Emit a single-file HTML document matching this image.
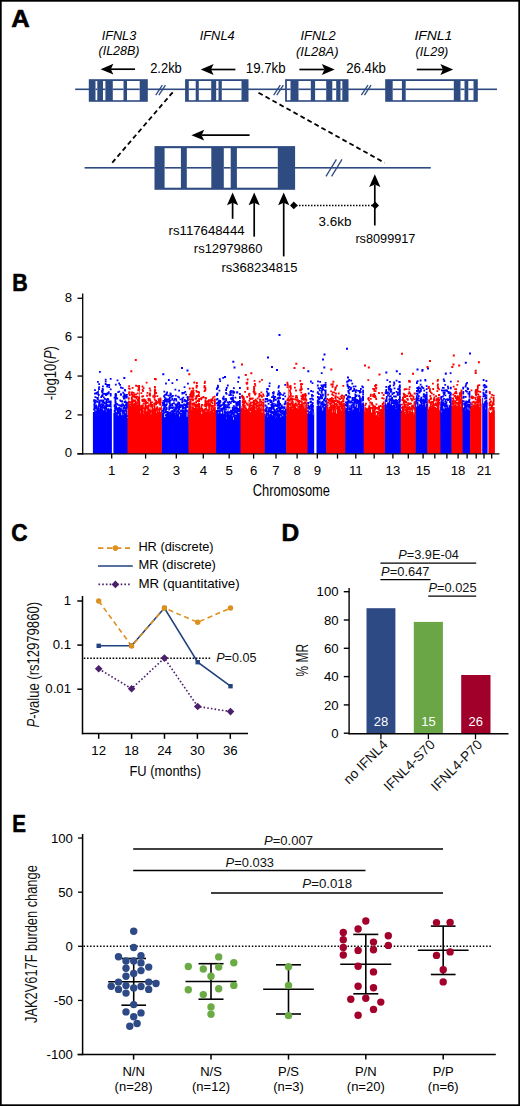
<!DOCTYPE html>
<html><head><meta charset="utf-8"><style>html,body{margin:0;padding:0;background:#fff;}svg{display:block;}text{font-family:"Liberation Sans",sans-serif;}</style></head>
<body><svg width="520" height="1106" viewBox="0 0 520 1106">
<rect width="520" height="1106" fill="#fff"/>
<text transform="translate(11.2,27.2) scale(1.1,1)" font-size="23.3" font-weight="bold" fill="#000" stroke="#000" stroke-width="0.6" stroke-linejoin="round">A</text>
<rect x="75.20" y="88.50" width="421.80" height="1.60" fill="#2e4b82"/>
<rect x="88.80" y="79.20" width="59.00" height="22.60" fill="#2e4b82"/>
<rect x="95.50" y="81.00" width="1.80" height="19.20" fill="#fff"/>
<rect x="103.00" y="81.00" width="2.40" height="19.20" fill="#fff"/>
<rect x="112.80" y="81.00" width="10.70" height="19.20" fill="#fff"/>
<rect x="127.00" y="81.00" width="12.70" height="19.20" fill="#fff"/>
<rect x="95.50" y="88.50" width="1.80" height="1.60" fill="#2e4b82"/>
<rect x="103.00" y="88.50" width="2.40" height="1.60" fill="#2e4b82"/>
<rect x="112.80" y="88.50" width="10.70" height="1.60" fill="#2e4b82"/>
<rect x="127.00" y="88.50" width="12.70" height="1.60" fill="#2e4b82"/>
<rect x="185.10" y="79.20" width="63.40" height="22.60" fill="#2e4b82"/>
<rect x="188.80" y="81.00" width="6.90" height="19.20" fill="#fff"/>
<rect x="198.80" y="81.00" width="12.40" height="19.20" fill="#fff"/>
<rect x="216.20" y="81.00" width="2.30" height="19.20" fill="#fff"/>
<rect x="221.80" y="81.00" width="19.70" height="19.20" fill="#fff"/>
<rect x="188.80" y="88.50" width="6.90" height="1.60" fill="#2e4b82"/>
<rect x="198.80" y="88.50" width="12.40" height="1.60" fill="#2e4b82"/>
<rect x="216.20" y="88.50" width="2.30" height="1.60" fill="#2e4b82"/>
<rect x="221.80" y="88.50" width="19.70" height="1.60" fill="#2e4b82"/>
<rect x="285.10" y="79.20" width="63.40" height="22.60" fill="#2e4b82"/>
<rect x="286.90" y="81.00" width="3.60" height="19.20" fill="#fff"/>
<rect x="298.50" y="81.00" width="12.30" height="19.20" fill="#fff"/>
<rect x="315.10" y="81.00" width="11.10" height="19.20" fill="#fff"/>
<rect x="332.30" y="81.00" width="3.90" height="19.20" fill="#fff"/>
<rect x="340.50" y="81.00" width="1.80" height="19.20" fill="#fff"/>
<rect x="286.90" y="88.50" width="3.60" height="1.60" fill="#2e4b82"/>
<rect x="298.50" y="88.50" width="12.30" height="1.60" fill="#2e4b82"/>
<rect x="315.10" y="88.50" width="11.10" height="1.60" fill="#2e4b82"/>
<rect x="332.30" y="88.50" width="3.90" height="1.60" fill="#2e4b82"/>
<rect x="340.50" y="88.50" width="1.80" height="1.60" fill="#2e4b82"/>
<rect x="385.20" y="79.20" width="92.60" height="22.60" fill="#2e4b82"/>
<rect x="392.70" y="81.00" width="9.20" height="19.20" fill="#fff"/>
<rect x="405.70" y="81.00" width="48.10" height="19.20" fill="#fff"/>
<rect x="460.50" y="81.00" width="4.00" height="19.20" fill="#fff"/>
<rect x="468.30" y="81.00" width="5.20" height="19.20" fill="#fff"/>
<rect x="392.70" y="88.50" width="9.20" height="1.60" fill="#2e4b82"/>
<rect x="405.70" y="88.50" width="48.10" height="1.60" fill="#2e4b82"/>
<rect x="460.50" y="88.50" width="4.00" height="1.60" fill="#2e4b82"/>
<rect x="468.30" y="88.50" width="5.20" height="1.60" fill="#2e4b82"/>
<line x1="155.74999999999997" y1="95.2" x2="162.35" y2="85.2" stroke="#2e4b82" stroke-width="1.3" />
<line x1="158.85" y1="95.2" x2="165.45000000000002" y2="85.2" stroke="#2e4b82" stroke-width="1.3" />
<line x1="273.65" y1="95.2" x2="280.25" y2="85.2" stroke="#2e4b82" stroke-width="1.3" />
<line x1="276.75" y1="95.2" x2="283.35" y2="85.2" stroke="#2e4b82" stroke-width="1.3" />
<line x1="361.34999999999997" y1="95.2" x2="367.95" y2="85.2" stroke="#2e4b82" stroke-width="1.3" />
<line x1="364.45" y1="95.2" x2="371.05" y2="85.2" stroke="#2e4b82" stroke-width="1.3" />
<text x="101.7" y="39.7" font-size="13.6" font-style="italic" textLength="34.5" lengthAdjust="spacingAndGlyphs" >IFNL3</text>
<text x="98.5" y="55.2" font-size="13.6" font-style="italic" textLength="41" lengthAdjust="spacingAndGlyphs" >(IL28B)</text>
<text x="199.7" y="40" font-size="13.6" font-style="italic" textLength="35" lengthAdjust="spacingAndGlyphs" >IFNL4</text>
<text x="300.5" y="40" font-size="13.6" font-style="italic" textLength="35.3" lengthAdjust="spacingAndGlyphs" >IFNL2</text>
<text x="296" y="55.6" font-size="13.6" font-style="italic" textLength="42.5" lengthAdjust="spacingAndGlyphs" >(IL28A)</text>
<text x="414.4" y="40" font-size="13.6" font-style="italic" textLength="38" lengthAdjust="spacingAndGlyphs" >IFNL1</text>
<text x="415.5" y="55.6" font-size="13.6" font-style="italic" textLength="32.8" lengthAdjust="spacingAndGlyphs" >(IL29)</text>
<text x="150.2" y="73.2" font-size="14" textLength="31.6" lengthAdjust="spacingAndGlyphs" >2.2kb</text>
<text x="245.8" y="73.4" font-size="14" textLength="39.8" lengthAdjust="spacingAndGlyphs" >19.7kb</text>
<text x="346.2" y="73.4" font-size="14" textLength="39.8" lengthAdjust="spacingAndGlyphs" >26.4kb</text>
<line x1="110.8" y1="69.2" x2="135" y2="69.2" stroke="#000" stroke-width="1.7" />
<path d="M100.6,69.2 L113.39999999999999,63.800000000000004 L110.8,69.2 L113.39999999999999,74.60000000000001 Z" fill="#000"/>
<line x1="211.0" y1="69.5" x2="235.4" y2="69.5" stroke="#000" stroke-width="1.7" />
<path d="M200.8,69.5 L213.60000000000002,64.1 L211.0,69.5 L213.60000000000002,74.9 Z" fill="#000"/>
<line x1="324.5" y1="69.5" x2="299.4" y2="69.5" stroke="#000" stroke-width="1.7" />
<path d="M334.7,69.5 L321.9,64.1 L324.5,69.5 L321.9,74.9 Z" fill="#000"/>
<line x1="443.0" y1="69.5" x2="416.8" y2="69.5" stroke="#000" stroke-width="1.7" />
<path d="M453.2,69.5 L440.4,64.1 L443.0,69.5 L440.4,74.9 Z" fill="#000"/>
<rect x="84.60" y="167.00" width="346.20" height="1.60" fill="#2e4b82"/>
<rect x="154.50" y="146.10" width="140.60" height="43.70" fill="#2e4b82"/>
<rect x="164.60" y="148.20" width="16.30" height="39.50" fill="#fff"/>
<rect x="186.80" y="148.20" width="24.50" height="39.50" fill="#fff"/>
<rect x="223.80" y="148.20" width="6.90" height="39.50" fill="#fff"/>
<rect x="236.90" y="148.20" width="40.90" height="39.50" fill="#fff"/>
<rect x="164.60" y="167.00" width="16.30" height="1.60" fill="#2e4b82"/>
<rect x="186.80" y="167.00" width="24.50" height="1.60" fill="#2e4b82"/>
<rect x="223.80" y="167.00" width="6.90" height="1.60" fill="#2e4b82"/>
<rect x="236.90" y="167.00" width="40.90" height="1.60" fill="#2e4b82"/>
<line x1="201.6" y1="135.2" x2="249.6" y2="135.2" stroke="#000" stroke-width="1.7" />
<path d="M191.4,135.2 L204.20000000000002,129.79999999999998 L201.6,135.2 L204.20000000000002,140.6 Z" fill="#000"/>
<line x1="326.0" y1="176.3" x2="336.4" y2="159.4" stroke="#2e4b82" stroke-width="1.3" />
<line x1="331.6" y1="176.3" x2="342.0" y2="159.4" stroke="#2e4b82" stroke-width="1.3" />
<line x1="172.7" y1="92.3" x2="111.9" y2="163.1" stroke="#000" stroke-width="1.8" stroke-dasharray="4.8 3.2"/>
<line x1="258.5" y1="92.7" x2="384.6" y2="162.8" stroke="#000" stroke-width="1.8" stroke-dasharray="4.8 3.2"/>
<line x1="232.6" y1="202.8" x2="232.6" y2="218.8" stroke="#000" stroke-width="1.7" />
<path d="M232.6,192.4 L227.0,205.20000000000002 L232.6,202.8 L238.2,205.20000000000002 Z" fill="#000"/>
<line x1="254.2" y1="202.8" x2="254.2" y2="236.7" stroke="#000" stroke-width="1.7" />
<path d="M254.2,192.4 L248.6,205.20000000000002 L254.2,202.8 L259.8,205.20000000000002 Z" fill="#000"/>
<line x1="283.7" y1="202.8" x2="283.7" y2="256.4" stroke="#000" stroke-width="1.7" />
<path d="M283.7,192.4 L278.09999999999997,205.20000000000002 L283.7,202.8 L289.3,205.20000000000002 Z" fill="#000"/>
<line x1="374.8" y1="184.6" x2="374.8" y2="225.5" stroke="#000" stroke-width="1.7" />
<path d="M374.8,174.2 L369.2,187.0 L374.8,184.6 L380.40000000000003,187.0 Z" fill="#000"/>
<line x1="296" y1="205.4" x2="373" y2="205.4" stroke="#000" stroke-width="1.5" stroke-dasharray="1.5 1.5"/>
<path d="M293.8,201.6 L297.6,205.4 L293.8,209.20000000000002 L290.0,205.4 Z" fill="#000"/>
<path d="M375.2,201.6 L379.0,205.4 L375.2,209.20000000000002 L371.4,205.4 Z" fill="#000"/>
<text x="168.6" y="235.2" font-size="13" textLength="76" lengthAdjust="spacingAndGlyphs" >rs117648444</text>
<text x="193.8" y="252.7" font-size="13" textLength="68.7" lengthAdjust="spacingAndGlyphs" >rs12979860</text>
<text x="221.5" y="271.8" font-size="13" textLength="76" lengthAdjust="spacingAndGlyphs" >rs368234815</text>
<text x="318.5" y="225.5" font-size="13.6" textLength="32.9" lengthAdjust="spacingAndGlyphs" >3.6kb</text>
<text x="355.4" y="242.5" font-size="13" textLength="60" lengthAdjust="spacingAndGlyphs" >rs8099917</text>
<text transform="translate(12.2,291.3) scale(0.92,1)" font-size="23.3" font-weight="bold" fill="#000" stroke="#000" stroke-width="0.6" stroke-linejoin="round">B</text>
<path fill="#0000ff" d="M92.9,453.8 L92.9,411.9 L93.9,411.9 L93.9,408.2 L94.6,408.2 L94.6,412.2 L95.3,412.2 L95.3,409.2 L96.0,409.2 L96.0,411.9 L96.7,411.9 L96.7,412.1 L97.4,412.1 L97.4,405.5 L98.1,405.5 L98.1,387.2 L98.8,387.2 L98.8,405.8 L99.5,405.8 L99.5,409.8 L100.2,409.8 L100.2,405.2 L100.9,405.2 L100.9,408.8 L101.6,408.8 L101.6,406.5 L102.3,406.5 L102.3,408.6 L103.0,408.6 L103.0,412.4 L103.7,412.4 L103.7,409.5 L104.4,409.5 L104.4,410.9 L105.1,410.9 L105.1,408.6 L105.8,408.6 L105.8,407.1 L106.5,407.1 L106.5,412.2 L107.2,412.2 L107.2,409.3 L107.9,409.3 L107.9,408.2 L108.6,408.2 L108.6,407.8 L109.3,407.8 L109.3,411.0 L110.0,411.0 L110.0,407.5 L110.7,407.5 L110.7,409.1 L111.4,409.1 L111.4,406.8 L111.9,406.8 L111.9,453.8ZM113.4,453.8 L113.4,412.8 L114.4,412.8 L114.4,410.1 L115.1,410.1 L115.1,407.1 L115.8,407.1 L115.8,412.1 L116.5,412.1 L116.5,412.3 L117.2,412.3 L117.2,413.8 L117.9,413.8 L117.9,415.6 L118.6,415.6 L118.6,410.1 L119.3,410.1 L119.3,412.2 L120.0,412.2 L120.0,412.4 L120.7,412.4 L120.7,406.8 L121.4,406.8 L121.4,415.2 L122.1,415.2 L122.1,411.9 L122.8,411.9 L122.8,414.8 L123.5,414.8 L123.5,407.1 L124.2,407.1 L124.2,411.5 L124.9,411.5 L124.9,413.2 L125.6,413.2 L125.6,412.6 L126.3,412.6 L126.3,408.2 L127.0,408.2 L127.0,418.0 L127.7,418.0 L127.7,406.7 L128.1,406.7 L128.1,453.8ZM161.2,453.8 L161.2,410.8 L162.2,410.8 L162.2,412.7 L162.9,412.7 L162.9,413.2 L163.6,413.2 L163.6,409.5 L164.3,409.5 L164.3,417.3 L165.0,417.3 L165.0,416.8 L165.7,416.8 L165.7,409.2 L166.4,409.2 L166.4,414.4 L167.1,414.4 L167.1,415.0 L167.8,415.0 L167.8,411.7 L168.5,411.7 L168.5,411.3 L169.2,411.3 L169.2,413.8 L169.9,413.8 L169.9,415.0 L170.6,415.0 L170.6,413.1 L171.3,413.1 L171.3,412.1 L172.0,412.1 L172.0,411.7 L172.7,411.7 L172.7,413.0 L173.4,413.0 L173.4,412.9 L174.1,412.9 L174.1,412.8 L174.8,412.8 L174.8,410.3 L175.5,410.3 L175.5,415.1 L176.2,415.1 L176.2,415.1 L176.9,415.1 L176.9,414.1 L177.6,414.1 L177.6,411.1 L178.3,411.1 L178.3,413.7 L179.0,413.7 L179.0,416.5 L179.7,416.5 L179.7,412.4 L180.4,412.4 L180.4,414.2 L181.1,414.2 L181.1,415.0 L181.8,415.0 L181.8,413.9 L182.5,413.9 L182.5,414.7 L183.2,414.7 L183.2,413.3 L183.9,413.3 L183.9,411.7 L184.6,411.7 L184.6,410.5 L185.3,410.5 L185.3,412.0 L186.0,412.0 L186.0,412.5 L186.7,412.5 L186.7,416.8 L187.4,416.8 L187.4,411.8 L188.1,411.8 L188.1,408.4 L188.8,408.4 L189.1,453.8ZM215.5,453.8 L215.5,415.9 L216.5,415.9 L216.5,416.1 L217.2,416.1 L217.2,410.0 L217.9,410.0 L217.9,413.5 L218.6,413.5 L218.6,410.1 L219.3,410.1 L219.3,406.7 L220.0,406.7 L220.0,409.0 L220.7,409.0 L220.7,413.8 L221.4,413.8 L221.4,413.2 L222.1,413.2 L222.1,408.8 L222.8,408.8 L222.8,407.3 L223.5,407.3 L223.5,413.8 L224.2,413.8 L224.2,407.5 L224.9,407.5 L224.9,414.6 L225.6,414.6 L225.6,407.8 L226.3,407.8 L226.3,418.6 L227.0,418.6 L227.0,412.8 L227.7,412.8 L227.7,408.7 L228.4,408.7 L228.4,413.8 L229.1,413.8 L229.1,412.4 L229.8,412.4 L229.8,415.1 L230.5,415.1 L230.5,414.0 L231.2,414.0 L231.2,413.4 L231.9,413.4 L231.9,416.2 L232.6,416.2 L232.6,413.3 L233.3,413.3 L233.3,419.8 L234.0,419.8 L234.0,405.6 L234.7,405.6 L234.7,414.6 L235.4,414.6 L235.4,416.4 L236.1,416.4 L236.1,414.8 L236.8,414.8 L236.8,412.0 L237.5,412.0 L237.5,412.8 L238.2,412.8 L238.2,413.8 L238.9,413.8 L238.9,414.3 L239.6,414.3 L239.6,408.3 L240.3,408.3 L240.3,412.3 L241.1,412.3 L241.1,453.8ZM264.1,453.8 L264.1,414.0 L265.1,414.0 L265.1,415.2 L265.8,415.2 L265.8,412.2 L266.5,412.2 L266.5,404.7 L267.2,404.7 L267.2,416.8 L267.9,416.8 L267.9,412.1 L268.6,412.1 L268.6,409.9 L269.3,409.9 L269.3,415.2 L270.0,415.2 L270.0,413.6 L270.7,413.6 L270.7,414.2 L271.4,414.2 L271.4,413.0 L272.1,413.0 L272.1,415.2 L272.8,415.2 L272.8,407.6 L273.5,407.6 L273.5,411.5 L274.2,411.5 L274.2,414.5 L274.9,414.5 L274.9,416.3 L275.6,416.3 L275.6,418.0 L276.3,418.0 L276.3,412.4 L277.0,412.4 L277.0,408.7 L277.7,408.7 L277.7,414.4 L278.4,414.4 L278.4,409.7 L279.1,409.7 L279.1,414.8 L279.8,414.8 L279.8,412.8 L280.5,412.8 L280.5,417.2 L281.2,417.2 L281.2,414.5 L281.9,414.5 L281.9,412.6 L282.6,412.6 L282.6,418.0 L283.3,418.0 L283.3,408.2 L284.0,408.2 L284.0,411.5 L284.7,411.5 L284.7,413.1 L285.4,413.1 L285.4,410.1 L286.1,410.1 L286.1,416.0 L286.8,416.0 L286.8,453.8ZM306.9,453.8 L306.9,413.4 L307.9,413.4 L307.9,412.6 L308.6,412.6 L308.6,412.5 L309.3,412.5 L309.3,414.0 L310.0,414.0 L310.0,412.5 L310.7,412.5 L310.7,412.2 L311.4,412.2 L311.4,410.1 L312.1,410.1 L312.1,413.0 L312.8,413.0 L312.8,414.4 L313.5,414.4 L313.5,412.8 L314.2,412.8 L314.2,453.8ZM316.5,453.8 L316.5,405.9 L317.5,405.9 L317.5,398.9 L318.2,398.9 L318.2,404.1 L318.9,404.1 L318.9,406.1 L319.6,406.1 L319.6,399.2 L320.3,399.2 L320.3,405.2 L321.0,405.2 L321.0,404.4 L321.7,404.4 L321.7,407.6 L322.4,407.6 L322.4,410.6 L323.1,410.6 L323.1,404.3 L323.8,404.3 L323.8,406.9 L324.5,406.9 L324.5,407.3 L325.2,407.3 L325.2,404.9 L325.9,404.9 L325.9,399.3 L326.8,399.3 L326.8,453.8ZM344.7,453.8 L344.7,407.5 L345.7,407.5 L345.7,410.7 L346.4,410.7 L346.4,409.6 L347.1,409.6 L347.1,405.2 L347.8,405.2 L347.8,402.6 L348.5,402.6 L348.5,410.9 L349.2,410.9 L349.2,405.1 L349.9,405.1 L349.9,408.0 L350.6,408.0 L350.6,404.6 L351.3,404.6 L351.3,405.8 L352.0,405.8 L352.0,406.5 L352.7,406.5 L352.7,410.5 L353.4,410.5 L353.4,404.3 L354.1,404.3 L354.1,403.4 L354.8,403.4 L354.8,406.7 L355.5,406.7 L355.5,403.6 L356.2,403.6 L356.2,404.3 L356.9,404.3 L356.9,408.1 L357.6,408.1 L357.6,405.1 L358.3,405.1 L358.3,405.1 L359.0,405.1 L359.0,404.3 L359.7,404.3 L359.7,411.5 L360.4,411.5 L360.4,412.0 L361.1,412.0 L361.1,406.9 L361.8,406.9 L361.8,408.4 L362.5,408.4 L362.5,408.0 L363.2,408.0 L363.2,403.1 L363.9,403.1 L363.9,406.1 L364.3,406.1 L364.3,453.8ZM384.3,453.8 L384.3,404.9 L385.3,404.9 L385.3,400.9 L386.0,400.9 L386.0,405.1 L386.7,405.1 L386.7,408.4 L387.4,408.4 L387.4,403.9 L388.1,403.9 L388.1,404.0 L388.8,404.0 L388.8,400.5 L389.5,400.5 L389.5,395.4 L390.2,395.4 L390.2,405.3 L390.9,405.3 L390.9,404.4 L391.6,404.4 L391.6,408.0 L392.3,408.0 L392.3,407.8 L393.0,407.8 L393.0,404.5 L393.7,404.5 L393.7,402.2 L394.4,402.2 L394.4,405.0 L395.1,405.0 L395.1,406.3 L395.8,406.3 L395.8,409.0 L396.5,409.0 L396.5,407.9 L397.2,407.9 L397.2,406.4 L397.9,406.4 L397.9,406.7 L398.6,406.7 L398.6,402.4 L399.3,402.4 L399.3,405.6 L400.0,405.6 L400.0,404.0 L400.7,404.0 L400.7,408.6 L401.1,408.6 L401.1,453.8ZM415.1,453.8 L415.1,401.5 L416.1,401.5 L416.1,406.7 L416.8,406.7 L416.8,406.1 L417.5,406.1 L417.5,400.0 L418.2,400.0 L418.2,405.7 L418.9,405.7 L418.9,403.8 L419.6,403.8 L419.6,404.4 L420.3,404.4 L420.3,404.6 L421.0,404.6 L421.0,404.4 L421.7,404.4 L421.7,404.9 L422.4,404.9 L422.4,404.8 L423.1,404.8 L423.1,399.2 L423.8,399.2 L423.8,402.6 L424.5,402.6 L424.5,402.6 L425.2,402.6 L425.2,406.7 L425.9,406.7 L425.9,402.8 L426.6,402.8 L426.6,406.1 L427.3,406.1 L427.3,398.7 L427.9,398.7 L427.9,453.8ZM439.9,453.8 L439.9,407.2 L440.9,407.2 L440.9,412.2 L441.6,412.2 L441.6,405.8 L442.3,405.8 L442.3,405.8 L443.0,405.8 L443.0,407.6 L443.7,407.6 L443.7,409.1 L444.4,409.1 L444.4,406.4 L445.1,406.4 L445.1,405.8 L445.8,405.8 L445.8,407.9 L446.5,407.9 L446.5,404.6 L447.2,404.6 L447.2,405.2 L447.9,405.2 L447.9,407.5 L448.6,407.5 L448.6,404.5 L449.3,404.5 L449.3,405.2 L450.0,405.2 L450.0,401.4 L450.7,401.4 L450.7,403.3 L451.4,403.3 L451.4,405.4 L452.0,405.4 L452.0,453.8ZM462.0,453.8 L462.0,400.1 L463.0,400.1 L463.0,411.5 L463.7,411.5 L463.7,408.2 L464.4,408.2 L464.4,410.5 L465.1,410.5 L465.1,407.7 L465.8,407.7 L465.8,410.0 L466.5,410.0 L466.5,403.0 L467.2,403.0 L467.2,410.7 L467.9,410.7 L467.9,406.4 L468.6,406.4 L468.6,410.6 L469.3,410.6 L469.3,408.9 L470.0,408.9 L470.0,402.0 L470.7,402.0 L470.7,453.8ZM482.2,453.8 L482.2,397.8 L483.2,397.8 L483.2,403.5 L483.9,403.5 L483.9,405.8 L484.6,405.8 L484.6,402.8 L485.3,402.8 L485.3,408.4 L486.0,408.4 L486.0,402.0 L486.7,402.0 L486.7,402.2 L487.6,402.2 L487.6,453.8Z"/>
<path fill="#ff0000" d="M127.5,453.8 L127.5,402.1 L128.5,402.1 L128.5,396.3 L129.2,396.3 L129.2,404.7 L129.9,404.7 L129.9,405.5 L130.6,405.5 L130.6,405.3 L131.3,405.3 L131.3,400.9 L132.0,400.9 L132.0,401.6 L132.7,401.6 L132.7,400.8 L133.4,400.8 L133.4,403.7 L134.1,403.7 L134.1,403.2 L134.8,403.2 L134.8,400.4 L135.5,400.4 L135.5,398.8 L136.2,398.8 L136.2,401.2 L136.9,401.2 L136.9,404.7 L137.6,404.7 L137.6,400.5 L138.3,400.5 L138.3,403.4 L139.0,403.4 L139.0,389.6 L139.7,389.6 L139.7,402.1 L140.3,402.1 L140.3,453.8ZM139.7,453.8 L139.7,413.7 L140.7,413.7 L140.7,408.9 L141.4,408.9 L141.4,410.9 L142.1,410.9 L142.1,410.3 L142.8,410.3 L142.8,410.2 L143.5,410.2 L143.5,415.0 L144.2,415.0 L144.2,409.9 L144.9,409.9 L144.9,410.1 L145.6,410.1 L145.6,409.9 L146.3,409.9 L146.3,412.3 L147.0,412.3 L147.0,409.1 L147.7,409.1 L147.7,412.4 L148.4,412.4 L148.4,402.3 L149.1,402.3 L149.1,413.7 L149.8,413.7 L149.8,407.1 L150.5,407.1 L150.5,414.2 L151.2,414.2 L151.2,409.9 L151.9,409.9 L151.9,407.8 L152.6,407.8 L152.6,408.3 L153.3,408.3 L153.3,408.4 L154.0,408.4 L154.0,402.4 L154.7,402.4 L154.7,404.7 L155.4,404.7 L155.4,409.5 L156.1,409.5 L156.1,412.4 L156.8,412.4 L156.8,412.9 L157.5,412.9 L157.5,406.0 L158.2,406.0 L158.2,411.6 L158.9,411.6 L158.9,409.0 L159.6,409.0 L159.6,407.1 L160.3,407.1 L160.3,412.1 L161.0,412.1 L161.0,405.9 L161.8,405.9 L161.8,453.8ZM188.5,453.8 L188.5,401.7 L189.5,401.7 L189.5,402.1 L190.2,402.1 L190.2,401.6 L190.9,401.6 L190.9,400.8 L191.6,400.8 L191.6,409.4 L192.3,409.4 L192.3,402.5 L193.0,402.5 L193.0,406.0 L193.7,406.0 L193.7,407.8 L194.4,407.8 L194.4,407.9 L195.1,407.9 L195.1,405.4 L195.8,405.4 L195.8,396.5 L196.5,396.5 L196.5,407.2 L197.2,407.2 L197.2,408.2 L197.9,408.2 L197.9,402.3 L198.6,402.3 L198.6,407.4 L199.3,407.4 L199.3,406.6 L200.0,406.6 L200.3,453.8ZM199.7,453.8 L199.7,409.0 L200.7,409.0 L200.7,411.0 L201.4,411.0 L201.4,414.1 L202.1,414.1 L202.1,409.5 L202.8,409.5 L202.8,411.1 L203.5,411.1 L203.5,411.6 L204.2,411.6 L204.2,409.0 L204.9,409.0 L204.9,411.1 L205.6,411.1 L205.6,411.9 L206.3,411.9 L206.3,406.8 L207.0,406.8 L207.0,411.0 L207.7,411.0 L207.7,410.3 L208.4,410.3 L208.4,409.6 L209.1,409.6 L209.1,407.7 L209.8,407.7 L209.8,413.2 L210.5,413.2 L210.5,406.0 L211.2,406.0 L211.2,407.3 L211.9,407.3 L211.9,407.0 L212.6,407.0 L212.6,409.5 L213.3,409.5 L213.3,412.3 L214.0,412.3 L214.0,410.2 L214.7,410.2 L214.7,409.3 L215.4,409.3 L215.4,410.7 L216.1,410.7 L216.1,453.8ZM240.5,453.8 L240.5,409.3 L241.5,409.3 L241.5,405.9 L242.2,405.9 L242.2,407.5 L242.9,407.5 L242.9,405.7 L243.6,405.7 L243.6,407.0 L244.3,407.0 L244.3,408.8 L245.0,408.8 L245.0,409.5 L245.7,409.5 L245.7,406.4 L246.4,406.4 L246.4,408.2 L247.1,408.2 L247.1,409.0 L247.8,409.0 L247.8,409.2 L248.5,409.2 L248.5,402.3 L249.2,402.3 L249.2,410.0 L249.9,410.0 L249.9,412.3 L250.6,412.3 L250.6,409.0 L251.3,409.0 L251.3,410.9 L252.0,410.9 L252.0,411.0 L252.7,411.0 L252.7,407.1 L253.4,407.1 L253.4,406.1 L254.1,406.1 L254.1,405.4 L254.8,405.4 L254.8,404.0 L255.5,404.0 L255.5,410.1 L256.2,410.1 L256.2,407.5 L256.9,407.5 L256.9,407.1 L257.6,407.1 L257.6,409.4 L258.3,409.4 L258.3,408.7 L259.0,408.7 L259.0,400.3 L259.7,400.3 L259.7,408.3 L260.4,408.3 L260.4,405.5 L261.1,405.5 L261.1,406.8 L261.8,406.8 L261.8,412.4 L262.5,412.4 L262.5,405.1 L263.2,405.1 L263.2,406.9 L263.9,406.9 L263.9,408.9 L264.7,408.9 L264.7,453.8ZM286.2,453.8 L286.2,406.5 L287.2,406.5 L287.2,407.6 L287.9,407.6 L287.9,383.8 L288.6,383.8 L288.6,403.7 L289.3,403.7 L289.3,409.3 L290.0,409.3 L290.0,405.1 L290.7,405.1 L290.7,407.7 L291.4,407.7 L291.4,404.2 L292.1,404.2 L292.1,408.7 L292.8,408.7 L292.8,406.8 L293.5,406.8 L293.5,407.8 L294.2,407.8 L294.2,407.4 L294.9,407.4 L294.9,406.6 L295.6,406.6 L295.6,398.2 L296.3,398.2 L296.3,408.1 L297.0,408.1 L297.0,406.0 L297.7,406.0 L297.7,408.4 L298.4,408.4 L298.4,405.2 L299.1,405.2 L299.1,408.1 L299.8,408.1 L299.8,408.0 L300.5,408.0 L300.5,405.7 L301.2,405.7 L301.2,399.8 L301.9,399.8 L301.9,406.3 L302.6,406.3 L302.6,402.5 L303.3,402.5 L303.3,406.3 L304.0,406.3 L304.0,401.5 L304.7,401.5 L304.7,408.4 L305.4,408.4 L305.4,405.3 L306.1,405.3 L306.1,409.0 L306.8,409.0 L306.8,407.1 L307.5,407.1 L307.5,453.8ZM326.2,453.8 L326.2,407.5 L327.2,407.5 L327.2,402.9 L327.9,402.9 L327.9,407.4 L328.6,407.4 L328.6,410.2 L329.3,410.2 L329.3,410.4 L330.0,410.4 L330.0,405.0 L330.7,405.0 L330.7,409.1 L331.4,409.1 L331.4,407.6 L332.1,407.6 L332.1,412.4 L332.8,412.4 L332.8,408.1 L333.5,408.1 L333.5,408.7 L334.2,408.7 L334.2,411.7 L334.9,411.7 L334.9,405.4 L335.6,405.4 L335.6,409.6 L336.3,409.6 L336.3,413.5 L337.0,413.5 L337.0,409.3 L337.7,409.3 L337.7,410.1 L338.4,410.1 L338.4,408.1 L339.1,408.1 L339.1,406.5 L339.8,406.5 L339.8,408.1 L340.5,408.1 L340.5,409.2 L341.2,409.2 L341.2,410.5 L341.9,410.5 L341.9,407.1 L342.6,407.1 L342.6,408.3 L343.3,408.3 L343.3,410.2 L344.0,410.2 L344.0,409.9 L344.7,409.9 L344.7,406.4 L345.3,406.4 L345.3,453.8ZM363.7,453.8 L363.7,409.2 L364.7,409.2 L364.7,410.7 L365.4,410.7 L365.4,411.7 L366.1,411.7 L366.1,408.9 L366.8,408.9 L366.8,410.9 L367.5,410.9 L367.5,410.5 L368.2,410.5 L368.2,410.3 L368.9,410.3 L368.9,410.0 L369.6,410.0 L369.6,401.4 L370.3,401.4 L370.3,409.1 L371.0,409.1 L371.0,412.8 L371.7,412.8 L371.7,411.5 L372.4,411.5 L372.4,408.9 L373.1,408.9 L373.1,412.3 L373.8,412.3 L373.8,410.0 L374.5,410.0 L374.5,407.3 L375.2,407.3 L375.2,411.9 L375.9,411.9 L375.9,416.0 L376.6,416.0 L376.6,414.8 L377.3,414.8 L377.3,411.8 L378.0,411.8 L378.0,410.9 L378.7,410.9 L378.7,416.4 L379.4,416.4 L379.4,412.2 L380.1,412.2 L380.1,410.7 L380.8,410.7 L380.8,410.7 L381.5,410.7 L381.5,408.5 L382.2,408.5 L382.2,408.1 L382.9,408.1 L382.9,409.7 L383.6,409.7 L383.6,408.6 L384.3,408.6 L384.3,413.9 L384.9,413.9 L384.9,453.8ZM400.7,453.8 L400.7,412.7 L401.7,412.7 L401.7,410.1 L402.4,410.1 L402.4,410.9 L403.1,410.9 L403.1,408.8 L403.8,408.8 L403.8,406.9 L404.5,406.9 L404.5,412.2 L405.2,412.2 L405.2,414.0 L405.9,414.0 L405.9,408.1 L406.6,408.1 L406.6,409.4 L407.3,409.4 L407.3,405.6 L408.0,405.6 L408.0,412.9 L408.7,412.9 L408.7,410.4 L409.4,410.4 L409.4,408.7 L410.1,408.7 L410.1,409.9 L410.8,409.9 L410.8,411.8 L411.5,411.8 L411.5,406.6 L412.2,406.6 L412.2,408.0 L412.9,408.0 L412.9,412.1 L413.6,412.1 L413.6,414.4 L414.3,414.4 L414.3,408.7 L415.0,408.7 L415.0,408.8 L415.7,408.8 L415.7,453.8ZM427.3,453.8 L427.3,401.8 L428.3,401.8 L428.3,410.8 L429.0,410.8 L429.0,407.9 L429.7,407.9 L429.7,404.7 L430.4,404.7 L430.4,404.4 L431.1,404.4 L431.1,407.5 L431.8,407.5 L431.8,403.4 L432.5,403.4 L432.5,406.4 L433.2,406.4 L433.2,402.2 L433.9,402.2 L433.9,405.5 L434.6,405.5 L434.6,406.8 L435.3,406.8 L435.3,406.9 L436.0,406.9 L436.0,407.9 L436.7,407.9 L436.7,403.8 L437.4,403.8 L437.4,406.3 L438.1,406.3 L438.1,400.6 L438.8,400.6 L438.8,404.7 L439.5,404.7 L439.5,410.3 L440.2,410.3 L440.5,453.8ZM451.4,453.8 L451.4,403.4 L452.4,403.4 L452.4,405.5 L453.1,405.5 L453.1,397.3 L453.8,397.3 L453.8,404.7 L454.5,404.7 L454.5,403.1 L455.2,403.1 L455.2,404.2 L455.9,404.2 L455.9,404.2 L456.6,404.2 L456.6,405.7 L457.3,405.7 L457.3,403.8 L458.0,403.8 L458.0,403.6 L458.7,403.6 L458.7,398.1 L459.4,398.1 L459.4,402.8 L460.1,402.8 L460.1,406.9 L460.8,406.9 L460.8,403.0 L461.5,403.0 L461.5,399.1 L462.2,399.1 L462.2,407.0 L462.6,407.0 L462.6,453.8ZM470.1,453.8 L470.1,406.3 L471.1,406.3 L471.1,405.2 L471.8,405.2 L471.8,404.3 L472.5,404.3 L472.5,407.8 L473.2,407.8 L473.2,405.5 L473.9,405.5 L473.9,402.8 L474.6,402.8 L474.6,405.5 L475.3,405.5 L475.3,403.7 L476.0,403.7 L476.0,404.1 L476.7,404.1 L476.7,400.7 L477.4,400.7 L477.4,403.4 L478.1,403.4 L478.1,402.1 L478.8,402.1 L478.8,405.1 L479.5,405.1 L479.5,407.1 L480.2,407.1 L480.2,405.6 L480.9,405.6 L480.9,403.8 L481.5,403.8 L481.5,453.8ZM488.4,453.8 L488.4,408.3 L489.4,408.3 L489.4,412.1 L490.1,412.1 L490.1,412.9 L490.8,412.9 L490.8,413.1 L491.5,413.1 L491.5,411.5 L492.2,411.5 L492.2,405.3 L492.9,405.3 L492.9,410.2 L493.6,410.2 L493.6,410.4 L494.3,410.4 L494.3,410.5 L494.9,410.5 L494.9,453.8Z"/>
<path fill="#0000ff" d="M93.5 407.1h1.8v1.8h-1.8zM93.2 400.0h1.8v1.8h-1.8zM93.8 401.7h1.8v1.8h-1.8zM93.2 408.7h1.8v1.8h-1.8zM93.2 399.2h1.8v1.8h-1.8zM94.0 392.7h1.8v1.8h-1.8zM93.5 400.5h1.8v1.8h-1.8zM93.5 404.7h1.8v1.8h-1.8zM93.4 403.6h1.8v1.8h-1.8zM93.6 400.0h1.8v1.8h-1.8zM94.5 396.2h1.8v1.8h-1.8zM93.7 405.5h1.8v1.8h-1.8zM93.6 406.3h1.8v1.8h-1.8zM94.3 399.4h1.8v1.8h-1.8zM93.4 403.6h1.8v1.8h-1.8zM94.3 411.2h1.8v1.8h-1.8zM94.9 399.9h1.8v1.8h-1.8zM94.4 401.9h1.8v1.8h-1.8zM94.1 389.2h1.8v1.8h-1.8zM94.3 406.7h1.8v1.8h-1.8zM94.4 407.0h1.8v1.8h-1.8zM95.2 404.6h1.8v1.8h-1.8zM94.9 407.1h1.8v1.8h-1.8zM95.8 392.6h1.8v1.8h-1.8zM95.0 406.6h1.8v1.8h-1.8zM96.3 397.0h1.8v1.8h-1.8zM95.6 410.5h1.8v1.8h-1.8zM96.5 410.6h1.8v1.8h-1.8zM95.9 406.8h1.8v1.8h-1.8zM95.4 391.9h1.8v1.8h-1.8zM95.7 410.7h1.8v1.8h-1.8zM96.8 409.6h1.8v1.8h-1.8zM96.3 400.9h1.8v1.8h-1.8zM96.2 408.4h1.8v1.8h-1.8zM96.8 398.7h1.8v1.8h-1.8zM96.8 409.9h1.8v1.8h-1.8zM97.9 393.9h1.8v1.8h-1.8zM96.8 391.2h1.8v1.8h-1.8zM97.3 393.5h1.8v1.8h-1.8zM97.0 380.9h1.8v1.8h-1.8zM98.3 386.2h1.8v1.8h-1.8zM98.2 383.2h1.8v1.8h-1.8zM98.2 388.3h1.8v1.8h-1.8zM99.0 370.9h1.8v1.8h-1.8zM98.2 404.6h1.8v1.8h-1.8zM98.8 401.1h1.8v1.8h-1.8zM98.6 402.2h1.8v1.8h-1.8zM98.3 404.9h1.8v1.8h-1.8zM99.1 399.8h1.8v1.8h-1.8zM99.1 404.0h1.8v1.8h-1.8zM99.3 408.2h1.8v1.8h-1.8zM100.0 405.7h1.8v1.8h-1.8zM99.4 407.8h1.8v1.8h-1.8zM99.9 406.9h1.8v1.8h-1.8zM100.3 399.6h1.8v1.8h-1.8zM100.3 396.2h1.8v1.8h-1.8zM101.5 404.1h1.8v1.8h-1.8zM101.2 406.8h1.8v1.8h-1.8zM101.2 399.9h1.8v1.8h-1.8zM100.8 403.3h1.8v1.8h-1.8zM100.4 406.4h1.8v1.8h-1.8zM101.0 403.2h1.8v1.8h-1.8zM101.6 401.3h1.8v1.8h-1.8zM101.8 393.2h1.8v1.8h-1.8zM101.7 399.7h1.8v1.8h-1.8zM101.3 404.9h1.8v1.8h-1.8zM101.9 404.4h1.8v1.8h-1.8zM102.8 392.7h1.8v1.8h-1.8zM102.2 404.2h1.8v1.8h-1.8zM102.1 406.7h1.8v1.8h-1.8zM101.9 404.3h1.8v1.8h-1.8zM102.7 400.6h1.8v1.8h-1.8zM102.8 406.9h1.8v1.8h-1.8zM102.4 399.6h1.8v1.8h-1.8zM102.6 401.8h1.8v1.8h-1.8zM103.4 405.6h1.8v1.8h-1.8zM103.3 410.1h1.8v1.8h-1.8zM102.7 411.1h1.8v1.8h-1.8zM102.9 396.5h1.8v1.8h-1.8zM102.7 400.6h1.8v1.8h-1.8zM103.5 402.6h1.8v1.8h-1.8zM104.3 407.1h1.8v1.8h-1.8zM103.2 401.9h1.8v1.8h-1.8zM104.8 380.8h1.8v1.8h-1.8zM104.7 383.1h1.8v1.8h-1.8zM104.2 405.3h1.8v1.8h-1.8zM103.8 408.0h1.8v1.8h-1.8zM104.3 393.2h1.8v1.8h-1.8zM104.8 378.8h1.8v1.8h-1.8zM104.0 397.9h1.8v1.8h-1.8zM105.3 400.9h1.8v1.8h-1.8zM105.5 404.1h1.8v1.8h-1.8zM105.3 407.3h1.8v1.8h-1.8zM105.1 394.1h1.8v1.8h-1.8zM104.5 393.1h1.8v1.8h-1.8zM105.4 401.4h1.8v1.8h-1.8zM104.8 393.2h1.8v1.8h-1.8zM105.3 398.7h1.8v1.8h-1.8zM105.2 402.2h1.8v1.8h-1.8zM105.7 403.9h1.8v1.8h-1.8zM106.3 404.3h1.8v1.8h-1.8zM106.3 385.6h1.8v1.8h-1.8zM105.4 403.5h1.8v1.8h-1.8zM106.0 399.5h1.8v1.8h-1.8zM105.7 405.4h1.8v1.8h-1.8zM106.3 401.5h1.8v1.8h-1.8zM106.7 404.8h1.8v1.8h-1.8zM106.8 397.9h1.8v1.8h-1.8zM106.7 409.6h1.8v1.8h-1.8zM106.2 408.5h1.8v1.8h-1.8zM107.1 410.4h1.8v1.8h-1.8zM106.5 411.1h1.8v1.8h-1.8zM106.3 409.3h1.8v1.8h-1.8zM107.4 398.4h1.8v1.8h-1.8zM108.0 400.4h1.8v1.8h-1.8zM107.9 405.1h1.8v1.8h-1.8zM108.3 384.1h1.8v1.8h-1.8zM107.7 392.5h1.8v1.8h-1.8zM107.5 405.3h1.8v1.8h-1.8zM107.9 391.2h1.8v1.8h-1.8zM108.3 404.6h1.8v1.8h-1.8zM108.4 404.2h1.8v1.8h-1.8zM109.1 400.9h1.8v1.8h-1.8zM108.3 386.2h1.8v1.8h-1.8zM108.3 401.5h1.8v1.8h-1.8zM109.7 404.6h1.8v1.8h-1.8zM109.1 405.2h1.8v1.8h-1.8zM109.7 401.9h1.8v1.8h-1.8zM108.9 409.2h1.8v1.8h-1.8zM109.8 408.7h1.8v1.8h-1.8zM109.8 401.1h1.8v1.8h-1.8zM109.8 393.0h1.8v1.8h-1.8zM109.8 377.9h1.8v1.8h-1.8zM109.8 400.5h1.8v1.8h-1.8zM109.8 401.0h1.8v1.8h-1.8zM109.8 402.7h1.8v1.8h-1.8zM109.8 400.6h1.8v1.8h-1.8zM109.8 405.5h1.8v1.8h-1.8zM109.8 394.8h1.8v1.8h-1.8zM109.8 388.4h1.8v1.8h-1.8zM106.6 392.2h1.8v1.8h-1.8zM106.4 393.2h1.8v1.8h-1.8zM107.4 384.3h1.8v1.8h-1.8zM106.3 393.1h1.8v1.8h-1.8zM106.4 393.4h1.8v1.8h-1.8zM106.4 384.0h1.8v1.8h-1.8zM101.1 389.9h1.8v1.8h-1.8zM101.5 394.6h1.8v1.8h-1.8zM101.3 391.0h1.8v1.8h-1.8zM101.5 391.3h1.8v1.8h-1.8zM101.1 395.1h1.8v1.8h-1.8zM101.7 388.1h1.8v1.8h-1.8zM102.0 389.6h1.8v1.8h-1.8zM102.0 388.4h1.8v1.8h-1.8zM101.8 394.0h1.8v1.8h-1.8zM102.0 385.4h1.8v1.8h-1.8zM113.7 409.7h1.8v1.8h-1.8zM113.7 405.5h1.8v1.8h-1.8zM113.8 404.8h1.8v1.8h-1.8zM113.7 410.5h1.8v1.8h-1.8zM114.0 405.3h1.8v1.8h-1.8zM113.7 404.3h1.8v1.8h-1.8zM113.7 396.7h1.8v1.8h-1.8zM114.6 407.4h1.8v1.8h-1.8zM114.6 408.0h1.8v1.8h-1.8zM114.5 401.6h1.8v1.8h-1.8zM115.0 403.5h1.8v1.8h-1.8zM114.1 407.4h1.8v1.8h-1.8zM114.7 408.5h1.8v1.8h-1.8zM114.8 407.1h1.8v1.8h-1.8zM114.9 401.6h1.8v1.8h-1.8zM114.6 408.2h1.8v1.8h-1.8zM114.7 407.0h1.8v1.8h-1.8zM114.7 401.6h1.8v1.8h-1.8zM114.9 383.8h1.8v1.8h-1.8zM114.5 399.8h1.8v1.8h-1.8zM115.3 397.5h1.8v1.8h-1.8zM114.8 402.2h1.8v1.8h-1.8zM115.3 405.7h1.8v1.8h-1.8zM115.3 397.1h1.8v1.8h-1.8zM116.4 403.2h1.8v1.8h-1.8zM116.0 407.4h1.8v1.8h-1.8zM116.4 408.9h1.8v1.8h-1.8zM116.6 379.5h1.8v1.8h-1.8zM116.2 408.8h1.8v1.8h-1.8zM116.0 403.7h1.8v1.8h-1.8zM116.4 397.6h1.8v1.8h-1.8zM117.3 412.1h1.8v1.8h-1.8zM117.8 407.2h1.8v1.8h-1.8zM117.8 408.1h1.8v1.8h-1.8zM117.6 409.1h1.8v1.8h-1.8zM117.3 391.2h1.8v1.8h-1.8zM116.7 410.6h1.8v1.8h-1.8zM116.8 412.3h1.8v1.8h-1.8zM117.5 408.4h1.8v1.8h-1.8zM118.0 408.8h1.8v1.8h-1.8zM118.4 390.8h1.8v1.8h-1.8zM117.9 407.4h1.8v1.8h-1.8zM117.7 410.4h1.8v1.8h-1.8zM118.1 404.2h1.8v1.8h-1.8zM117.6 409.8h1.8v1.8h-1.8zM118.2 382.5h1.8v1.8h-1.8zM118.5 406.8h1.8v1.8h-1.8zM118.9 408.2h1.8v1.8h-1.8zM119.2 383.9h1.8v1.8h-1.8zM118.8 410.8h1.8v1.8h-1.8zM119.2 410.4h1.8v1.8h-1.8zM119.9 405.0h1.8v1.8h-1.8zM119.3 399.4h1.8v1.8h-1.8zM120.6 405.1h1.8v1.8h-1.8zM120.1 409.8h1.8v1.8h-1.8zM120.1 393.3h1.8v1.8h-1.8zM119.6 404.9h1.8v1.8h-1.8zM120.0 386.6h1.8v1.8h-1.8zM119.9 393.9h1.8v1.8h-1.8zM119.9 408.1h1.8v1.8h-1.8zM120.1 400.2h1.8v1.8h-1.8zM120.3 404.2h1.8v1.8h-1.8zM121.3 400.6h1.8v1.8h-1.8zM121.0 405.5h1.8v1.8h-1.8zM120.2 393.8h1.8v1.8h-1.8zM121.0 404.9h1.8v1.8h-1.8zM121.6 403.3h1.8v1.8h-1.8zM121.5 409.5h1.8v1.8h-1.8zM121.7 410.5h1.8v1.8h-1.8zM121.1 400.3h1.8v1.8h-1.8zM122.6 410.8h1.8v1.8h-1.8zM121.5 409.9h1.8v1.8h-1.8zM121.8 387.3h1.8v1.8h-1.8zM122.2 403.7h1.8v1.8h-1.8zM122.3 391.7h1.8v1.8h-1.8zM122.9 410.6h1.8v1.8h-1.8zM122.6 410.0h1.8v1.8h-1.8zM122.5 407.6h1.8v1.8h-1.8zM123.1 404.8h1.8v1.8h-1.8zM122.3 412.4h1.8v1.8h-1.8zM123.2 395.9h1.8v1.8h-1.8zM123.1 409.9h1.8v1.8h-1.8zM123.4 393.2h1.8v1.8h-1.8zM123.9 394.8h1.8v1.8h-1.8zM123.7 397.8h1.8v1.8h-1.8zM123.3 406.1h1.8v1.8h-1.8zM123.8 401.1h1.8v1.8h-1.8zM123.4 405.5h1.8v1.8h-1.8zM123.0 397.8h1.8v1.8h-1.8zM124.3 389.6h1.8v1.8h-1.8zM124.4 404.5h1.8v1.8h-1.8zM124.5 400.4h1.8v1.8h-1.8zM123.9 388.9h1.8v1.8h-1.8zM123.7 407.1h1.8v1.8h-1.8zM124.5 400.6h1.8v1.8h-1.8zM124.6 409.2h1.8v1.8h-1.8zM124.7 395.9h1.8v1.8h-1.8zM124.7 409.6h1.8v1.8h-1.8zM125.2 394.2h1.8v1.8h-1.8zM125.4 407.5h1.8v1.8h-1.8zM126.0 404.7h1.8v1.8h-1.8zM125.4 401.6h1.8v1.8h-1.8zM126.0 403.9h1.8v1.8h-1.8zM125.3 410.7h1.8v1.8h-1.8zM125.4 403.1h1.8v1.8h-1.8zM125.5 403.1h1.8v1.8h-1.8zM125.2 403.7h1.8v1.8h-1.8zM126.0 406.8h1.8v1.8h-1.8zM126.0 406.5h1.8v1.8h-1.8zM125.2 406.8h1.8v1.8h-1.8zM126.0 405.0h1.8v1.8h-1.8zM125.7 396.6h1.8v1.8h-1.8zM126.0 401.7h1.8v1.8h-1.8zM126.0 402.5h1.8v1.8h-1.8zM126.0 393.9h1.8v1.8h-1.8zM126.0 415.1h1.8v1.8h-1.8zM126.0 395.9h1.8v1.8h-1.8zM126.0 404.9h1.8v1.8h-1.8zM126.0 401.9h1.8v1.8h-1.8zM123.4 394.2h1.8v1.8h-1.8zM122.8 395.7h1.8v1.8h-1.8zM123.3 395.6h1.8v1.8h-1.8zM122.4 395.8h1.8v1.8h-1.8zM123.3 394.3h1.8v1.8h-1.8zM114.8 393.9h1.8v1.8h-1.8zM115.0 393.7h1.8v1.8h-1.8zM115.1 393.8h1.8v1.8h-1.8zM114.8 393.0h1.8v1.8h-1.8zM114.9 395.8h1.8v1.8h-1.8zM114.5 394.0h1.8v1.8h-1.8zM114.1 396.5h1.8v1.8h-1.8zM115.3 394.4h1.8v1.8h-1.8zM114.1 396.8h1.8v1.8h-1.8zM114.5 397.9h1.8v1.8h-1.8zM161.9 404.2h1.8v1.8h-1.8zM161.8 402.0h1.8v1.8h-1.8zM162.0 402.3h1.8v1.8h-1.8zM162.6 409.4h1.8v1.8h-1.8zM162.3 410.2h1.8v1.8h-1.8zM162.4 404.4h1.8v1.8h-1.8zM162.6 407.8h1.8v1.8h-1.8zM161.8 409.9h1.8v1.8h-1.8zM163.1 404.1h1.8v1.8h-1.8zM162.5 400.0h1.8v1.8h-1.8zM163.5 411.8h1.8v1.8h-1.8zM163.1 395.3h1.8v1.8h-1.8zM163.1 405.0h1.8v1.8h-1.8zM163.4 404.5h1.8v1.8h-1.8zM162.4 412.2h1.8v1.8h-1.8zM162.4 409.5h1.8v1.8h-1.8zM164.2 406.0h1.8v1.8h-1.8zM163.4 390.7h1.8v1.8h-1.8zM163.4 402.5h1.8v1.8h-1.8zM164.0 398.7h1.8v1.8h-1.8zM163.3 407.1h1.8v1.8h-1.8zM163.7 400.7h1.8v1.8h-1.8zM164.9 414.2h1.8v1.8h-1.8zM164.5 408.5h1.8v1.8h-1.8zM164.7 411.3h1.8v1.8h-1.8zM163.9 400.2h1.8v1.8h-1.8zM164.8 397.6h1.8v1.8h-1.8zM164.3 404.8h1.8v1.8h-1.8zM165.1 382.6h1.8v1.8h-1.8zM165.2 399.5h1.8v1.8h-1.8zM164.7 405.0h1.8v1.8h-1.8zM164.8 409.8h1.8v1.8h-1.8zM164.5 404.5h1.8v1.8h-1.8zM165.5 392.8h1.8v1.8h-1.8zM164.5 406.0h1.8v1.8h-1.8zM165.7 394.0h1.8v1.8h-1.8zM165.3 408.3h1.8v1.8h-1.8zM165.7 407.1h1.8v1.8h-1.8zM166.1 400.9h1.8v1.8h-1.8zM165.2 400.5h1.8v1.8h-1.8zM165.9 403.3h1.8v1.8h-1.8zM165.4 404.3h1.8v1.8h-1.8zM166.3 413.4h1.8v1.8h-1.8zM166.7 412.0h1.8v1.8h-1.8zM165.8 398.8h1.8v1.8h-1.8zM165.9 398.5h1.8v1.8h-1.8zM166.2 391.6h1.8v1.8h-1.8zM166.2 411.1h1.8v1.8h-1.8zM165.8 407.9h1.8v1.8h-1.8zM167.0 400.3h1.8v1.8h-1.8zM166.8 411.7h1.8v1.8h-1.8zM167.0 411.5h1.8v1.8h-1.8zM167.5 412.3h1.8v1.8h-1.8zM167.7 411.9h1.8v1.8h-1.8zM167.6 394.8h1.8v1.8h-1.8zM168.3 399.1h1.8v1.8h-1.8zM167.9 379.1h1.8v1.8h-1.8zM167.7 398.3h1.8v1.8h-1.8zM168.7 402.0h1.8v1.8h-1.8zM168.3 408.6h1.8v1.8h-1.8zM168.3 406.6h1.8v1.8h-1.8zM169.0 399.6h1.8v1.8h-1.8zM168.0 400.8h1.8v1.8h-1.8zM168.8 401.2h1.8v1.8h-1.8zM168.8 397.3h1.8v1.8h-1.8zM168.7 405.3h1.8v1.8h-1.8zM169.0 396.5h1.8v1.8h-1.8zM168.6 405.8h1.8v1.8h-1.8zM169.1 407.1h1.8v1.8h-1.8zM169.2 403.4h1.8v1.8h-1.8zM168.8 412.5h1.8v1.8h-1.8zM169.0 411.9h1.8v1.8h-1.8zM169.4 411.7h1.8v1.8h-1.8zM169.8 414.0h1.8v1.8h-1.8zM169.6 413.8h1.8v1.8h-1.8zM170.1 406.5h1.8v1.8h-1.8zM169.6 399.5h1.8v1.8h-1.8zM170.4 410.8h1.8v1.8h-1.8zM169.5 404.5h1.8v1.8h-1.8zM170.8 396.0h1.8v1.8h-1.8zM171.5 403.0h1.8v1.8h-1.8zM171.4 398.1h1.8v1.8h-1.8zM171.7 410.2h1.8v1.8h-1.8zM171.3 407.3h1.8v1.8h-1.8zM170.8 406.4h1.8v1.8h-1.8zM171.5 409.7h1.8v1.8h-1.8zM171.5 404.5h1.8v1.8h-1.8zM171.2 403.8h1.8v1.8h-1.8zM171.4 398.8h1.8v1.8h-1.8zM171.3 406.5h1.8v1.8h-1.8zM171.5 382.2h1.8v1.8h-1.8zM172.5 406.5h1.8v1.8h-1.8zM172.0 394.9h1.8v1.8h-1.8zM172.3 410.8h1.8v1.8h-1.8zM173.0 402.3h1.8v1.8h-1.8zM172.6 412.0h1.8v1.8h-1.8zM172.3 410.9h1.8v1.8h-1.8zM172.7 412.0h1.8v1.8h-1.8zM173.1 399.8h1.8v1.8h-1.8zM173.2 408.4h1.8v1.8h-1.8zM173.1 410.5h1.8v1.8h-1.8zM174.5 388.8h1.8v1.8h-1.8zM173.8 409.0h1.8v1.8h-1.8zM174.0 410.1h1.8v1.8h-1.8zM174.5 406.6h1.8v1.8h-1.8zM173.8 398.1h1.8v1.8h-1.8zM175.1 404.4h1.8v1.8h-1.8zM174.5 403.4h1.8v1.8h-1.8zM175.2 407.5h1.8v1.8h-1.8zM174.9 407.2h1.8v1.8h-1.8zM175.2 408.5h1.8v1.8h-1.8zM175.3 398.3h1.8v1.8h-1.8zM174.9 394.8h1.8v1.8h-1.8zM175.9 405.2h1.8v1.8h-1.8zM175.0 412.7h1.8v1.8h-1.8zM175.4 399.8h1.8v1.8h-1.8zM175.7 413.3h1.8v1.8h-1.8zM175.8 414.1h1.8v1.8h-1.8zM176.7 410.3h1.8v1.8h-1.8zM175.8 411.5h1.8v1.8h-1.8zM176.1 410.8h1.8v1.8h-1.8zM176.0 378.9h1.8v1.8h-1.8zM176.4 404.4h1.8v1.8h-1.8zM176.3 403.4h1.8v1.8h-1.8zM176.5 410.1h1.8v1.8h-1.8zM177.1 395.8h1.8v1.8h-1.8zM176.5 406.7h1.8v1.8h-1.8zM177.4 406.0h1.8v1.8h-1.8zM178.2 396.5h1.8v1.8h-1.8zM177.9 407.1h1.8v1.8h-1.8zM177.4 401.6h1.8v1.8h-1.8zM177.2 402.6h1.8v1.8h-1.8zM177.5 406.3h1.8v1.8h-1.8zM177.5 408.5h1.8v1.8h-1.8zM177.6 403.6h1.8v1.8h-1.8zM177.4 409.7h1.8v1.8h-1.8zM177.3 407.2h1.8v1.8h-1.8zM178.0 408.2h1.8v1.8h-1.8zM178.0 411.7h1.8v1.8h-1.8zM178.5 411.5h1.8v1.8h-1.8zM178.8 406.2h1.8v1.8h-1.8zM178.6 404.8h1.8v1.8h-1.8zM178.2 408.5h1.8v1.8h-1.8zM178.2 389.7h1.8v1.8h-1.8zM178.2 402.1h1.8v1.8h-1.8zM178.1 412.4h1.8v1.8h-1.8zM178.9 403.7h1.8v1.8h-1.8zM179.5 398.5h1.8v1.8h-1.8zM178.9 403.9h1.8v1.8h-1.8zM179.4 406.5h1.8v1.8h-1.8zM179.8 410.1h1.8v1.8h-1.8zM179.2 406.3h1.8v1.8h-1.8zM180.2 404.8h1.8v1.8h-1.8zM180.6 410.6h1.8v1.8h-1.8zM180.9 404.3h1.8v1.8h-1.8zM179.8 412.9h1.8v1.8h-1.8zM180.4 409.4h1.8v1.8h-1.8zM180.4 404.7h1.8v1.8h-1.8zM181.3 404.4h1.8v1.8h-1.8zM181.7 409.9h1.8v1.8h-1.8zM181.7 413.9h1.8v1.8h-1.8zM181.5 406.3h1.8v1.8h-1.8zM181.3 410.5h1.8v1.8h-1.8zM181.7 406.4h1.8v1.8h-1.8zM181.5 409.4h1.8v1.8h-1.8zM181.5 412.9h1.8v1.8h-1.8zM181.4 404.6h1.8v1.8h-1.8zM182.1 405.1h1.8v1.8h-1.8zM181.4 392.0h1.8v1.8h-1.8zM182.6 410.1h1.8v1.8h-1.8zM182.2 411.2h1.8v1.8h-1.8zM182.8 412.0h1.8v1.8h-1.8zM182.0 411.6h1.8v1.8h-1.8zM181.9 407.4h1.8v1.8h-1.8zM183.0 412.5h1.8v1.8h-1.8zM183.2 403.6h1.8v1.8h-1.8zM182.7 407.1h1.8v1.8h-1.8zM183.0 410.4h1.8v1.8h-1.8zM182.7 406.7h1.8v1.8h-1.8zM182.8 407.7h1.8v1.8h-1.8zM183.2 392.0h1.8v1.8h-1.8zM184.2 400.5h1.8v1.8h-1.8zM183.8 399.0h1.8v1.8h-1.8zM183.6 386.3h1.8v1.8h-1.8zM184.0 404.1h1.8v1.8h-1.8zM184.3 404.3h1.8v1.8h-1.8zM185.2 393.8h1.8v1.8h-1.8zM184.5 404.1h1.8v1.8h-1.8zM185.0 405.4h1.8v1.8h-1.8zM184.5 409.2h1.8v1.8h-1.8zM184.9 407.9h1.8v1.8h-1.8zM184.2 406.7h1.8v1.8h-1.8zM184.0 404.2h1.8v1.8h-1.8zM184.4 390.9h1.8v1.8h-1.8zM185.5 410.8h1.8v1.8h-1.8zM184.8 409.7h1.8v1.8h-1.8zM184.8 403.7h1.8v1.8h-1.8zM184.8 399.7h1.8v1.8h-1.8zM185.1 410.4h1.8v1.8h-1.8zM185.5 405.1h1.8v1.8h-1.8zM185.8 410.1h1.8v1.8h-1.8zM185.3 406.3h1.8v1.8h-1.8zM186.3 401.4h1.8v1.8h-1.8zM185.8 400.2h1.8v1.8h-1.8zM186.0 404.5h1.8v1.8h-1.8zM185.9 403.0h1.8v1.8h-1.8zM185.5 404.9h1.8v1.8h-1.8zM185.5 410.1h1.8v1.8h-1.8zM186.1 406.2h1.8v1.8h-1.8zM185.7 403.9h1.8v1.8h-1.8zM186.5 396.4h1.8v1.8h-1.8zM186.7 406.1h1.8v1.8h-1.8zM187.0 403.5h1.8v1.8h-1.8zM186.1 409.8h1.8v1.8h-1.8zM187.0 403.1h1.8v1.8h-1.8zM187.0 399.0h1.8v1.8h-1.8zM187.0 399.1h1.8v1.8h-1.8zM187.0 403.3h1.8v1.8h-1.8zM187.0 397.8h1.8v1.8h-1.8zM187.0 401.9h1.8v1.8h-1.8zM187.0 382.7h1.8v1.8h-1.8zM187.0 395.9h1.8v1.8h-1.8zM181.9 400.4h1.8v1.8h-1.8zM181.6 400.2h1.8v1.8h-1.8zM181.4 397.8h1.8v1.8h-1.8zM181.3 401.5h1.8v1.8h-1.8zM181.5 399.1h1.8v1.8h-1.8zM182.5 396.7h1.8v1.8h-1.8zM181.6 392.7h1.8v1.8h-1.8zM164.2 404.6h1.8v1.8h-1.8zM163.7 396.5h1.8v1.8h-1.8zM164.0 404.8h1.8v1.8h-1.8zM163.9 400.2h1.8v1.8h-1.8zM164.2 394.0h1.8v1.8h-1.8zM164.0 404.1h1.8v1.8h-1.8zM164.0 400.0h1.8v1.8h-1.8zM163.6 400.7h1.8v1.8h-1.8zM163.1 400.0h1.8v1.8h-1.8zM169.5 392.5h1.8v1.8h-1.8zM170.0 393.3h1.8v1.8h-1.8zM169.5 394.2h1.8v1.8h-1.8zM169.9 394.3h1.8v1.8h-1.8zM216.0 410.0h1.8v1.8h-1.8zM215.8 411.7h1.8v1.8h-1.8zM216.3 413.1h1.8v1.8h-1.8zM215.8 414.0h1.8v1.8h-1.8zM215.8 402.5h1.8v1.8h-1.8zM216.6 410.9h1.8v1.8h-1.8zM216.4 415.1h1.8v1.8h-1.8zM216.7 404.8h1.8v1.8h-1.8zM217.5 404.6h1.8v1.8h-1.8zM217.1 404.3h1.8v1.8h-1.8zM217.0 407.7h1.8v1.8h-1.8zM216.7 402.0h1.8v1.8h-1.8zM217.6 401.0h1.8v1.8h-1.8zM218.4 402.5h1.8v1.8h-1.8zM217.8 410.2h1.8v1.8h-1.8zM217.4 406.8h1.8v1.8h-1.8zM218.1 399.7h1.8v1.8h-1.8zM218.5 389.8h1.8v1.8h-1.8zM217.7 409.8h1.8v1.8h-1.8zM217.9 404.1h1.8v1.8h-1.8zM218.1 401.1h1.8v1.8h-1.8zM218.9 378.2h1.8v1.8h-1.8zM219.0 404.7h1.8v1.8h-1.8zM218.0 403.5h1.8v1.8h-1.8zM218.4 406.9h1.8v1.8h-1.8zM219.1 405.4h1.8v1.8h-1.8zM219.7 405.1h1.8v1.8h-1.8zM219.3 399.9h1.8v1.8h-1.8zM219.9 405.0h1.8v1.8h-1.8zM218.8 402.5h1.8v1.8h-1.8zM219.3 380.2h1.8v1.8h-1.8zM219.5 401.0h1.8v1.8h-1.8zM220.3 407.8h1.8v1.8h-1.8zM220.4 404.3h1.8v1.8h-1.8zM220.3 409.9h1.8v1.8h-1.8zM220.7 408.2h1.8v1.8h-1.8zM220.6 407.7h1.8v1.8h-1.8zM221.8 408.3h1.8v1.8h-1.8zM221.0 408.1h1.8v1.8h-1.8zM222.3 376.9h1.8v1.8h-1.8zM222.3 403.4h1.8v1.8h-1.8zM221.9 397.5h1.8v1.8h-1.8zM221.9 404.0h1.8v1.8h-1.8zM222.5 398.4h1.8v1.8h-1.8zM222.5 407.1h1.8v1.8h-1.8zM223.1 405.7h1.8v1.8h-1.8zM222.8 395.7h1.8v1.8h-1.8zM222.9 397.7h1.8v1.8h-1.8zM222.6 402.1h1.8v1.8h-1.8zM223.3 402.7h1.8v1.8h-1.8zM224.0 410.9h1.8v1.8h-1.8zM223.1 398.3h1.8v1.8h-1.8zM223.8 408.5h1.8v1.8h-1.8zM223.6 406.6h1.8v1.8h-1.8zM223.8 404.0h1.8v1.8h-1.8zM223.7 400.4h1.8v1.8h-1.8zM224.4 400.6h1.8v1.8h-1.8zM224.5 405.2h1.8v1.8h-1.8zM224.4 404.4h1.8v1.8h-1.8zM224.3 413.2h1.8v1.8h-1.8zM225.0 404.2h1.8v1.8h-1.8zM224.9 411.4h1.8v1.8h-1.8zM224.8 408.4h1.8v1.8h-1.8zM224.8 411.8h1.8v1.8h-1.8zM225.0 412.9h1.8v1.8h-1.8zM224.4 408.7h1.8v1.8h-1.8zM225.1 397.9h1.8v1.8h-1.8zM225.2 389.1h1.8v1.8h-1.8zM224.3 401.0h1.8v1.8h-1.8zM225.4 406.2h1.8v1.8h-1.8zM225.2 399.5h1.8v1.8h-1.8zM225.2 392.1h1.8v1.8h-1.8zM225.8 387.1h1.8v1.8h-1.8zM225.7 392.9h1.8v1.8h-1.8zM226.7 416.6h1.8v1.8h-1.8zM226.2 415.8h1.8v1.8h-1.8zM226.0 414.9h1.8v1.8h-1.8zM226.1 416.0h1.8v1.8h-1.8zM226.2 406.5h1.8v1.8h-1.8zM226.9 413.0h1.8v1.8h-1.8zM226.8 401.3h1.8v1.8h-1.8zM227.2 404.0h1.8v1.8h-1.8zM226.9 384.6h1.8v1.8h-1.8zM226.8 406.4h1.8v1.8h-1.8zM227.1 411.3h1.8v1.8h-1.8zM226.8 405.4h1.8v1.8h-1.8zM226.5 411.5h1.8v1.8h-1.8zM227.4 402.0h1.8v1.8h-1.8zM228.0 411.8h1.8v1.8h-1.8zM228.4 394.2h1.8v1.8h-1.8zM228.3 403.7h1.8v1.8h-1.8zM228.5 406.6h1.8v1.8h-1.8zM228.9 401.1h1.8v1.8h-1.8zM229.1 411.1h1.8v1.8h-1.8zM229.5 393.1h1.8v1.8h-1.8zM229.7 411.8h1.8v1.8h-1.8zM230.3 414.1h1.8v1.8h-1.8zM229.9 409.8h1.8v1.8h-1.8zM230.1 389.9h1.8v1.8h-1.8zM230.1 391.6h1.8v1.8h-1.8zM229.8 402.2h1.8v1.8h-1.8zM230.0 413.7h1.8v1.8h-1.8zM231.1 411.3h1.8v1.8h-1.8zM230.6 412.4h1.8v1.8h-1.8zM231.3 411.8h1.8v1.8h-1.8zM231.0 400.5h1.8v1.8h-1.8zM231.7 397.9h1.8v1.8h-1.8zM231.8 407.0h1.8v1.8h-1.8zM230.8 398.2h1.8v1.8h-1.8zM230.9 410.6h1.8v1.8h-1.8zM231.0 397.3h1.8v1.8h-1.8zM231.5 409.8h1.8v1.8h-1.8zM231.4 410.5h1.8v1.8h-1.8zM232.4 412.8h1.8v1.8h-1.8zM232.5 411.6h1.8v1.8h-1.8zM232.4 413.5h1.8v1.8h-1.8zM231.7 412.8h1.8v1.8h-1.8zM231.3 397.0h1.8v1.8h-1.8zM232.3 412.1h1.8v1.8h-1.8zM232.5 408.9h1.8v1.8h-1.8zM232.5 408.8h1.8v1.8h-1.8zM232.0 408.9h1.8v1.8h-1.8zM232.3 408.0h1.8v1.8h-1.8zM232.8 405.3h1.8v1.8h-1.8zM233.5 407.3h1.8v1.8h-1.8zM233.8 410.8h1.8v1.8h-1.8zM232.8 415.5h1.8v1.8h-1.8zM233.5 415.1h1.8v1.8h-1.8zM233.8 415.8h1.8v1.8h-1.8zM232.7 409.3h1.8v1.8h-1.8zM233.4 411.4h1.8v1.8h-1.8zM233.0 401.2h1.8v1.8h-1.8zM233.1 400.8h1.8v1.8h-1.8zM234.5 396.7h1.8v1.8h-1.8zM234.1 401.0h1.8v1.8h-1.8zM233.4 391.3h1.8v1.8h-1.8zM234.9 410.2h1.8v1.8h-1.8zM234.6 409.7h1.8v1.8h-1.8zM234.2 407.6h1.8v1.8h-1.8zM235.3 408.5h1.8v1.8h-1.8zM235.3 402.9h1.8v1.8h-1.8zM235.0 407.2h1.8v1.8h-1.8zM235.9 406.9h1.8v1.8h-1.8zM234.9 406.6h1.8v1.8h-1.8zM235.5 404.6h1.8v1.8h-1.8zM235.1 414.5h1.8v1.8h-1.8zM235.0 411.8h1.8v1.8h-1.8zM235.7 411.0h1.8v1.8h-1.8zM236.7 404.8h1.8v1.8h-1.8zM236.2 412.0h1.8v1.8h-1.8zM235.7 401.4h1.8v1.8h-1.8zM236.0 407.1h1.8v1.8h-1.8zM236.1 391.8h1.8v1.8h-1.8zM236.5 391.5h1.8v1.8h-1.8zM237.1 402.9h1.8v1.8h-1.8zM236.2 391.3h1.8v1.8h-1.8zM237.4 401.1h1.8v1.8h-1.8zM237.2 380.9h1.8v1.8h-1.8zM236.7 410.5h1.8v1.8h-1.8zM237.2 409.1h1.8v1.8h-1.8zM237.2 401.4h1.8v1.8h-1.8zM237.1 408.4h1.8v1.8h-1.8zM238.0 410.0h1.8v1.8h-1.8zM237.9 409.3h1.8v1.8h-1.8zM237.9 402.6h1.8v1.8h-1.8zM237.7 412.9h1.8v1.8h-1.8zM238.4 410.3h1.8v1.8h-1.8zM238.6 409.0h1.8v1.8h-1.8zM237.9 403.8h1.8v1.8h-1.8zM237.7 408.0h1.8v1.8h-1.8zM239.0 406.0h1.8v1.8h-1.8zM239.0 409.0h1.8v1.8h-1.8zM239.0 408.8h1.8v1.8h-1.8zM238.6 412.4h1.8v1.8h-1.8zM238.9 401.2h1.8v1.8h-1.8zM239.0 396.0h1.8v1.8h-1.8zM239.0 387.1h1.8v1.8h-1.8zM239.0 403.8h1.8v1.8h-1.8zM239.0 402.8h1.8v1.8h-1.8zM239.0 407.0h1.8v1.8h-1.8zM239.0 400.3h1.8v1.8h-1.8zM239.0 410.1h1.8v1.8h-1.8zM239.0 397.2h1.8v1.8h-1.8zM239.0 407.2h1.8v1.8h-1.8zM239.0 400.1h1.8v1.8h-1.8zM239.0 407.2h1.8v1.8h-1.8zM239.0 393.1h1.8v1.8h-1.8zM239.0 407.4h1.8v1.8h-1.8zM239.0 405.0h1.8v1.8h-1.8zM216.7 392.4h1.8v1.8h-1.8zM217.0 384.8h1.8v1.8h-1.8zM216.2 393.6h1.8v1.8h-1.8zM216.2 394.1h1.8v1.8h-1.8zM216.4 387.1h1.8v1.8h-1.8zM215.9 388.3h1.8v1.8h-1.8zM217.1 386.3h1.8v1.8h-1.8zM216.6 398.0h1.8v1.8h-1.8zM215.8 398.8h1.8v1.8h-1.8zM216.0 393.7h1.8v1.8h-1.8zM232.2 399.7h1.8v1.8h-1.8zM232.7 400.1h1.8v1.8h-1.8zM233.0 387.2h1.8v1.8h-1.8zM233.3 391.7h1.8v1.8h-1.8zM232.2 394.6h1.8v1.8h-1.8zM232.1 390.2h1.8v1.8h-1.8zM232.1 396.9h1.8v1.8h-1.8zM232.1 398.0h1.8v1.8h-1.8zM232.2 392.0h1.8v1.8h-1.8zM230.0 394.1h1.8v1.8h-1.8zM229.7 394.1h1.8v1.8h-1.8zM229.4 391.1h1.8v1.8h-1.8zM229.9 397.6h1.8v1.8h-1.8zM264.8 398.1h1.8v1.8h-1.8zM264.4 404.6h1.8v1.8h-1.8zM264.4 409.4h1.8v1.8h-1.8zM265.1 408.3h1.8v1.8h-1.8zM264.5 400.6h1.8v1.8h-1.8zM264.8 410.0h1.8v1.8h-1.8zM265.3 413.4h1.8v1.8h-1.8zM265.3 410.5h1.8v1.8h-1.8zM265.6 406.5h1.8v1.8h-1.8zM266.3 388.1h1.8v1.8h-1.8zM266.1 406.6h1.8v1.8h-1.8zM265.3 408.8h1.8v1.8h-1.8zM266.3 398.1h1.8v1.8h-1.8zM266.6 400.5h1.8v1.8h-1.8zM267.1 410.5h1.8v1.8h-1.8zM267.0 412.8h1.8v1.8h-1.8zM267.3 414.6h1.8v1.8h-1.8zM267.0 412.9h1.8v1.8h-1.8zM267.7 408.4h1.8v1.8h-1.8zM268.2 410.8h1.8v1.8h-1.8zM268.5 409.4h1.8v1.8h-1.8zM267.7 394.2h1.8v1.8h-1.8zM267.7 403.0h1.8v1.8h-1.8zM267.4 399.4h1.8v1.8h-1.8zM267.9 409.7h1.8v1.8h-1.8zM268.3 407.1h1.8v1.8h-1.8zM267.8 392.5h1.8v1.8h-1.8zM269.2 399.2h1.8v1.8h-1.8zM268.5 385.2h1.8v1.8h-1.8zM268.9 407.4h1.8v1.8h-1.8zM268.8 382.4h1.8v1.8h-1.8zM269.2 399.4h1.8v1.8h-1.8zM269.7 407.1h1.8v1.8h-1.8zM269.4 414.1h1.8v1.8h-1.8zM269.6 401.1h1.8v1.8h-1.8zM269.8 411.5h1.8v1.8h-1.8zM270.0 410.9h1.8v1.8h-1.8zM270.2 407.0h1.8v1.8h-1.8zM270.3 400.0h1.8v1.8h-1.8zM270.4 408.1h1.8v1.8h-1.8zM271.1 396.2h1.8v1.8h-1.8zM271.0 411.1h1.8v1.8h-1.8zM270.7 412.0h1.8v1.8h-1.8zM270.4 406.6h1.8v1.8h-1.8zM270.1 409.7h1.8v1.8h-1.8zM271.3 406.9h1.8v1.8h-1.8zM270.3 403.9h1.8v1.8h-1.8zM271.0 405.9h1.8v1.8h-1.8zM271.8 406.5h1.8v1.8h-1.8zM271.6 410.9h1.8v1.8h-1.8zM270.9 401.7h1.8v1.8h-1.8zM271.0 404.3h1.8v1.8h-1.8zM270.9 411.4h1.8v1.8h-1.8zM272.0 391.9h1.8v1.8h-1.8zM272.1 412.1h1.8v1.8h-1.8zM272.6 407.9h1.8v1.8h-1.8zM271.9 411.3h1.8v1.8h-1.8zM272.7 406.3h1.8v1.8h-1.8zM271.6 403.3h1.8v1.8h-1.8zM272.9 391.3h1.8v1.8h-1.8zM272.9 399.3h1.8v1.8h-1.8zM272.6 405.7h1.8v1.8h-1.8zM272.7 392.7h1.8v1.8h-1.8zM272.6 400.2h1.8v1.8h-1.8zM272.8 402.7h1.8v1.8h-1.8zM272.4 394.8h1.8v1.8h-1.8zM273.2 397.2h1.8v1.8h-1.8zM272.4 404.9h1.8v1.8h-1.8zM272.8 396.4h1.8v1.8h-1.8zM273.0 404.7h1.8v1.8h-1.8zM273.5 397.7h1.8v1.8h-1.8zM273.9 408.9h1.8v1.8h-1.8zM273.1 397.7h1.8v1.8h-1.8zM272.9 407.4h1.8v1.8h-1.8zM273.9 409.9h1.8v1.8h-1.8zM273.9 413.1h1.8v1.8h-1.8zM273.9 412.2h1.8v1.8h-1.8zM274.0 404.9h1.8v1.8h-1.8zM273.7 396.0h1.8v1.8h-1.8zM274.1 411.0h1.8v1.8h-1.8zM274.3 396.0h1.8v1.8h-1.8zM274.6 413.7h1.8v1.8h-1.8zM274.8 410.2h1.8v1.8h-1.8zM274.8 403.4h1.8v1.8h-1.8zM274.9 398.9h1.8v1.8h-1.8zM274.4 415.2h1.8v1.8h-1.8zM275.6 417.0h1.8v1.8h-1.8zM276.0 408.1h1.8v1.8h-1.8zM275.1 411.7h1.8v1.8h-1.8zM275.6 413.2h1.8v1.8h-1.8zM276.2 414.3h1.8v1.8h-1.8zM275.1 404.9h1.8v1.8h-1.8zM275.7 410.4h1.8v1.8h-1.8zM276.0 411.5h1.8v1.8h-1.8zM276.1 405.1h1.8v1.8h-1.8zM276.7 410.1h1.8v1.8h-1.8zM276.8 404.1h1.8v1.8h-1.8zM277.6 407.0h1.8v1.8h-1.8zM277.1 403.5h1.8v1.8h-1.8zM276.9 401.1h1.8v1.8h-1.8zM277.2 402.3h1.8v1.8h-1.8zM277.5 392.3h1.8v1.8h-1.8zM277.5 404.4h1.8v1.8h-1.8zM277.0 393.7h1.8v1.8h-1.8zM278.1 410.8h1.8v1.8h-1.8zM277.3 403.8h1.8v1.8h-1.8zM277.7 406.6h1.8v1.8h-1.8zM277.3 406.5h1.8v1.8h-1.8zM278.0 402.5h1.8v1.8h-1.8zM277.5 413.2h1.8v1.8h-1.8zM278.2 407.8h1.8v1.8h-1.8zM279.0 403.8h1.8v1.8h-1.8zM278.5 407.8h1.8v1.8h-1.8zM278.5 404.8h1.8v1.8h-1.8zM278.2 403.5h1.8v1.8h-1.8zM278.7 408.7h1.8v1.8h-1.8zM278.1 402.6h1.8v1.8h-1.8zM279.0 393.1h1.8v1.8h-1.8zM279.5 408.1h1.8v1.8h-1.8zM278.6 413.4h1.8v1.8h-1.8zM279.5 409.9h1.8v1.8h-1.8zM279.4 410.6h1.8v1.8h-1.8zM279.1 397.1h1.8v1.8h-1.8zM278.6 410.3h1.8v1.8h-1.8zM278.6 394.9h1.8v1.8h-1.8zM279.0 391.9h1.8v1.8h-1.8zM279.9 411.1h1.8v1.8h-1.8zM279.9 411.4h1.8v1.8h-1.8zM279.2 406.7h1.8v1.8h-1.8zM279.3 402.9h1.8v1.8h-1.8zM280.1 413.9h1.8v1.8h-1.8zM280.1 393.4h1.8v1.8h-1.8zM281.2 412.1h1.8v1.8h-1.8zM280.9 407.2h1.8v1.8h-1.8zM280.7 406.1h1.8v1.8h-1.8zM281.1 412.0h1.8v1.8h-1.8zM281.0 409.9h1.8v1.8h-1.8zM280.8 404.5h1.8v1.8h-1.8zM282.5 398.1h1.8v1.8h-1.8zM282.2 406.3h1.8v1.8h-1.8zM281.6 406.8h1.8v1.8h-1.8zM282.2 398.0h1.8v1.8h-1.8zM281.6 409.9h1.8v1.8h-1.8zM281.5 406.6h1.8v1.8h-1.8zM281.3 406.7h1.8v1.8h-1.8zM281.3 409.8h1.8v1.8h-1.8zM282.3 412.6h1.8v1.8h-1.8zM282.2 394.3h1.8v1.8h-1.8zM283.1 413.8h1.8v1.8h-1.8zM282.2 410.7h1.8v1.8h-1.8zM282.0 416.1h1.8v1.8h-1.8zM283.6 403.4h1.8v1.8h-1.8zM283.4 392.5h1.8v1.8h-1.8zM283.5 406.5h1.8v1.8h-1.8zM283.7 406.3h1.8v1.8h-1.8zM283.9 410.5h1.8v1.8h-1.8zM284.4 395.4h1.8v1.8h-1.8zM283.7 407.1h1.8v1.8h-1.8zM283.6 392.5h1.8v1.8h-1.8zM284.5 410.4h1.8v1.8h-1.8zM284.7 411.2h1.8v1.8h-1.8zM284.3 384.0h1.8v1.8h-1.8zM284.7 410.2h1.8v1.8h-1.8zM284.7 401.8h1.8v1.8h-1.8zM284.2 402.4h1.8v1.8h-1.8zM284.1 411.6h1.8v1.8h-1.8zM284.7 402.9h1.8v1.8h-1.8zM284.7 411.0h1.8v1.8h-1.8zM284.7 411.9h1.8v1.8h-1.8zM284.7 400.6h1.8v1.8h-1.8zM284.7 410.6h1.8v1.8h-1.8zM284.7 413.2h1.8v1.8h-1.8zM284.7 408.8h1.8v1.8h-1.8zM284.7 409.4h1.8v1.8h-1.8zM284.7 409.7h1.8v1.8h-1.8zM266.8 392.4h1.8v1.8h-1.8zM266.3 395.1h1.8v1.8h-1.8zM266.8 393.6h1.8v1.8h-1.8zM266.0 390.6h1.8v1.8h-1.8zM267.1 388.2h1.8v1.8h-1.8zM267.1 393.0h1.8v1.8h-1.8zM277.4 401.2h1.8v1.8h-1.8zM276.6 397.4h1.8v1.8h-1.8zM277.7 398.0h1.8v1.8h-1.8zM277.5 400.0h1.8v1.8h-1.8zM278.3 402.0h1.8v1.8h-1.8zM277.9 390.3h1.8v1.8h-1.8zM278.0 385.3h1.8v1.8h-1.8zM278.1 400.5h1.8v1.8h-1.8zM277.6 396.9h1.8v1.8h-1.8zM277.6 386.8h1.8v1.8h-1.8zM307.2 402.1h1.8v1.8h-1.8zM307.2 410.2h1.8v1.8h-1.8zM307.5 401.9h1.8v1.8h-1.8zM307.2 407.0h1.8v1.8h-1.8zM307.2 404.6h1.8v1.8h-1.8zM307.3 388.0h1.8v1.8h-1.8zM308.4 411.4h1.8v1.8h-1.8zM308.4 406.5h1.8v1.8h-1.8zM308.1 406.5h1.8v1.8h-1.8zM307.8 392.6h1.8v1.8h-1.8zM308.4 408.0h1.8v1.8h-1.8zM308.2 408.0h1.8v1.8h-1.8zM308.5 405.5h1.8v1.8h-1.8zM308.1 406.1h1.8v1.8h-1.8zM309.6 401.1h1.8v1.8h-1.8zM309.3 397.9h1.8v1.8h-1.8zM309.4 413.0h1.8v1.8h-1.8zM309.6 410.4h1.8v1.8h-1.8zM310.3 403.7h1.8v1.8h-1.8zM310.0 380.6h1.8v1.8h-1.8zM310.1 400.6h1.8v1.8h-1.8zM310.4 408.9h1.8v1.8h-1.8zM310.2 405.8h1.8v1.8h-1.8zM310.2 390.1h1.8v1.8h-1.8zM310.1 410.9h1.8v1.8h-1.8zM310.0 405.5h1.8v1.8h-1.8zM310.3 403.8h1.8v1.8h-1.8zM311.1 397.6h1.8v1.8h-1.8zM310.1 405.7h1.8v1.8h-1.8zM311.1 407.2h1.8v1.8h-1.8zM310.3 407.7h1.8v1.8h-1.8zM311.4 403.4h1.8v1.8h-1.8zM311.1 394.0h1.8v1.8h-1.8zM311.0 395.0h1.8v1.8h-1.8zM311.6 382.2h1.8v1.8h-1.8zM311.1 405.7h1.8v1.8h-1.8zM311.3 408.7h1.8v1.8h-1.8zM311.9 402.5h1.8v1.8h-1.8zM312.1 408.4h1.8v1.8h-1.8zM312.1 409.6h1.8v1.8h-1.8zM311.6 402.1h1.8v1.8h-1.8zM312.1 409.4h1.8v1.8h-1.8zM311.6 407.8h1.8v1.8h-1.8zM312.1 411.6h1.8v1.8h-1.8zM312.1 409.7h1.8v1.8h-1.8zM312.1 405.0h1.8v1.8h-1.8zM312.1 395.0h1.8v1.8h-1.8zM312.1 406.0h1.8v1.8h-1.8zM312.1 409.6h1.8v1.8h-1.8zM312.1 390.7h1.8v1.8h-1.8zM312.1 410.4h1.8v1.8h-1.8zM312.1 398.6h1.8v1.8h-1.8zM317.4 400.9h1.8v1.8h-1.8zM317.1 400.0h1.8v1.8h-1.8zM316.8 402.6h1.8v1.8h-1.8zM316.8 401.5h1.8v1.8h-1.8zM316.8 392.0h1.8v1.8h-1.8zM317.1 396.4h1.8v1.8h-1.8zM316.8 400.0h1.8v1.8h-1.8zM317.1 380.5h1.8v1.8h-1.8zM317.2 402.6h1.8v1.8h-1.8zM317.0 396.0h1.8v1.8h-1.8zM317.5 387.3h1.8v1.8h-1.8zM317.9 387.8h1.8v1.8h-1.8zM316.9 384.6h1.8v1.8h-1.8zM317.0 391.3h1.8v1.8h-1.8zM317.7 398.0h1.8v1.8h-1.8zM318.2 398.3h1.8v1.8h-1.8zM317.9 393.1h1.8v1.8h-1.8zM318.9 389.5h1.8v1.8h-1.8zM319.0 396.7h1.8v1.8h-1.8zM318.6 401.8h1.8v1.8h-1.8zM318.6 401.0h1.8v1.8h-1.8zM319.9 393.9h1.8v1.8h-1.8zM319.6 396.4h1.8v1.8h-1.8zM320.2 397.5h1.8v1.8h-1.8zM319.4 396.3h1.8v1.8h-1.8zM319.8 387.1h1.8v1.8h-1.8zM319.2 381.0h1.8v1.8h-1.8zM320.5 384.4h1.8v1.8h-1.8zM320.8 396.3h1.8v1.8h-1.8zM320.3 402.5h1.8v1.8h-1.8zM320.1 395.2h1.8v1.8h-1.8zM320.8 402.4h1.8v1.8h-1.8zM320.9 403.4h1.8v1.8h-1.8zM320.9 401.4h1.8v1.8h-1.8zM320.5 403.3h1.8v1.8h-1.8zM321.2 397.2h1.8v1.8h-1.8zM320.8 372.2h1.8v1.8h-1.8zM321.2 403.4h1.8v1.8h-1.8zM321.2 385.2h1.8v1.8h-1.8zM322.2 404.7h1.8v1.8h-1.8zM321.7 406.0h1.8v1.8h-1.8zM322.0 386.5h1.8v1.8h-1.8zM322.0 401.0h1.8v1.8h-1.8zM322.0 394.8h1.8v1.8h-1.8zM322.3 388.6h1.8v1.8h-1.8zM322.9 399.2h1.8v1.8h-1.8zM322.7 384.2h1.8v1.8h-1.8zM322.6 385.5h1.8v1.8h-1.8zM322.8 402.8h1.8v1.8h-1.8zM323.2 399.1h1.8v1.8h-1.8zM324.0 389.4h1.8v1.8h-1.8zM323.9 397.7h1.8v1.8h-1.8zM323.3 404.3h1.8v1.8h-1.8zM323.6 398.7h1.8v1.8h-1.8zM324.6 405.9h1.8v1.8h-1.8zM324.5 392.7h1.8v1.8h-1.8zM324.1 384.0h1.8v1.8h-1.8zM324.5 400.7h1.8v1.8h-1.8zM324.6 393.4h1.8v1.8h-1.8zM324.7 396.6h1.8v1.8h-1.8zM324.7 397.2h1.8v1.8h-1.8zM324.7 393.6h1.8v1.8h-1.8zM324.7 384.1h1.8v1.8h-1.8zM324.7 391.3h1.8v1.8h-1.8zM324.7 381.9h1.8v1.8h-1.8zM324.7 403.7h1.8v1.8h-1.8zM324.7 389.4h1.8v1.8h-1.8zM324.7 400.2h1.8v1.8h-1.8zM324.7 391.2h1.8v1.8h-1.8zM324.6 391.9h1.8v1.8h-1.8zM324.7 395.3h1.8v1.8h-1.8zM324.7 396.6h1.8v1.8h-1.8zM324.7 385.3h1.8v1.8h-1.8zM324.7 394.1h1.8v1.8h-1.8zM324.7 394.5h1.8v1.8h-1.8zM324.7 386.1h1.8v1.8h-1.8zM322.0 393.8h1.8v1.8h-1.8zM320.7 384.5h1.8v1.8h-1.8zM321.2 389.2h1.8v1.8h-1.8zM320.8 390.6h1.8v1.8h-1.8zM320.7 391.9h1.8v1.8h-1.8zM321.4 387.9h1.8v1.8h-1.8zM345.0 404.0h1.8v1.8h-1.8zM345.0 401.4h1.8v1.8h-1.8zM345.2 394.1h1.8v1.8h-1.8zM345.1 404.3h1.8v1.8h-1.8zM346.0 397.9h1.8v1.8h-1.8zM345.6 403.1h1.8v1.8h-1.8zM345.7 407.7h1.8v1.8h-1.8zM345.2 409.7h1.8v1.8h-1.8zM345.5 404.9h1.8v1.8h-1.8zM346.6 404.3h1.8v1.8h-1.8zM346.7 380.4h1.8v1.8h-1.8zM346.3 408.5h1.8v1.8h-1.8zM346.1 380.9h1.8v1.8h-1.8zM346.7 405.1h1.8v1.8h-1.8zM346.4 398.3h1.8v1.8h-1.8zM346.9 401.3h1.8v1.8h-1.8zM346.9 406.4h1.8v1.8h-1.8zM346.3 407.7h1.8v1.8h-1.8zM346.6 383.4h1.8v1.8h-1.8zM346.6 384.9h1.8v1.8h-1.8zM346.7 400.5h1.8v1.8h-1.8zM346.7 400.4h1.8v1.8h-1.8zM346.6 403.0h1.8v1.8h-1.8zM347.5 401.1h1.8v1.8h-1.8zM347.7 399.3h1.8v1.8h-1.8zM347.8 380.0h1.8v1.8h-1.8zM348.2 395.5h1.8v1.8h-1.8zM348.0 400.1h1.8v1.8h-1.8zM348.4 379.0h1.8v1.8h-1.8zM348.4 392.6h1.8v1.8h-1.8zM348.1 401.2h1.8v1.8h-1.8zM347.4 389.9h1.8v1.8h-1.8zM348.3 408.3h1.8v1.8h-1.8zM349.1 407.3h1.8v1.8h-1.8zM349.0 401.7h1.8v1.8h-1.8zM350.1 401.1h1.8v1.8h-1.8zM349.8 401.8h1.8v1.8h-1.8zM350.1 386.8h1.8v1.8h-1.8zM350.4 405.2h1.8v1.8h-1.8zM350.0 388.2h1.8v1.8h-1.8zM350.3 379.7h1.8v1.8h-1.8zM350.1 400.4h1.8v1.8h-1.8zM351.5 397.1h1.8v1.8h-1.8zM351.4 404.0h1.8v1.8h-1.8zM351.7 398.7h1.8v1.8h-1.8zM351.4 382.8h1.8v1.8h-1.8zM351.8 390.2h1.8v1.8h-1.8zM351.5 399.3h1.8v1.8h-1.8zM351.5 401.6h1.8v1.8h-1.8zM352.9 396.9h1.8v1.8h-1.8zM352.6 404.9h1.8v1.8h-1.8zM352.9 402.4h1.8v1.8h-1.8zM352.8 389.7h1.8v1.8h-1.8zM352.4 406.2h1.8v1.8h-1.8zM352.5 403.1h1.8v1.8h-1.8zM352.7 409.4h1.8v1.8h-1.8zM352.6 385.8h1.8v1.8h-1.8zM353.8 389.8h1.8v1.8h-1.8zM353.4 399.1h1.8v1.8h-1.8zM353.9 396.7h1.8v1.8h-1.8zM353.3 387.9h1.8v1.8h-1.8zM353.5 400.8h1.8v1.8h-1.8zM354.5 401.6h1.8v1.8h-1.8zM354.5 401.1h1.8v1.8h-1.8zM353.7 401.2h1.8v1.8h-1.8zM354.2 397.3h1.8v1.8h-1.8zM354.4 401.5h1.8v1.8h-1.8zM355.3 395.5h1.8v1.8h-1.8zM354.4 393.6h1.8v1.8h-1.8zM354.7 395.4h1.8v1.8h-1.8zM354.8 399.2h1.8v1.8h-1.8zM354.6 398.1h1.8v1.8h-1.8zM354.6 385.5h1.8v1.8h-1.8zM355.7 399.9h1.8v1.8h-1.8zM355.9 401.8h1.8v1.8h-1.8zM355.5 402.1h1.8v1.8h-1.8zM354.9 391.1h1.8v1.8h-1.8zM355.5 389.3h1.8v1.8h-1.8zM356.2 400.8h1.8v1.8h-1.8zM356.4 399.7h1.8v1.8h-1.8zM355.8 394.6h1.8v1.8h-1.8zM356.1 399.0h1.8v1.8h-1.8zM356.1 400.5h1.8v1.8h-1.8zM356.9 401.9h1.8v1.8h-1.8zM356.6 402.5h1.8v1.8h-1.8zM357.0 401.2h1.8v1.8h-1.8zM357.4 390.0h1.8v1.8h-1.8zM357.8 400.3h1.8v1.8h-1.8zM358.9 400.7h1.8v1.8h-1.8zM358.2 395.2h1.8v1.8h-1.8zM357.7 401.3h1.8v1.8h-1.8zM358.2 400.1h1.8v1.8h-1.8zM358.5 403.7h1.8v1.8h-1.8zM357.8 403.4h1.8v1.8h-1.8zM358.1 394.8h1.8v1.8h-1.8zM358.8 402.7h1.8v1.8h-1.8zM358.8 398.7h1.8v1.8h-1.8zM359.3 401.2h1.8v1.8h-1.8zM359.4 401.3h1.8v1.8h-1.8zM359.1 397.5h1.8v1.8h-1.8zM358.9 391.8h1.8v1.8h-1.8zM359.0 403.2h1.8v1.8h-1.8zM358.8 395.7h1.8v1.8h-1.8zM359.6 399.1h1.8v1.8h-1.8zM360.0 388.1h1.8v1.8h-1.8zM359.7 390.9h1.8v1.8h-1.8zM359.6 407.9h1.8v1.8h-1.8zM359.8 391.2h1.8v1.8h-1.8zM359.3 408.7h1.8v1.8h-1.8zM360.0 404.0h1.8v1.8h-1.8zM359.1 402.3h1.8v1.8h-1.8zM359.3 405.3h1.8v1.8h-1.8zM360.0 402.8h1.8v1.8h-1.8zM359.1 390.0h1.8v1.8h-1.8zM359.2 406.5h1.8v1.8h-1.8zM360.6 405.6h1.8v1.8h-1.8zM360.3 407.8h1.8v1.8h-1.8zM359.9 400.7h1.8v1.8h-1.8zM360.1 409.1h1.8v1.8h-1.8zM360.0 410.7h1.8v1.8h-1.8zM361.6 399.7h1.8v1.8h-1.8zM361.2 397.8h1.8v1.8h-1.8zM361.8 396.5h1.8v1.8h-1.8zM361.3 385.4h1.8v1.8h-1.8zM362.2 386.4h1.8v1.8h-1.8zM361.9 403.4h1.8v1.8h-1.8zM362.2 407.0h1.8v1.8h-1.8zM362.2 393.7h1.8v1.8h-1.8zM362.2 405.3h1.8v1.8h-1.8zM362.2 391.6h1.8v1.8h-1.8zM362.2 405.5h1.8v1.8h-1.8zM362.0 396.1h1.8v1.8h-1.8zM362.2 399.3h1.8v1.8h-1.8zM362.2 389.8h1.8v1.8h-1.8zM362.2 398.4h1.8v1.8h-1.8zM362.2 403.8h1.8v1.8h-1.8zM362.2 397.2h1.8v1.8h-1.8zM362.2 396.4h1.8v1.8h-1.8zM362.2 402.6h1.8v1.8h-1.8zM348.5 396.7h1.8v1.8h-1.8zM348.6 389.0h1.8v1.8h-1.8zM348.4 385.9h1.8v1.8h-1.8zM349.1 396.1h1.8v1.8h-1.8zM347.3 395.3h1.8v1.8h-1.8zM347.7 390.2h1.8v1.8h-1.8zM347.7 396.7h1.8v1.8h-1.8zM346.6 396.6h1.8v1.8h-1.8zM347.2 385.5h1.8v1.8h-1.8zM347.6 391.5h1.8v1.8h-1.8zM347.6 387.2h1.8v1.8h-1.8zM385.0 399.6h1.8v1.8h-1.8zM384.6 403.7h1.8v1.8h-1.8zM385.7 391.2h1.8v1.8h-1.8zM385.6 399.1h1.8v1.8h-1.8zM385.3 386.0h1.8v1.8h-1.8zM385.7 399.0h1.8v1.8h-1.8zM385.7 397.8h1.8v1.8h-1.8zM384.8 399.9h1.8v1.8h-1.8zM385.1 390.7h1.8v1.8h-1.8zM384.7 392.1h1.8v1.8h-1.8zM385.4 388.9h1.8v1.8h-1.8zM385.9 395.9h1.8v1.8h-1.8zM385.8 400.3h1.8v1.8h-1.8zM386.4 379.3h1.8v1.8h-1.8zM385.7 391.7h1.8v1.8h-1.8zM387.0 402.5h1.8v1.8h-1.8zM386.2 392.4h1.8v1.8h-1.8zM386.1 406.1h1.8v1.8h-1.8zM387.0 402.7h1.8v1.8h-1.8zM386.1 406.8h1.8v1.8h-1.8zM386.3 392.2h1.8v1.8h-1.8zM386.6 404.5h1.8v1.8h-1.8zM388.0 385.7h1.8v1.8h-1.8zM387.1 394.5h1.8v1.8h-1.8zM387.1 391.4h1.8v1.8h-1.8zM386.9 402.7h1.8v1.8h-1.8zM387.6 386.6h1.8v1.8h-1.8zM388.4 393.0h1.8v1.8h-1.8zM388.1 388.9h1.8v1.8h-1.8zM387.6 391.5h1.8v1.8h-1.8zM388.2 387.3h1.8v1.8h-1.8zM388.4 398.6h1.8v1.8h-1.8zM388.5 402.0h1.8v1.8h-1.8zM389.1 388.1h1.8v1.8h-1.8zM388.4 398.4h1.8v1.8h-1.8zM388.7 395.5h1.8v1.8h-1.8zM389.7 390.7h1.8v1.8h-1.8zM390.0 389.5h1.8v1.8h-1.8zM389.1 380.9h1.8v1.8h-1.8zM389.0 385.6h1.8v1.8h-1.8zM390.0 389.3h1.8v1.8h-1.8zM389.2 384.7h1.8v1.8h-1.8zM389.7 390.7h1.8v1.8h-1.8zM390.0 399.7h1.8v1.8h-1.8zM390.0 395.3h1.8v1.8h-1.8zM390.2 398.3h1.8v1.8h-1.8zM390.0 391.0h1.8v1.8h-1.8zM390.4 388.4h1.8v1.8h-1.8zM390.4 398.1h1.8v1.8h-1.8zM390.1 403.9h1.8v1.8h-1.8zM390.7 402.5h1.8v1.8h-1.8zM390.4 390.8h1.8v1.8h-1.8zM391.0 397.4h1.8v1.8h-1.8zM390.8 399.2h1.8v1.8h-1.8zM391.2 397.0h1.8v1.8h-1.8zM391.4 393.2h1.8v1.8h-1.8zM391.0 401.4h1.8v1.8h-1.8zM390.8 402.5h1.8v1.8h-1.8zM391.5 399.2h1.8v1.8h-1.8zM391.3 399.3h1.8v1.8h-1.8zM392.0 406.5h1.8v1.8h-1.8zM391.5 398.7h1.8v1.8h-1.8zM391.2 399.5h1.8v1.8h-1.8zM391.1 398.2h1.8v1.8h-1.8zM391.0 406.9h1.8v1.8h-1.8zM392.0 392.5h1.8v1.8h-1.8zM391.0 405.1h1.8v1.8h-1.8zM392.2 402.2h1.8v1.8h-1.8zM391.8 406.0h1.8v1.8h-1.8zM392.8 384.5h1.8v1.8h-1.8zM392.2 406.3h1.8v1.8h-1.8zM393.0 395.5h1.8v1.8h-1.8zM393.2 391.9h1.8v1.8h-1.8zM392.6 400.9h1.8v1.8h-1.8zM393.5 382.7h1.8v1.8h-1.8zM392.8 399.5h1.8v1.8h-1.8zM393.4 402.9h1.8v1.8h-1.8zM393.6 387.5h1.8v1.8h-1.8zM394.0 395.7h1.8v1.8h-1.8zM393.2 381.6h1.8v1.8h-1.8zM393.2 400.6h1.8v1.8h-1.8zM395.0 395.6h1.8v1.8h-1.8zM394.0 401.7h1.8v1.8h-1.8zM394.5 399.9h1.8v1.8h-1.8zM394.9 403.9h1.8v1.8h-1.8zM394.7 402.3h1.8v1.8h-1.8zM395.1 399.0h1.8v1.8h-1.8zM396.3 402.1h1.8v1.8h-1.8zM396.0 405.7h1.8v1.8h-1.8zM395.7 379.7h1.8v1.8h-1.8zM395.6 390.9h1.8v1.8h-1.8zM395.2 406.7h1.8v1.8h-1.8zM396.3 404.4h1.8v1.8h-1.8zM395.6 406.5h1.8v1.8h-1.8zM396.4 399.9h1.8v1.8h-1.8zM395.7 404.8h1.8v1.8h-1.8zM395.7 391.0h1.8v1.8h-1.8zM396.0 405.9h1.8v1.8h-1.8zM395.9 401.6h1.8v1.8h-1.8zM396.9 404.0h1.8v1.8h-1.8zM397.6 405.4h1.8v1.8h-1.8zM397.8 404.1h1.8v1.8h-1.8zM396.8 392.1h1.8v1.8h-1.8zM396.7 402.6h1.8v1.8h-1.8zM397.4 405.2h1.8v1.8h-1.8zM396.9 405.2h1.8v1.8h-1.8zM396.7 394.0h1.8v1.8h-1.8zM397.1 388.2h1.8v1.8h-1.8zM398.0 398.7h1.8v1.8h-1.8zM397.5 405.1h1.8v1.8h-1.8zM398.7 401.0h1.8v1.8h-1.8zM398.3 401.4h1.8v1.8h-1.8zM398.6 400.8h1.8v1.8h-1.8zM398.5 400.9h1.8v1.8h-1.8zM398.9 389.1h1.8v1.8h-1.8zM399.0 384.9h1.8v1.8h-1.8zM398.9 393.4h1.8v1.8h-1.8zM399.0 397.4h1.8v1.8h-1.8zM399.0 397.8h1.8v1.8h-1.8zM399.0 397.6h1.8v1.8h-1.8zM399.0 392.4h1.8v1.8h-1.8zM399.0 399.3h1.8v1.8h-1.8zM399.0 391.2h1.8v1.8h-1.8zM399.0 398.4h1.8v1.8h-1.8zM399.0 388.9h1.8v1.8h-1.8zM399.0 393.5h1.8v1.8h-1.8zM399.0 390.9h1.8v1.8h-1.8zM399.0 399.7h1.8v1.8h-1.8zM399.0 392.0h1.8v1.8h-1.8zM399.0 400.1h1.8v1.8h-1.8zM399.0 396.1h1.8v1.8h-1.8zM399.0 373.0h1.8v1.8h-1.8zM399.0 404.1h1.8v1.8h-1.8zM399.0 405.8h1.8v1.8h-1.8zM399.0 403.5h1.8v1.8h-1.8zM399.0 404.2h1.8v1.8h-1.8zM399.0 404.0h1.8v1.8h-1.8zM399.0 404.7h1.8v1.8h-1.8zM399.0 386.4h1.8v1.8h-1.8zM398.7 388.5h1.8v1.8h-1.8zM399.0 394.0h1.8v1.8h-1.8zM398.3 393.6h1.8v1.8h-1.8zM399.0 389.4h1.8v1.8h-1.8zM398.5 390.6h1.8v1.8h-1.8zM398.5 393.9h1.8v1.8h-1.8zM398.7 391.2h1.8v1.8h-1.8zM399.0 392.0h1.8v1.8h-1.8zM398.4 387.7h1.8v1.8h-1.8zM398.4 388.7h1.8v1.8h-1.8zM398.7 388.6h1.8v1.8h-1.8zM399.0 384.8h1.8v1.8h-1.8zM398.9 381.3h1.8v1.8h-1.8zM398.3 381.0h1.8v1.8h-1.8zM399.0 384.4h1.8v1.8h-1.8zM398.5 385.8h1.8v1.8h-1.8zM398.8 385.9h1.8v1.8h-1.8zM415.9 399.3h1.8v1.8h-1.8zM415.4 392.8h1.8v1.8h-1.8zM415.4 397.8h1.8v1.8h-1.8zM415.4 400.5h1.8v1.8h-1.8zM415.4 399.1h1.8v1.8h-1.8zM416.0 382.2h1.8v1.8h-1.8zM416.5 402.4h1.8v1.8h-1.8zM416.0 396.9h1.8v1.8h-1.8zM416.1 402.1h1.8v1.8h-1.8zM416.3 387.1h1.8v1.8h-1.8zM416.3 402.2h1.8v1.8h-1.8zM416.1 381.2h1.8v1.8h-1.8zM416.2 390.2h1.8v1.8h-1.8zM416.5 401.9h1.8v1.8h-1.8zM416.6 403.1h1.8v1.8h-1.8zM416.8 380.3h1.8v1.8h-1.8zM416.7 404.0h1.8v1.8h-1.8zM416.8 393.8h1.8v1.8h-1.8zM416.5 399.2h1.8v1.8h-1.8zM417.5 387.7h1.8v1.8h-1.8zM417.0 397.9h1.8v1.8h-1.8zM418.0 390.0h1.8v1.8h-1.8zM418.0 395.2h1.8v1.8h-1.8zM417.6 397.3h1.8v1.8h-1.8zM417.2 388.1h1.8v1.8h-1.8zM417.9 386.2h1.8v1.8h-1.8zM418.8 391.3h1.8v1.8h-1.8zM418.6 391.0h1.8v1.8h-1.8zM418.4 399.8h1.8v1.8h-1.8zM418.4 391.8h1.8v1.8h-1.8zM419.3 387.4h1.8v1.8h-1.8zM420.1 388.8h1.8v1.8h-1.8zM419.7 383.8h1.8v1.8h-1.8zM419.8 400.1h1.8v1.8h-1.8zM419.7 398.6h1.8v1.8h-1.8zM420.0 401.1h1.8v1.8h-1.8zM420.7 401.1h1.8v1.8h-1.8zM419.9 390.3h1.8v1.8h-1.8zM420.4 403.4h1.8v1.8h-1.8zM420.7 401.7h1.8v1.8h-1.8zM419.7 379.6h1.8v1.8h-1.8zM420.3 397.9h1.8v1.8h-1.8zM420.4 399.7h1.8v1.8h-1.8zM420.7 402.0h1.8v1.8h-1.8zM421.4 386.8h1.8v1.8h-1.8zM420.7 403.5h1.8v1.8h-1.8zM420.9 385.7h1.8v1.8h-1.8zM420.4 396.7h1.8v1.8h-1.8zM421.2 400.3h1.8v1.8h-1.8zM422.2 400.3h1.8v1.8h-1.8zM423.0 393.2h1.8v1.8h-1.8zM422.6 398.6h1.8v1.8h-1.8zM422.6 402.4h1.8v1.8h-1.8zM422.2 398.9h1.8v1.8h-1.8zM422.2 399.3h1.8v1.8h-1.8zM422.8 400.8h1.8v1.8h-1.8zM422.9 393.4h1.8v1.8h-1.8zM422.6 395.6h1.8v1.8h-1.8zM422.5 387.3h1.8v1.8h-1.8zM424.3 378.9h1.8v1.8h-1.8zM424.2 401.4h1.8v1.8h-1.8zM424.1 400.0h1.8v1.8h-1.8zM423.3 395.5h1.8v1.8h-1.8zM423.6 401.7h1.8v1.8h-1.8zM424.2 399.6h1.8v1.8h-1.8zM423.3 400.7h1.8v1.8h-1.8zM423.7 394.2h1.8v1.8h-1.8zM423.4 389.6h1.8v1.8h-1.8zM424.6 401.2h1.8v1.8h-1.8zM425.1 401.2h1.8v1.8h-1.8zM424.3 401.2h1.8v1.8h-1.8zM424.6 394.3h1.8v1.8h-1.8zM424.5 401.1h1.8v1.8h-1.8zM425.0 400.5h1.8v1.8h-1.8zM424.2 396.3h1.8v1.8h-1.8zM424.6 397.7h1.8v1.8h-1.8zM424.7 396.8h1.8v1.8h-1.8zM424.6 379.6h1.8v1.8h-1.8zM425.5 405.0h1.8v1.8h-1.8zM424.9 395.0h1.8v1.8h-1.8zM425.8 398.6h1.8v1.8h-1.8zM425.8 397.1h1.8v1.8h-1.8zM425.8 393.9h1.8v1.8h-1.8zM425.8 391.8h1.8v1.8h-1.8zM425.5 401.3h1.8v1.8h-1.8zM425.8 388.2h1.8v1.8h-1.8zM425.8 404.8h1.8v1.8h-1.8zM425.8 403.8h1.8v1.8h-1.8zM425.8 404.8h1.8v1.8h-1.8zM425.8 385.2h1.8v1.8h-1.8zM425.8 397.3h1.8v1.8h-1.8zM425.8 396.5h1.8v1.8h-1.8zM425.8 392.0h1.8v1.8h-1.8zM425.8 397.0h1.8v1.8h-1.8zM425.8 394.8h1.8v1.8h-1.8zM416.0 389.9h1.8v1.8h-1.8zM416.5 392.6h1.8v1.8h-1.8zM417.1 390.0h1.8v1.8h-1.8zM415.9 395.3h1.8v1.8h-1.8zM440.2 403.7h1.8v1.8h-1.8zM440.5 401.1h1.8v1.8h-1.8zM440.2 396.5h1.8v1.8h-1.8zM440.6 406.1h1.8v1.8h-1.8zM440.5 398.7h1.8v1.8h-1.8zM440.2 402.4h1.8v1.8h-1.8zM440.2 405.4h1.8v1.8h-1.8zM440.2 397.5h1.8v1.8h-1.8zM440.2 405.0h1.8v1.8h-1.8zM440.2 405.6h1.8v1.8h-1.8zM440.6 403.8h1.8v1.8h-1.8zM440.9 408.1h1.8v1.8h-1.8zM440.6 396.0h1.8v1.8h-1.8zM440.5 405.1h1.8v1.8h-1.8zM441.1 405.2h1.8v1.8h-1.8zM441.2 409.7h1.8v1.8h-1.8zM441.3 402.7h1.8v1.8h-1.8zM442.0 395.6h1.8v1.8h-1.8zM441.8 402.9h1.8v1.8h-1.8zM441.9 387.0h1.8v1.8h-1.8zM441.2 404.7h1.8v1.8h-1.8zM441.0 389.5h1.8v1.8h-1.8zM441.3 399.6h1.8v1.8h-1.8zM442.0 399.5h1.8v1.8h-1.8zM442.6 392.0h1.8v1.8h-1.8zM442.4 401.8h1.8v1.8h-1.8zM442.0 399.7h1.8v1.8h-1.8zM442.0 402.2h1.8v1.8h-1.8zM443.1 398.0h1.8v1.8h-1.8zM442.8 402.7h1.8v1.8h-1.8zM443.4 404.3h1.8v1.8h-1.8zM442.8 402.8h1.8v1.8h-1.8zM442.9 404.5h1.8v1.8h-1.8zM442.4 389.9h1.8v1.8h-1.8zM443.8 405.3h1.8v1.8h-1.8zM444.2 402.8h1.8v1.8h-1.8zM443.6 404.7h1.8v1.8h-1.8zM443.2 393.7h1.8v1.8h-1.8zM444.2 403.8h1.8v1.8h-1.8zM444.9 405.4h1.8v1.8h-1.8zM443.9 392.0h1.8v1.8h-1.8zM444.3 383.9h1.8v1.8h-1.8zM444.4 400.5h1.8v1.8h-1.8zM444.1 390.0h1.8v1.8h-1.8zM444.0 403.8h1.8v1.8h-1.8zM445.6 389.2h1.8v1.8h-1.8zM445.6 403.5h1.8v1.8h-1.8zM444.8 404.1h1.8v1.8h-1.8zM444.9 398.7h1.8v1.8h-1.8zM445.0 402.4h1.8v1.8h-1.8zM444.5 394.5h1.8v1.8h-1.8zM444.5 402.9h1.8v1.8h-1.8zM445.6 401.2h1.8v1.8h-1.8zM445.6 405.1h1.8v1.8h-1.8zM446.3 405.8h1.8v1.8h-1.8zM446.2 390.1h1.8v1.8h-1.8zM447.0 385.7h1.8v1.8h-1.8zM447.7 392.3h1.8v1.8h-1.8zM447.2 399.0h1.8v1.8h-1.8zM447.4 387.4h1.8v1.8h-1.8zM447.0 399.3h1.8v1.8h-1.8zM446.6 398.2h1.8v1.8h-1.8zM447.5 391.1h1.8v1.8h-1.8zM448.1 398.6h1.8v1.8h-1.8zM449.1 401.1h1.8v1.8h-1.8zM448.9 391.6h1.8v1.8h-1.8zM449.4 398.8h1.8v1.8h-1.8zM449.2 397.5h1.8v1.8h-1.8zM449.0 392.1h1.8v1.8h-1.8zM448.9 394.6h1.8v1.8h-1.8zM448.8 396.2h1.8v1.8h-1.8zM449.5 400.3h1.8v1.8h-1.8zM449.6 397.4h1.8v1.8h-1.8zM449.9 399.0h1.8v1.8h-1.8zM449.8 398.5h1.8v1.8h-1.8zM449.9 387.5h1.8v1.8h-1.8zM449.9 398.0h1.8v1.8h-1.8zM449.7 396.7h1.8v1.8h-1.8zM449.7 372.3h1.8v1.8h-1.8zM449.9 400.4h1.8v1.8h-1.8zM449.9 386.8h1.8v1.8h-1.8zM449.9 401.7h1.8v1.8h-1.8zM449.9 393.1h1.8v1.8h-1.8zM449.9 393.9h1.8v1.8h-1.8zM449.9 400.9h1.8v1.8h-1.8zM449.9 398.7h1.8v1.8h-1.8zM449.9 392.6h1.8v1.8h-1.8zM449.9 380.8h1.8v1.8h-1.8zM449.9 402.9h1.8v1.8h-1.8zM449.9 397.2h1.8v1.8h-1.8zM442.8 386.9h1.8v1.8h-1.8zM443.7 389.4h1.8v1.8h-1.8zM443.4 380.1h1.8v1.8h-1.8zM442.8 378.5h1.8v1.8h-1.8zM443.2 389.5h1.8v1.8h-1.8zM462.5 395.9h1.8v1.8h-1.8zM462.3 396.9h1.8v1.8h-1.8zM462.8 396.1h1.8v1.8h-1.8zM462.8 396.7h1.8v1.8h-1.8zM462.4 391.1h1.8v1.8h-1.8zM462.3 387.7h1.8v1.8h-1.8zM462.3 386.7h1.8v1.8h-1.8zM462.3 392.6h1.8v1.8h-1.8zM462.3 396.6h1.8v1.8h-1.8zM462.6 409.0h1.8v1.8h-1.8zM463.4 408.5h1.8v1.8h-1.8zM463.1 410.4h1.8v1.8h-1.8zM462.8 400.2h1.8v1.8h-1.8zM462.5 409.5h1.8v1.8h-1.8zM462.5 395.7h1.8v1.8h-1.8zM463.0 407.6h1.8v1.8h-1.8zM462.8 410.3h1.8v1.8h-1.8zM463.7 406.8h1.8v1.8h-1.8zM464.0 406.5h1.8v1.8h-1.8zM463.2 402.4h1.8v1.8h-1.8zM463.3 403.7h1.8v1.8h-1.8zM464.1 402.5h1.8v1.8h-1.8zM464.9 384.8h1.8v1.8h-1.8zM464.1 404.0h1.8v1.8h-1.8zM464.3 405.7h1.8v1.8h-1.8zM464.6 385.7h1.8v1.8h-1.8zM464.6 401.6h1.8v1.8h-1.8zM464.6 402.8h1.8v1.8h-1.8zM465.4 382.9h1.8v1.8h-1.8zM464.8 404.8h1.8v1.8h-1.8zM465.7 401.5h1.8v1.8h-1.8zM464.6 404.4h1.8v1.8h-1.8zM465.4 400.5h1.8v1.8h-1.8zM465.0 389.9h1.8v1.8h-1.8zM465.2 402.2h1.8v1.8h-1.8zM464.8 395.9h1.8v1.8h-1.8zM465.7 406.6h1.8v1.8h-1.8zM466.1 409.0h1.8v1.8h-1.8zM465.7 408.6h1.8v1.8h-1.8zM466.1 400.9h1.8v1.8h-1.8zM466.2 405.1h1.8v1.8h-1.8zM467.0 409.7h1.8v1.8h-1.8zM466.7 403.5h1.8v1.8h-1.8zM466.7 387.3h1.8v1.8h-1.8zM467.5 403.8h1.8v1.8h-1.8zM467.4 392.7h1.8v1.8h-1.8zM467.3 401.2h1.8v1.8h-1.8zM468.0 405.5h1.8v1.8h-1.8zM467.3 388.0h1.8v1.8h-1.8zM468.1 399.7h1.8v1.8h-1.8zM467.4 404.6h1.8v1.8h-1.8zM467.7 405.1h1.8v1.8h-1.8zM467.8 400.4h1.8v1.8h-1.8zM468.0 403.7h1.8v1.8h-1.8zM468.6 406.8h1.8v1.8h-1.8zM468.4 406.5h1.8v1.8h-1.8zM468.3 404.7h1.8v1.8h-1.8zM468.2 405.3h1.8v1.8h-1.8zM468.6 406.9h1.8v1.8h-1.8zM468.6 405.0h1.8v1.8h-1.8zM468.6 401.2h1.8v1.8h-1.8zM468.6 394.4h1.8v1.8h-1.8zM468.2 399.6h1.8v1.8h-1.8zM468.6 404.5h1.8v1.8h-1.8zM468.6 391.5h1.8v1.8h-1.8zM468.6 403.4h1.8v1.8h-1.8zM468.6 393.9h1.8v1.8h-1.8zM468.6 393.1h1.8v1.8h-1.8zM468.6 398.7h1.8v1.8h-1.8zM468.6 398.5h1.8v1.8h-1.8zM468.6 391.0h1.8v1.8h-1.8zM468.6 393.6h1.8v1.8h-1.8zM468.6 395.9h1.8v1.8h-1.8zM466.2 382.0h1.8v1.8h-1.8zM466.8 388.1h1.8v1.8h-1.8zM466.1 390.8h1.8v1.8h-1.8zM482.8 384.7h1.8v1.8h-1.8zM482.7 393.2h1.8v1.8h-1.8zM482.5 391.8h1.8v1.8h-1.8zM482.7 379.1h1.8v1.8h-1.8zM482.5 395.4h1.8v1.8h-1.8zM482.6 392.5h1.8v1.8h-1.8zM482.9 395.2h1.8v1.8h-1.8zM483.6 384.7h1.8v1.8h-1.8zM483.5 395.1h1.8v1.8h-1.8zM483.6 384.1h1.8v1.8h-1.8zM482.7 389.0h1.8v1.8h-1.8zM484.0 393.5h1.8v1.8h-1.8zM483.8 404.8h1.8v1.8h-1.8zM484.2 395.1h1.8v1.8h-1.8zM483.5 393.8h1.8v1.8h-1.8zM484.1 384.7h1.8v1.8h-1.8zM483.5 403.3h1.8v1.8h-1.8zM483.8 404.2h1.8v1.8h-1.8zM484.0 402.6h1.8v1.8h-1.8zM483.7 386.8h1.8v1.8h-1.8zM484.3 401.0h1.8v1.8h-1.8zM484.9 396.9h1.8v1.8h-1.8zM484.9 400.6h1.8v1.8h-1.8zM484.2 397.7h1.8v1.8h-1.8zM485.1 391.3h1.8v1.8h-1.8zM485.5 402.7h1.8v1.8h-1.8zM485.1 403.7h1.8v1.8h-1.8zM485.3 400.4h1.8v1.8h-1.8zM485.5 400.2h1.8v1.8h-1.8zM484.8 406.0h1.8v1.8h-1.8zM485.4 403.2h1.8v1.8h-1.8zM484.8 404.8h1.8v1.8h-1.8zM485.5 391.2h1.8v1.8h-1.8zM485.5 397.5h1.8v1.8h-1.8zM485.5 401.0h1.8v1.8h-1.8zM485.5 396.5h1.8v1.8h-1.8zM485.5 385.5h1.8v1.8h-1.8zM485.5 380.1h1.8v1.8h-1.8zM485.5 390.0h1.8v1.8h-1.8zM485.5 396.5h1.8v1.8h-1.8zM485.5 400.2h1.8v1.8h-1.8zM485.5 397.8h1.8v1.8h-1.8zM485.5 400.4h1.8v1.8h-1.8zM485.5 386.3h1.8v1.8h-1.8zM485.5 400.0h1.8v1.8h-1.8zM485.5 391.3h1.8v1.8h-1.8zM485.5 397.7h1.8v1.8h-1.8zM485.5 394.4h1.8v1.8h-1.8zM485.5 391.4h1.8v1.8h-1.8zM123.3 377.0h2v2h-2zM162.3 373.3h2v2h-2zM181.0 367.0h2v2h-2zM186.5 369.5h2v2h-2zM278.5 334.0h2v2h-2zM267.0 356.5h2v2h-2zM232.3 360.8h2v2h-2zM271.0 366.0h2v2h-2zM276.0 369.0h2v2h-2zM233.5 366.5h2v2h-2zM307.3 370.3h2v2h-2zM323.5 353.5h2v2h-2zM322.0 358.5h2v2h-2zM323.3 366.5h2v2h-2zM224.0 376.0h2v2h-2zM237.8 376.5h2v2h-2zM346.0 347.8h2v2h-2zM416.5 368.5h2v2h-2zM421.5 369.0h2v2h-2zM385.3 371.5h2v2h-2zM395.8 370.3h2v2h-2zM347.0 376.5h2v2h-2zM444.8 372.8h2v2h-2zM469.0 352.5h2v2h-2zM464.8 361.8h2v2h-2zM421.3 369.8h2v2h-2zM427.0 367.5h2v2h-2zM444.8 372.4h2v2h-2z"/>
<path fill="#ff0000" d="M127.8 397.6h1.8v1.8h-1.8zM128.0 401.1h1.8v1.8h-1.8zM127.9 387.5h1.8v1.8h-1.8zM128.3 391.3h1.8v1.8h-1.8zM128.8 394.2h1.8v1.8h-1.8zM128.1 392.7h1.8v1.8h-1.8zM128.3 385.3h1.8v1.8h-1.8zM128.9 388.0h1.8v1.8h-1.8zM128.9 403.8h1.8v1.8h-1.8zM129.5 401.2h1.8v1.8h-1.8zM129.3 403.2h1.8v1.8h-1.8zM130.3 403.5h1.8v1.8h-1.8zM129.4 403.5h1.8v1.8h-1.8zM130.6 391.6h1.8v1.8h-1.8zM131.1 400.2h1.8v1.8h-1.8zM131.0 401.4h1.8v1.8h-1.8zM130.9 397.8h1.8v1.8h-1.8zM131.8 395.2h1.8v1.8h-1.8zM131.7 386.9h1.8v1.8h-1.8zM131.4 391.4h1.8v1.8h-1.8zM130.9 396.5h1.8v1.8h-1.8zM131.1 399.0h1.8v1.8h-1.8zM130.8 393.6h1.8v1.8h-1.8zM131.3 393.5h1.8v1.8h-1.8zM131.5 398.7h1.8v1.8h-1.8zM132.0 395.6h1.8v1.8h-1.8zM132.4 400.5h1.8v1.8h-1.8zM131.4 398.4h1.8v1.8h-1.8zM133.0 394.5h1.8v1.8h-1.8zM132.8 392.0h1.8v1.8h-1.8zM133.8 402.7h1.8v1.8h-1.8zM133.5 394.1h1.8v1.8h-1.8zM133.3 396.0h1.8v1.8h-1.8zM133.2 399.4h1.8v1.8h-1.8zM134.0 396.4h1.8v1.8h-1.8zM133.8 400.1h1.8v1.8h-1.8zM134.4 393.5h1.8v1.8h-1.8zM134.6 396.2h1.8v1.8h-1.8zM135.2 393.5h1.8v1.8h-1.8zM135.1 384.8h1.8v1.8h-1.8zM135.7 385.0h1.8v1.8h-1.8zM135.1 396.0h1.8v1.8h-1.8zM135.7 397.4h1.8v1.8h-1.8zM136.5 395.7h1.8v1.8h-1.8zM136.8 392.4h1.8v1.8h-1.8zM137.4 389.4h1.8v1.8h-1.8zM136.9 399.1h1.8v1.8h-1.8zM137.2 401.4h1.8v1.8h-1.8zM136.8 402.7h1.8v1.8h-1.8zM138.2 397.6h1.8v1.8h-1.8zM137.8 398.3h1.8v1.8h-1.8zM137.7 399.8h1.8v1.8h-1.8zM138.1 396.4h1.8v1.8h-1.8zM137.8 400.1h1.8v1.8h-1.8zM138.2 397.1h1.8v1.8h-1.8zM138.2 401.2h1.8v1.8h-1.8zM137.9 399.8h1.8v1.8h-1.8zM138.2 385.4h1.8v1.8h-1.8zM138.2 384.9h1.8v1.8h-1.8zM138.2 386.8h1.8v1.8h-1.8zM138.2 385.1h1.8v1.8h-1.8zM138.2 387.7h1.8v1.8h-1.8zM137.6 388.2h1.8v1.8h-1.8zM137.4 385.7h1.8v1.8h-1.8zM138.1 388.6h1.8v1.8h-1.8zM138.2 387.1h1.8v1.8h-1.8zM140.0 409.2h1.8v1.8h-1.8zM140.5 392.3h1.8v1.8h-1.8zM140.1 406.1h1.8v1.8h-1.8zM140.0 408.2h1.8v1.8h-1.8zM140.3 406.5h1.8v1.8h-1.8zM140.5 412.1h1.8v1.8h-1.8zM140.4 405.0h1.8v1.8h-1.8zM140.7 407.9h1.8v1.8h-1.8zM141.2 395.7h1.8v1.8h-1.8zM140.9 404.7h1.8v1.8h-1.8zM141.2 407.7h1.8v1.8h-1.8zM141.7 410.0h1.8v1.8h-1.8zM141.2 409.2h1.8v1.8h-1.8zM141.5 406.7h1.8v1.8h-1.8zM141.6 400.1h1.8v1.8h-1.8zM140.9 405.2h1.8v1.8h-1.8zM141.4 395.5h1.8v1.8h-1.8zM141.9 398.8h1.8v1.8h-1.8zM141.3 406.9h1.8v1.8h-1.8zM141.7 388.9h1.8v1.8h-1.8zM142.0 404.9h1.8v1.8h-1.8zM141.7 405.9h1.8v1.8h-1.8zM142.5 407.3h1.8v1.8h-1.8zM142.7 402.8h1.8v1.8h-1.8zM142.6 402.9h1.8v1.8h-1.8zM143.1 398.6h1.8v1.8h-1.8zM143.3 407.9h1.8v1.8h-1.8zM143.2 400.5h1.8v1.8h-1.8zM142.3 407.3h1.8v1.8h-1.8zM142.9 413.5h1.8v1.8h-1.8zM143.7 411.6h1.8v1.8h-1.8zM143.5 410.9h1.8v1.8h-1.8zM144.7 401.1h1.8v1.8h-1.8zM144.4 408.8h1.8v1.8h-1.8zM144.6 402.5h1.8v1.8h-1.8zM143.9 408.8h1.8v1.8h-1.8zM144.7 404.2h1.8v1.8h-1.8zM144.7 403.0h1.8v1.8h-1.8zM144.1 407.6h1.8v1.8h-1.8zM144.6 399.2h1.8v1.8h-1.8zM145.2 402.0h1.8v1.8h-1.8zM144.7 405.5h1.8v1.8h-1.8zM145.3 402.1h1.8v1.8h-1.8zM144.4 405.7h1.8v1.8h-1.8zM145.5 405.6h1.8v1.8h-1.8zM144.5 408.6h1.8v1.8h-1.8zM145.2 400.9h1.8v1.8h-1.8zM145.6 406.8h1.8v1.8h-1.8zM146.1 394.9h1.8v1.8h-1.8zM146.1 394.7h1.8v1.8h-1.8zM145.7 381.8h1.8v1.8h-1.8zM145.5 405.6h1.8v1.8h-1.8zM145.9 411.3h1.8v1.8h-1.8zM146.6 401.9h1.8v1.8h-1.8zM146.6 391.9h1.8v1.8h-1.8zM147.5 397.8h1.8v1.8h-1.8zM147.5 405.6h1.8v1.8h-1.8zM146.4 405.3h1.8v1.8h-1.8zM146.5 407.6h1.8v1.8h-1.8zM147.5 411.0h1.8v1.8h-1.8zM147.1 407.6h1.8v1.8h-1.8zM148.1 404.8h1.8v1.8h-1.8zM148.3 409.0h1.8v1.8h-1.8zM147.7 409.9h1.8v1.8h-1.8zM148.0 408.7h1.8v1.8h-1.8zM147.6 399.5h1.8v1.8h-1.8zM148.5 399.2h1.8v1.8h-1.8zM148.7 393.9h1.8v1.8h-1.8zM148.1 399.6h1.8v1.8h-1.8zM148.8 398.1h1.8v1.8h-1.8zM148.1 398.6h1.8v1.8h-1.8zM149.0 392.6h1.8v1.8h-1.8zM148.9 412.1h1.8v1.8h-1.8zM149.2 410.1h1.8v1.8h-1.8zM149.1 411.6h1.8v1.8h-1.8zM149.5 411.0h1.8v1.8h-1.8zM148.6 393.7h1.8v1.8h-1.8zM149.3 403.4h1.8v1.8h-1.8zM150.1 403.2h1.8v1.8h-1.8zM149.3 403.6h1.8v1.8h-1.8zM150.0 401.6h1.8v1.8h-1.8zM150.1 405.2h1.8v1.8h-1.8zM150.1 404.9h1.8v1.8h-1.8zM150.4 409.6h1.8v1.8h-1.8zM151.2 401.4h1.8v1.8h-1.8zM151.3 406.8h1.8v1.8h-1.8zM151.0 404.7h1.8v1.8h-1.8zM151.4 404.9h1.8v1.8h-1.8zM152.2 395.6h1.8v1.8h-1.8zM151.5 404.1h1.8v1.8h-1.8zM151.9 405.3h1.8v1.8h-1.8zM153.3 402.7h1.8v1.8h-1.8zM153.4 394.4h1.8v1.8h-1.8zM153.8 403.4h1.8v1.8h-1.8zM153.5 407.4h1.8v1.8h-1.8zM154.6 399.7h1.8v1.8h-1.8zM153.8 398.8h1.8v1.8h-1.8zM154.4 389.8h1.8v1.8h-1.8zM153.5 396.7h1.8v1.8h-1.8zM155.2 403.5h1.8v1.8h-1.8zM154.3 395.4h1.8v1.8h-1.8zM155.3 400.8h1.8v1.8h-1.8zM154.8 402.1h1.8v1.8h-1.8zM155.9 408.1h1.8v1.8h-1.8zM155.0 408.2h1.8v1.8h-1.8zM155.9 407.8h1.8v1.8h-1.8zM155.3 400.1h1.8v1.8h-1.8zM155.3 392.1h1.8v1.8h-1.8zM155.8 400.9h1.8v1.8h-1.8zM156.2 406.4h1.8v1.8h-1.8zM156.1 410.0h1.8v1.8h-1.8zM156.3 407.6h1.8v1.8h-1.8zM156.1 402.1h1.8v1.8h-1.8zM156.0 408.1h1.8v1.8h-1.8zM156.5 395.2h1.8v1.8h-1.8zM156.9 411.7h1.8v1.8h-1.8zM157.6 401.4h1.8v1.8h-1.8zM157.9 408.4h1.8v1.8h-1.8zM157.7 398.3h1.8v1.8h-1.8zM158.5 409.0h1.8v1.8h-1.8zM157.9 399.8h1.8v1.8h-1.8zM159.3 408.1h1.8v1.8h-1.8zM159.3 403.7h1.8v1.8h-1.8zM158.6 402.8h1.8v1.8h-1.8zM159.1 407.4h1.8v1.8h-1.8zM159.0 401.5h1.8v1.8h-1.8zM159.2 402.3h1.8v1.8h-1.8zM159.2 402.5h1.8v1.8h-1.8zM159.5 397.6h1.8v1.8h-1.8zM159.7 407.5h1.8v1.8h-1.8zM159.7 398.7h1.8v1.8h-1.8zM159.7 399.7h1.8v1.8h-1.8zM159.7 404.0h1.8v1.8h-1.8zM159.7 400.6h1.8v1.8h-1.8zM159.7 401.4h1.8v1.8h-1.8zM141.4 399.1h1.8v1.8h-1.8zM142.1 390.1h1.8v1.8h-1.8zM142.7 387.3h1.8v1.8h-1.8zM142.3 395.2h1.8v1.8h-1.8zM141.6 385.6h1.8v1.8h-1.8zM154.0 389.1h1.8v1.8h-1.8zM154.0 391.5h1.8v1.8h-1.8zM153.6 394.4h1.8v1.8h-1.8zM154.2 386.7h1.8v1.8h-1.8zM153.9 391.0h1.8v1.8h-1.8zM154.2 392.3h1.8v1.8h-1.8zM154.0 392.7h1.8v1.8h-1.8zM153.9 389.6h1.8v1.8h-1.8zM153.9 386.1h1.8v1.8h-1.8zM154.0 378.1h1.8v1.8h-1.8zM148.8 387.5h1.8v1.8h-1.8zM149.2 393.4h1.8v1.8h-1.8zM149.3 399.6h1.8v1.8h-1.8zM149.4 399.8h1.8v1.8h-1.8zM149.4 389.6h1.8v1.8h-1.8zM149.1 394.6h1.8v1.8h-1.8zM188.8 387.6h1.8v1.8h-1.8zM188.8 398.2h1.8v1.8h-1.8zM188.8 395.9h1.8v1.8h-1.8zM189.2 400.3h1.8v1.8h-1.8zM189.2 393.7h1.8v1.8h-1.8zM190.0 392.7h1.8v1.8h-1.8zM190.2 395.8h1.8v1.8h-1.8zM189.7 395.5h1.8v1.8h-1.8zM190.3 391.5h1.8v1.8h-1.8zM190.2 398.6h1.8v1.8h-1.8zM190.8 390.3h1.8v1.8h-1.8zM190.5 394.2h1.8v1.8h-1.8zM190.9 396.0h1.8v1.8h-1.8zM191.5 395.5h1.8v1.8h-1.8zM190.7 394.3h1.8v1.8h-1.8zM190.5 392.3h1.8v1.8h-1.8zM191.4 406.8h1.8v1.8h-1.8zM191.2 398.5h1.8v1.8h-1.8zM192.2 398.7h1.8v1.8h-1.8zM191.4 403.0h1.8v1.8h-1.8zM191.9 396.3h1.8v1.8h-1.8zM191.7 407.3h1.8v1.8h-1.8zM192.2 407.4h1.8v1.8h-1.8zM191.4 396.4h1.8v1.8h-1.8zM192.8 391.9h1.8v1.8h-1.8zM192.0 399.4h1.8v1.8h-1.8zM192.0 398.4h1.8v1.8h-1.8zM191.7 387.4h1.8v1.8h-1.8zM192.9 394.8h1.8v1.8h-1.8zM193.1 404.0h1.8v1.8h-1.8zM192.5 393.9h1.8v1.8h-1.8zM192.6 403.9h1.8v1.8h-1.8zM193.2 403.5h1.8v1.8h-1.8zM193.2 402.2h1.8v1.8h-1.8zM194.6 405.6h1.8v1.8h-1.8zM194.4 403.6h1.8v1.8h-1.8zM194.2 404.9h1.8v1.8h-1.8zM195.3 396.1h1.8v1.8h-1.8zM195.4 397.3h1.8v1.8h-1.8zM194.6 403.8h1.8v1.8h-1.8zM195.2 401.2h1.8v1.8h-1.8zM195.4 404.1h1.8v1.8h-1.8zM194.5 397.9h1.8v1.8h-1.8zM195.6 386.6h1.8v1.8h-1.8zM195.4 389.9h1.8v1.8h-1.8zM196.0 395.3h1.8v1.8h-1.8zM195.7 384.8h1.8v1.8h-1.8zM196.3 384.9h1.8v1.8h-1.8zM196.4 395.4h1.8v1.8h-1.8zM195.9 395.1h1.8v1.8h-1.8zM196.0 391.0h1.8v1.8h-1.8zM196.0 382.1h1.8v1.8h-1.8zM197.0 403.7h1.8v1.8h-1.8zM196.0 405.6h1.8v1.8h-1.8zM196.6 405.3h1.8v1.8h-1.8zM197.7 407.0h1.8v1.8h-1.8zM197.7 394.0h1.8v1.8h-1.8zM196.9 399.8h1.8v1.8h-1.8zM196.8 400.2h1.8v1.8h-1.8zM198.2 398.0h1.8v1.8h-1.8zM197.8 391.1h1.8v1.8h-1.8zM198.0 400.1h1.8v1.8h-1.8zM198.2 400.1h1.8v1.8h-1.8zM198.2 398.3h1.8v1.8h-1.8zM198.2 405.1h1.8v1.8h-1.8zM198.1 406.0h1.8v1.8h-1.8zM198.2 399.9h1.8v1.8h-1.8zM198.2 406.4h1.8v1.8h-1.8zM198.2 395.2h1.8v1.8h-1.8zM198.2 402.9h1.8v1.8h-1.8zM198.2 404.2h1.8v1.8h-1.8zM198.2 392.0h1.8v1.8h-1.8zM198.2 405.4h1.8v1.8h-1.8zM191.8 392.3h1.8v1.8h-1.8zM192.2 387.5h1.8v1.8h-1.8zM192.6 389.6h1.8v1.8h-1.8zM192.8 392.4h1.8v1.8h-1.8zM192.1 391.1h1.8v1.8h-1.8zM200.0 397.4h1.8v1.8h-1.8zM200.6 407.4h1.8v1.8h-1.8zM200.0 407.7h1.8v1.8h-1.8zM200.0 407.7h1.8v1.8h-1.8zM200.5 406.2h1.8v1.8h-1.8zM201.2 408.0h1.8v1.8h-1.8zM201.2 408.4h1.8v1.8h-1.8zM200.5 405.8h1.8v1.8h-1.8zM200.4 398.5h1.8v1.8h-1.8zM200.2 409.8h1.8v1.8h-1.8zM201.2 403.9h1.8v1.8h-1.8zM201.2 396.7h1.8v1.8h-1.8zM200.9 403.9h1.8v1.8h-1.8zM201.4 409.7h1.8v1.8h-1.8zM201.7 410.1h1.8v1.8h-1.8zM202.5 396.4h1.8v1.8h-1.8zM202.6 396.1h1.8v1.8h-1.8zM203.3 408.7h1.8v1.8h-1.8zM203.6 404.6h1.8v1.8h-1.8zM203.9 403.9h1.8v1.8h-1.8zM203.5 410.5h1.8v1.8h-1.8zM204.6 405.3h1.8v1.8h-1.8zM203.8 403.9h1.8v1.8h-1.8zM204.8 407.8h1.8v1.8h-1.8zM204.5 387.7h1.8v1.8h-1.8zM204.5 400.2h1.8v1.8h-1.8zM204.6 408.5h1.8v1.8h-1.8zM204.6 388.6h1.8v1.8h-1.8zM204.9 409.0h1.8v1.8h-1.8zM205.6 408.6h1.8v1.8h-1.8zM205.0 401.6h1.8v1.8h-1.8zM205.0 404.4h1.8v1.8h-1.8zM205.7 403.6h1.8v1.8h-1.8zM205.6 405.5h1.8v1.8h-1.8zM206.8 400.2h1.8v1.8h-1.8zM206.2 402.9h1.8v1.8h-1.8zM206.3 402.5h1.8v1.8h-1.8zM207.5 404.0h1.8v1.8h-1.8zM207.5 402.1h1.8v1.8h-1.8zM207.5 409.2h1.8v1.8h-1.8zM207.4 409.3h1.8v1.8h-1.8zM208.0 399.7h1.8v1.8h-1.8zM207.8 401.5h1.8v1.8h-1.8zM208.2 399.3h1.8v1.8h-1.8zM207.2 402.5h1.8v1.8h-1.8zM208.2 406.6h1.8v1.8h-1.8zM208.4 405.5h1.8v1.8h-1.8zM208.4 408.2h1.8v1.8h-1.8zM207.8 403.4h1.8v1.8h-1.8zM208.1 404.8h1.8v1.8h-1.8zM208.6 405.6h1.8v1.8h-1.8zM209.1 403.0h1.8v1.8h-1.8zM209.7 404.4h1.8v1.8h-1.8zM209.0 399.8h1.8v1.8h-1.8zM210.2 398.8h1.8v1.8h-1.8zM210.2 404.4h1.8v1.8h-1.8zM209.5 411.1h1.8v1.8h-1.8zM209.8 411.8h1.8v1.8h-1.8zM210.5 404.8h1.8v1.8h-1.8zM210.2 401.1h1.8v1.8h-1.8zM211.2 405.5h1.8v1.8h-1.8zM210.8 400.6h1.8v1.8h-1.8zM211.6 398.0h1.8v1.8h-1.8zM211.8 405.2h1.8v1.8h-1.8zM211.4 406.0h1.8v1.8h-1.8zM212.3 404.9h1.8v1.8h-1.8zM212.3 396.5h1.8v1.8h-1.8zM211.6 399.5h1.8v1.8h-1.8zM211.3 405.6h1.8v1.8h-1.8zM211.7 402.4h1.8v1.8h-1.8zM212.7 407.3h1.8v1.8h-1.8zM212.8 409.0h1.8v1.8h-1.8zM212.8 409.1h1.8v1.8h-1.8zM213.7 411.3h1.8v1.8h-1.8zM212.9 404.9h1.8v1.8h-1.8zM213.6 409.4h1.8v1.8h-1.8zM213.4 411.3h1.8v1.8h-1.8zM213.6 400.0h1.8v1.8h-1.8zM213.7 395.8h1.8v1.8h-1.8zM214.0 407.9h1.8v1.8h-1.8zM214.0 408.6h1.8v1.8h-1.8zM214.0 404.6h1.8v1.8h-1.8zM214.0 402.7h1.8v1.8h-1.8zM214.0 398.4h1.8v1.8h-1.8zM214.0 400.4h1.8v1.8h-1.8zM214.0 407.1h1.8v1.8h-1.8zM214.0 404.8h1.8v1.8h-1.8zM214.0 401.3h1.8v1.8h-1.8zM214.0 407.4h1.8v1.8h-1.8zM214.0 409.5h1.8v1.8h-1.8zM214.0 409.4h1.8v1.8h-1.8zM203.8 382.1h1.8v1.8h-1.8zM204.1 389.8h1.8v1.8h-1.8zM203.4 386.5h1.8v1.8h-1.8zM204.1 380.7h1.8v1.8h-1.8zM204.4 386.8h1.8v1.8h-1.8zM203.6 390.2h1.8v1.8h-1.8zM203.7 385.1h1.8v1.8h-1.8zM205.1 400.7h1.8v1.8h-1.8zM204.6 397.0h1.8v1.8h-1.8zM205.2 401.2h1.8v1.8h-1.8zM205.2 397.4h1.8v1.8h-1.8zM204.5 402.1h1.8v1.8h-1.8zM204.5 399.5h1.8v1.8h-1.8zM240.8 408.2h1.8v1.8h-1.8zM241.4 394.8h1.8v1.8h-1.8zM241.0 395.6h1.8v1.8h-1.8zM242.0 400.2h1.8v1.8h-1.8zM241.9 404.8h1.8v1.8h-1.8zM241.9 397.1h1.8v1.8h-1.8zM241.6 401.3h1.8v1.8h-1.8zM242.6 403.0h1.8v1.8h-1.8zM241.9 403.8h1.8v1.8h-1.8zM242.4 398.8h1.8v1.8h-1.8zM242.7 405.8h1.8v1.8h-1.8zM242.4 396.6h1.8v1.8h-1.8zM242.6 401.1h1.8v1.8h-1.8zM242.8 397.0h1.8v1.8h-1.8zM242.9 403.9h1.8v1.8h-1.8zM242.4 395.9h1.8v1.8h-1.8zM243.1 398.4h1.8v1.8h-1.8zM243.6 402.3h1.8v1.8h-1.8zM244.0 405.9h1.8v1.8h-1.8zM243.9 404.8h1.8v1.8h-1.8zM243.3 401.5h1.8v1.8h-1.8zM244.8 407.8h1.8v1.8h-1.8zM243.8 406.6h1.8v1.8h-1.8zM244.3 400.3h1.8v1.8h-1.8zM244.0 404.8h1.8v1.8h-1.8zM243.9 405.9h1.8v1.8h-1.8zM244.5 401.1h1.8v1.8h-1.8zM244.2 390.9h1.8v1.8h-1.8zM246.2 395.9h1.8v1.8h-1.8zM245.9 402.6h1.8v1.8h-1.8zM246.6 403.9h1.8v1.8h-1.8zM246.7 403.9h1.8v1.8h-1.8zM248.0 393.5h1.8v1.8h-1.8zM248.2 408.0h1.8v1.8h-1.8zM248.2 407.9h1.8v1.8h-1.8zM248.5 394.9h1.8v1.8h-1.8zM248.6 392.8h1.8v1.8h-1.8zM248.5 400.0h1.8v1.8h-1.8zM248.9 405.9h1.8v1.8h-1.8zM249.2 404.9h1.8v1.8h-1.8zM249.2 402.8h1.8v1.8h-1.8zM248.9 404.6h1.8v1.8h-1.8zM249.3 398.1h1.8v1.8h-1.8zM249.4 407.6h1.8v1.8h-1.8zM249.0 397.6h1.8v1.8h-1.8zM249.5 408.8h1.8v1.8h-1.8zM249.9 409.1h1.8v1.8h-1.8zM250.0 401.9h1.8v1.8h-1.8zM249.7 404.8h1.8v1.8h-1.8zM249.7 404.7h1.8v1.8h-1.8zM249.8 397.4h1.8v1.8h-1.8zM250.1 401.7h1.8v1.8h-1.8zM251.0 404.5h1.8v1.8h-1.8zM250.9 406.9h1.8v1.8h-1.8zM250.7 407.5h1.8v1.8h-1.8zM250.9 407.0h1.8v1.8h-1.8zM251.7 405.5h1.8v1.8h-1.8zM251.7 408.4h1.8v1.8h-1.8zM251.6 409.8h1.8v1.8h-1.8zM250.9 398.0h1.8v1.8h-1.8zM252.1 407.5h1.8v1.8h-1.8zM251.8 397.6h1.8v1.8h-1.8zM252.0 405.3h1.8v1.8h-1.8zM252.5 404.7h1.8v1.8h-1.8zM251.8 401.5h1.8v1.8h-1.8zM252.2 407.7h1.8v1.8h-1.8zM252.3 404.7h1.8v1.8h-1.8zM252.9 400.1h1.8v1.8h-1.8zM252.1 401.5h1.8v1.8h-1.8zM252.7 390.7h1.8v1.8h-1.8zM252.8 402.9h1.8v1.8h-1.8zM252.7 403.1h1.8v1.8h-1.8zM253.3 402.3h1.8v1.8h-1.8zM253.4 402.6h1.8v1.8h-1.8zM253.3 402.9h1.8v1.8h-1.8zM253.8 403.3h1.8v1.8h-1.8zM253.5 401.3h1.8v1.8h-1.8zM253.2 402.8h1.8v1.8h-1.8zM254.6 399.8h1.8v1.8h-1.8zM253.5 391.3h1.8v1.8h-1.8zM254.6 403.6h1.8v1.8h-1.8zM253.8 391.3h1.8v1.8h-1.8zM254.1 403.6h1.8v1.8h-1.8zM254.7 398.7h1.8v1.8h-1.8zM254.4 384.7h1.8v1.8h-1.8zM255.3 402.8h1.8v1.8h-1.8zM255.0 403.0h1.8v1.8h-1.8zM254.8 392.8h1.8v1.8h-1.8zM255.3 400.0h1.8v1.8h-1.8zM255.3 399.8h1.8v1.8h-1.8zM255.2 407.0h1.8v1.8h-1.8zM255.0 403.4h1.8v1.8h-1.8zM255.7 405.3h1.8v1.8h-1.8zM256.3 404.6h1.8v1.8h-1.8zM255.8 400.6h1.8v1.8h-1.8zM256.1 400.7h1.8v1.8h-1.8zM256.5 404.8h1.8v1.8h-1.8zM257.4 405.1h1.8v1.8h-1.8zM256.8 397.4h1.8v1.8h-1.8zM256.4 402.1h1.8v1.8h-1.8zM256.4 405.3h1.8v1.8h-1.8zM258.2 395.8h1.8v1.8h-1.8zM257.1 408.1h1.8v1.8h-1.8zM257.4 401.8h1.8v1.8h-1.8zM257.8 404.3h1.8v1.8h-1.8zM258.1 406.9h1.8v1.8h-1.8zM258.0 407.4h1.8v1.8h-1.8zM258.8 403.5h1.8v1.8h-1.8zM258.5 393.1h1.8v1.8h-1.8zM259.4 394.6h1.8v1.8h-1.8zM258.8 380.8h1.8v1.8h-1.8zM259.4 398.9h1.8v1.8h-1.8zM258.5 394.4h1.8v1.8h-1.8zM258.9 398.5h1.8v1.8h-1.8zM258.9 394.5h1.8v1.8h-1.8zM259.6 404.6h1.8v1.8h-1.8zM260.0 403.6h1.8v1.8h-1.8zM259.4 401.0h1.8v1.8h-1.8zM260.2 400.7h1.8v1.8h-1.8zM259.5 404.0h1.8v1.8h-1.8zM260.8 401.6h1.8v1.8h-1.8zM260.5 391.5h1.8v1.8h-1.8zM260.1 394.4h1.8v1.8h-1.8zM261.2 404.7h1.8v1.8h-1.8zM260.5 404.2h1.8v1.8h-1.8zM261.1 379.0h1.8v1.8h-1.8zM261.0 395.9h1.8v1.8h-1.8zM261.3 409.2h1.8v1.8h-1.8zM262.2 399.0h1.8v1.8h-1.8zM262.6 399.0h1.8v1.8h-1.8zM262.6 402.2h1.8v1.8h-1.8zM262.3 393.5h1.8v1.8h-1.8zM262.6 403.9h1.8v1.8h-1.8zM262.5 403.2h1.8v1.8h-1.8zM262.6 405.0h1.8v1.8h-1.8zM262.6 402.6h1.8v1.8h-1.8zM262.6 405.3h1.8v1.8h-1.8zM262.6 394.9h1.8v1.8h-1.8zM262.6 403.0h1.8v1.8h-1.8zM262.6 398.8h1.8v1.8h-1.8zM262.6 404.5h1.8v1.8h-1.8zM262.6 403.5h1.8v1.8h-1.8zM262.6 401.4h1.8v1.8h-1.8zM262.6 407.4h1.8v1.8h-1.8zM262.6 406.0h1.8v1.8h-1.8zM262.6 407.8h1.8v1.8h-1.8zM262.6 403.7h1.8v1.8h-1.8zM253.4 391.2h1.8v1.8h-1.8zM254.2 393.8h1.8v1.8h-1.8zM253.1 388.0h1.8v1.8h-1.8zM253.3 391.4h1.8v1.8h-1.8zM253.1 389.8h1.8v1.8h-1.8zM253.5 392.2h1.8v1.8h-1.8zM253.5 391.3h1.8v1.8h-1.8zM253.4 387.6h1.8v1.8h-1.8zM254.0 382.9h1.8v1.8h-1.8zM253.6 379.9h1.8v1.8h-1.8zM253.1 385.9h1.8v1.8h-1.8zM253.4 390.4h1.8v1.8h-1.8zM253.4 391.4h1.8v1.8h-1.8zM246.0 382.9h1.8v1.8h-1.8zM246.7 388.2h1.8v1.8h-1.8zM245.6 382.2h1.8v1.8h-1.8zM246.7 386.8h1.8v1.8h-1.8zM246.7 378.6h1.8v1.8h-1.8zM246.4 381.8h1.8v1.8h-1.8zM286.5 382.7h1.8v1.8h-1.8zM286.5 404.5h1.8v1.8h-1.8zM286.5 386.3h1.8v1.8h-1.8zM286.9 401.8h1.8v1.8h-1.8zM286.5 384.1h1.8v1.8h-1.8zM286.5 381.7h1.8v1.8h-1.8zM286.5 399.3h1.8v1.8h-1.8zM286.7 405.4h1.8v1.8h-1.8zM286.6 404.7h1.8v1.8h-1.8zM287.4 406.1h1.8v1.8h-1.8zM287.0 398.8h1.8v1.8h-1.8zM286.7 402.6h1.8v1.8h-1.8zM287.2 406.2h1.8v1.8h-1.8zM287.2 397.8h1.8v1.8h-1.8zM286.9 405.5h1.8v1.8h-1.8zM286.7 403.7h1.8v1.8h-1.8zM286.8 398.9h1.8v1.8h-1.8zM288.9 399.9h1.8v1.8h-1.8zM288.4 402.8h1.8v1.8h-1.8zM288.5 402.8h1.8v1.8h-1.8zM288.2 399.1h1.8v1.8h-1.8zM288.7 395.9h1.8v1.8h-1.8zM289.4 394.8h1.8v1.8h-1.8zM289.0 399.5h1.8v1.8h-1.8zM289.2 407.0h1.8v1.8h-1.8zM289.5 397.9h1.8v1.8h-1.8zM289.4 408.4h1.8v1.8h-1.8zM289.3 404.0h1.8v1.8h-1.8zM290.4 402.3h1.8v1.8h-1.8zM289.7 402.9h1.8v1.8h-1.8zM289.5 402.8h1.8v1.8h-1.8zM290.0 392.9h1.8v1.8h-1.8zM290.1 394.9h1.8v1.8h-1.8zM290.5 397.3h1.8v1.8h-1.8zM290.6 406.5h1.8v1.8h-1.8zM291.4 401.8h1.8v1.8h-1.8zM290.9 398.3h1.8v1.8h-1.8zM291.9 401.0h1.8v1.8h-1.8zM291.2 401.2h1.8v1.8h-1.8zM291.2 399.8h1.8v1.8h-1.8zM291.7 398.1h1.8v1.8h-1.8zM291.7 404.2h1.8v1.8h-1.8zM291.8 406.1h1.8v1.8h-1.8zM291.8 402.8h1.8v1.8h-1.8zM292.0 405.0h1.8v1.8h-1.8zM292.0 405.7h1.8v1.8h-1.8zM292.2 406.5h1.8v1.8h-1.8zM292.1 395.5h1.8v1.8h-1.8zM292.6 398.4h1.8v1.8h-1.8zM292.8 405.6h1.8v1.8h-1.8zM292.4 404.3h1.8v1.8h-1.8zM292.3 403.4h1.8v1.8h-1.8zM294.0 386.7h1.8v1.8h-1.8zM293.3 406.7h1.8v1.8h-1.8zM293.8 383.0h1.8v1.8h-1.8zM293.0 404.7h1.8v1.8h-1.8zM293.7 405.0h1.8v1.8h-1.8zM294.5 398.5h1.8v1.8h-1.8zM293.9 405.0h1.8v1.8h-1.8zM294.6 402.8h1.8v1.8h-1.8zM294.2 403.7h1.8v1.8h-1.8zM294.9 396.5h1.8v1.8h-1.8zM294.9 402.8h1.8v1.8h-1.8zM295.0 403.2h1.8v1.8h-1.8zM294.8 403.3h1.8v1.8h-1.8zM294.9 404.7h1.8v1.8h-1.8zM296.2 396.6h1.8v1.8h-1.8zM295.9 396.3h1.8v1.8h-1.8zM295.7 395.3h1.8v1.8h-1.8zM295.1 389.6h1.8v1.8h-1.8zM295.3 395.0h1.8v1.8h-1.8zM296.2 404.5h1.8v1.8h-1.8zM296.1 399.3h1.8v1.8h-1.8zM297.5 403.1h1.8v1.8h-1.8zM296.8 398.8h1.8v1.8h-1.8zM296.9 400.7h1.8v1.8h-1.8zM298.1 406.1h1.8v1.8h-1.8zM298.3 405.8h1.8v1.8h-1.8zM298.3 399.9h1.8v1.8h-1.8zM298.2 402.0h1.8v1.8h-1.8zM299.1 404.0h1.8v1.8h-1.8zM298.5 401.7h1.8v1.8h-1.8zM299.1 400.2h1.8v1.8h-1.8zM298.7 406.9h1.8v1.8h-1.8zM299.7 406.6h1.8v1.8h-1.8zM299.5 405.8h1.8v1.8h-1.8zM300.3 385.4h1.8v1.8h-1.8zM300.7 404.4h1.8v1.8h-1.8zM300.9 403.7h1.8v1.8h-1.8zM300.5 395.3h1.8v1.8h-1.8zM300.4 391.8h1.8v1.8h-1.8zM300.9 400.9h1.8v1.8h-1.8zM300.7 397.9h1.8v1.8h-1.8zM300.9 388.1h1.8v1.8h-1.8zM301.3 383.3h1.8v1.8h-1.8zM301.5 396.0h1.8v1.8h-1.8zM301.7 394.1h1.8v1.8h-1.8zM301.3 397.1h1.8v1.8h-1.8zM302.0 398.6h1.8v1.8h-1.8zM302.4 402.6h1.8v1.8h-1.8zM301.4 403.3h1.8v1.8h-1.8zM301.9 405.1h1.8v1.8h-1.8zM302.2 396.7h1.8v1.8h-1.8zM303.0 399.0h1.8v1.8h-1.8zM302.3 398.3h1.8v1.8h-1.8zM302.6 397.5h1.8v1.8h-1.8zM303.0 395.0h1.8v1.8h-1.8zM302.7 393.7h1.8v1.8h-1.8zM303.6 401.9h1.8v1.8h-1.8zM304.5 395.7h1.8v1.8h-1.8zM304.2 397.9h1.8v1.8h-1.8zM304.5 393.8h1.8v1.8h-1.8zM304.4 394.9h1.8v1.8h-1.8zM304.5 392.9h1.8v1.8h-1.8zM303.6 398.6h1.8v1.8h-1.8zM304.6 402.2h1.8v1.8h-1.8zM304.5 401.5h1.8v1.8h-1.8zM304.6 397.4h1.8v1.8h-1.8zM305.1 394.5h1.8v1.8h-1.8zM305.4 398.7h1.8v1.8h-1.8zM305.4 399.7h1.8v1.8h-1.8zM305.4 403.7h1.8v1.8h-1.8zM305.4 407.7h1.8v1.8h-1.8zM305.4 405.3h1.8v1.8h-1.8zM305.4 402.6h1.8v1.8h-1.8zM305.4 405.5h1.8v1.8h-1.8zM305.4 406.6h1.8v1.8h-1.8zM305.4 403.4h1.8v1.8h-1.8zM305.4 407.2h1.8v1.8h-1.8zM289.4 391.5h1.8v1.8h-1.8zM288.9 385.9h1.8v1.8h-1.8zM289.8 388.0h1.8v1.8h-1.8zM289.0 389.8h1.8v1.8h-1.8zM289.6 392.4h1.8v1.8h-1.8zM289.9 386.7h1.8v1.8h-1.8zM289.5 385.1h1.8v1.8h-1.8zM289.7 385.6h1.8v1.8h-1.8zM299.7 388.5h1.8v1.8h-1.8zM299.7 388.4h1.8v1.8h-1.8zM299.3 389.5h1.8v1.8h-1.8zM300.3 383.1h1.8v1.8h-1.8zM299.4 388.7h1.8v1.8h-1.8zM299.4 379.9h1.8v1.8h-1.8zM300.0 389.1h1.8v1.8h-1.8zM300.4 386.6h1.8v1.8h-1.8zM300.0 383.4h1.8v1.8h-1.8zM326.9 404.4h1.8v1.8h-1.8zM326.5 406.6h1.8v1.8h-1.8zM326.5 398.1h1.8v1.8h-1.8zM327.2 393.8h1.8v1.8h-1.8zM327.5 401.3h1.8v1.8h-1.8zM327.7 399.0h1.8v1.8h-1.8zM326.7 401.5h1.8v1.8h-1.8zM326.9 401.8h1.8v1.8h-1.8zM327.5 399.3h1.8v1.8h-1.8zM328.9 408.7h1.8v1.8h-1.8zM328.1 409.2h1.8v1.8h-1.8zM328.9 406.7h1.8v1.8h-1.8zM328.9 409.0h1.8v1.8h-1.8zM328.8 402.5h1.8v1.8h-1.8zM329.0 399.9h1.8v1.8h-1.8zM329.1 406.4h1.8v1.8h-1.8zM328.8 399.0h1.8v1.8h-1.8zM329.7 407.4h1.8v1.8h-1.8zM329.3 398.0h1.8v1.8h-1.8zM330.4 400.7h1.8v1.8h-1.8zM330.4 383.6h1.8v1.8h-1.8zM330.3 402.7h1.8v1.8h-1.8zM330.0 398.3h1.8v1.8h-1.8zM329.5 403.8h1.8v1.8h-1.8zM330.2 390.4h1.8v1.8h-1.8zM330.3 407.9h1.8v1.8h-1.8zM330.7 399.1h1.8v1.8h-1.8zM330.8 406.9h1.8v1.8h-1.8zM330.2 405.9h1.8v1.8h-1.8zM330.9 404.9h1.8v1.8h-1.8zM331.2 393.5h1.8v1.8h-1.8zM331.2 401.8h1.8v1.8h-1.8zM330.9 396.9h1.8v1.8h-1.8zM331.9 404.3h1.8v1.8h-1.8zM332.6 409.0h1.8v1.8h-1.8zM332.2 400.1h1.8v1.8h-1.8zM332.5 405.9h1.8v1.8h-1.8zM332.2 408.6h1.8v1.8h-1.8zM332.6 411.0h1.8v1.8h-1.8zM332.0 400.6h1.8v1.8h-1.8zM332.2 398.0h1.8v1.8h-1.8zM332.2 401.5h1.8v1.8h-1.8zM332.4 406.5h1.8v1.8h-1.8zM332.8 399.9h1.8v1.8h-1.8zM333.1 391.4h1.8v1.8h-1.8zM332.3 405.3h1.8v1.8h-1.8zM333.1 405.1h1.8v1.8h-1.8zM333.0 404.3h1.8v1.8h-1.8zM333.4 400.8h1.8v1.8h-1.8zM333.7 404.4h1.8v1.8h-1.8zM333.3 407.3h1.8v1.8h-1.8zM333.2 402.0h1.8v1.8h-1.8zM333.3 406.1h1.8v1.8h-1.8zM334.6 406.0h1.8v1.8h-1.8zM334.6 406.2h1.8v1.8h-1.8zM334.3 406.6h1.8v1.8h-1.8zM334.1 403.3h1.8v1.8h-1.8zM333.7 409.0h1.8v1.8h-1.8zM334.6 400.1h1.8v1.8h-1.8zM334.7 397.7h1.8v1.8h-1.8zM335.0 395.6h1.8v1.8h-1.8zM334.6 386.9h1.8v1.8h-1.8zM334.5 397.2h1.8v1.8h-1.8zM335.1 403.5h1.8v1.8h-1.8zM335.4 399.6h1.8v1.8h-1.8zM336.0 405.0h1.8v1.8h-1.8zM336.0 407.8h1.8v1.8h-1.8zM335.0 386.5h1.8v1.8h-1.8zM335.5 402.8h1.8v1.8h-1.8zM336.1 384.8h1.8v1.8h-1.8zM336.7 401.4h1.8v1.8h-1.8zM336.1 404.1h1.8v1.8h-1.8zM336.9 396.4h1.8v1.8h-1.8zM336.7 400.1h1.8v1.8h-1.8zM337.3 408.4h1.8v1.8h-1.8zM336.8 406.7h1.8v1.8h-1.8zM337.6 408.3h1.8v1.8h-1.8zM336.7 405.9h1.8v1.8h-1.8zM337.8 392.6h1.8v1.8h-1.8zM338.1 405.3h1.8v1.8h-1.8zM338.1 409.2h1.8v1.8h-1.8zM338.3 401.4h1.8v1.8h-1.8zM337.1 406.5h1.8v1.8h-1.8zM338.3 400.6h1.8v1.8h-1.8zM338.0 408.0h1.8v1.8h-1.8zM337.1 407.0h1.8v1.8h-1.8zM338.4 405.8h1.8v1.8h-1.8zM338.4 403.3h1.8v1.8h-1.8zM338.8 406.8h1.8v1.8h-1.8zM338.8 402.1h1.8v1.8h-1.8zM338.2 397.7h1.8v1.8h-1.8zM337.9 401.0h1.8v1.8h-1.8zM338.5 400.6h1.8v1.8h-1.8zM339.5 405.4h1.8v1.8h-1.8zM338.6 401.6h1.8v1.8h-1.8zM339.4 398.3h1.8v1.8h-1.8zM339.9 402.5h1.8v1.8h-1.8zM339.7 395.8h1.8v1.8h-1.8zM340.1 404.0h1.8v1.8h-1.8zM340.4 402.3h1.8v1.8h-1.8zM340.8 400.9h1.8v1.8h-1.8zM341.0 394.4h1.8v1.8h-1.8zM340.1 405.0h1.8v1.8h-1.8zM341.0 407.2h1.8v1.8h-1.8zM341.0 397.1h1.8v1.8h-1.8zM341.5 408.3h1.8v1.8h-1.8zM341.1 406.5h1.8v1.8h-1.8zM341.6 403.2h1.8v1.8h-1.8zM341.7 408.2h1.8v1.8h-1.8zM341.3 394.9h1.8v1.8h-1.8zM340.9 407.7h1.8v1.8h-1.8zM342.4 385.0h1.8v1.8h-1.8zM342.2 404.8h1.8v1.8h-1.8zM341.8 400.2h1.8v1.8h-1.8zM341.4 405.1h1.8v1.8h-1.8zM343.1 403.2h1.8v1.8h-1.8zM343.1 404.9h1.8v1.8h-1.8zM342.5 398.4h1.8v1.8h-1.8zM342.6 400.6h1.8v1.8h-1.8zM343.2 407.8h1.8v1.8h-1.8zM343.2 408.9h1.8v1.8h-1.8zM343.2 407.3h1.8v1.8h-1.8zM343.2 404.1h1.8v1.8h-1.8zM343.2 396.7h1.8v1.8h-1.8zM343.2 403.6h1.8v1.8h-1.8zM343.2 395.3h1.8v1.8h-1.8zM343.2 403.0h1.8v1.8h-1.8zM343.2 406.5h1.8v1.8h-1.8zM343.2 395.3h1.8v1.8h-1.8zM343.2 403.4h1.8v1.8h-1.8zM334.4 395.8h1.8v1.8h-1.8zM334.5 386.8h1.8v1.8h-1.8zM334.7 392.4h1.8v1.8h-1.8zM335.1 392.8h1.8v1.8h-1.8zM334.8 395.3h1.8v1.8h-1.8zM334.5 387.7h1.8v1.8h-1.8zM334.6 387.6h1.8v1.8h-1.8zM334.2 388.9h1.8v1.8h-1.8zM331.6 386.0h1.8v1.8h-1.8zM332.4 380.9h1.8v1.8h-1.8zM331.9 383.2h1.8v1.8h-1.8zM332.5 380.8h1.8v1.8h-1.8zM332.4 394.4h1.8v1.8h-1.8zM331.8 385.3h1.8v1.8h-1.8zM332.0 391.4h1.8v1.8h-1.8zM364.3 404.4h1.8v1.8h-1.8zM364.7 407.7h1.8v1.8h-1.8zM365.1 402.8h1.8v1.8h-1.8zM364.4 407.3h1.8v1.8h-1.8zM365.0 408.6h1.8v1.8h-1.8zM364.8 408.1h1.8v1.8h-1.8zM365.0 409.8h1.8v1.8h-1.8zM365.9 409.1h1.8v1.8h-1.8zM366.5 408.2h1.8v1.8h-1.8zM366.8 408.5h1.8v1.8h-1.8zM367.1 408.2h1.8v1.8h-1.8zM366.6 409.0h1.8v1.8h-1.8zM366.8 409.3h1.8v1.8h-1.8zM367.8 396.9h1.8v1.8h-1.8zM367.7 407.2h1.8v1.8h-1.8zM368.1 399.4h1.8v1.8h-1.8zM367.4 379.3h1.8v1.8h-1.8zM367.3 397.9h1.8v1.8h-1.8zM367.2 408.7h1.8v1.8h-1.8zM368.7 408.4h1.8v1.8h-1.8zM368.4 405.9h1.8v1.8h-1.8zM369.3 407.1h1.8v1.8h-1.8zM368.3 405.2h1.8v1.8h-1.8zM369.4 408.4h1.8v1.8h-1.8zM368.6 407.6h1.8v1.8h-1.8zM369.7 395.2h1.8v1.8h-1.8zM370.0 393.8h1.8v1.8h-1.8zM369.9 398.0h1.8v1.8h-1.8zM369.7 401.4h1.8v1.8h-1.8zM371.4 403.9h1.8v1.8h-1.8zM370.7 402.6h1.8v1.8h-1.8zM372.0 409.3h1.8v1.8h-1.8zM371.2 407.0h1.8v1.8h-1.8zM371.5 407.1h1.8v1.8h-1.8zM371.2 402.3h1.8v1.8h-1.8zM371.2 407.3h1.8v1.8h-1.8zM372.9 405.3h1.8v1.8h-1.8zM371.9 404.5h1.8v1.8h-1.8zM372.4 405.6h1.8v1.8h-1.8zM372.5 406.8h1.8v1.8h-1.8zM373.0 410.1h1.8v1.8h-1.8zM372.6 409.9h1.8v1.8h-1.8zM373.4 390.0h1.8v1.8h-1.8zM372.7 411.4h1.8v1.8h-1.8zM373.3 411.0h1.8v1.8h-1.8zM373.4 407.6h1.8v1.8h-1.8zM373.7 408.0h1.8v1.8h-1.8zM374.3 408.8h1.8v1.8h-1.8zM374.1 406.0h1.8v1.8h-1.8zM373.7 407.5h1.8v1.8h-1.8zM374.2 405.8h1.8v1.8h-1.8zM375.7 407.0h1.8v1.8h-1.8zM375.5 410.9h1.8v1.8h-1.8zM374.7 407.9h1.8v1.8h-1.8zM375.3 398.1h1.8v1.8h-1.8zM374.8 407.5h1.8v1.8h-1.8zM375.5 403.4h1.8v1.8h-1.8zM376.2 414.8h1.8v1.8h-1.8zM377.0 412.7h1.8v1.8h-1.8zM377.1 407.9h1.8v1.8h-1.8zM376.7 411.0h1.8v1.8h-1.8zM376.9 407.2h1.8v1.8h-1.8zM377.9 406.0h1.8v1.8h-1.8zM378.1 392.1h1.8v1.8h-1.8zM378.2 405.6h1.8v1.8h-1.8zM378.8 412.3h1.8v1.8h-1.8zM378.3 407.9h1.8v1.8h-1.8zM379.0 414.2h1.8v1.8h-1.8zM378.3 409.1h1.8v1.8h-1.8zM378.7 411.7h1.8v1.8h-1.8zM378.3 406.7h1.8v1.8h-1.8zM378.6 414.8h1.8v1.8h-1.8zM379.0 412.5h1.8v1.8h-1.8zM379.4 410.1h1.8v1.8h-1.8zM380.5 409.1h1.8v1.8h-1.8zM379.8 405.1h1.8v1.8h-1.8zM380.2 409.1h1.8v1.8h-1.8zM380.3 409.7h1.8v1.8h-1.8zM381.9 405.2h1.8v1.8h-1.8zM381.7 403.2h1.8v1.8h-1.8zM381.3 391.9h1.8v1.8h-1.8zM381.3 397.3h1.8v1.8h-1.8zM381.7 406.0h1.8v1.8h-1.8zM381.5 406.8h1.8v1.8h-1.8zM382.1 402.9h1.8v1.8h-1.8zM382.5 406.2h1.8v1.8h-1.8zM382.5 407.1h1.8v1.8h-1.8zM381.8 406.4h1.8v1.8h-1.8zM382.8 401.5h1.8v1.8h-1.8zM382.8 401.8h1.8v1.8h-1.8zM382.8 405.0h1.8v1.8h-1.8zM382.8 397.8h1.8v1.8h-1.8zM382.8 407.4h1.8v1.8h-1.8zM382.8 407.6h1.8v1.8h-1.8zM382.8 402.8h1.8v1.8h-1.8zM382.8 406.3h1.8v1.8h-1.8zM382.8 408.4h1.8v1.8h-1.8zM382.8 409.3h1.8v1.8h-1.8zM382.8 394.1h1.8v1.8h-1.8zM382.8 406.9h1.8v1.8h-1.8zM382.8 408.1h1.8v1.8h-1.8zM382.8 412.5h1.8v1.8h-1.8zM382.8 411.4h1.8v1.8h-1.8zM382.8 410.0h1.8v1.8h-1.8zM374.7 396.2h1.8v1.8h-1.8zM375.5 384.4h1.8v1.8h-1.8zM375.1 387.1h1.8v1.8h-1.8zM375.4 387.6h1.8v1.8h-1.8zM374.3 396.1h1.8v1.8h-1.8zM374.1 385.1h1.8v1.8h-1.8zM374.7 390.3h1.8v1.8h-1.8zM375.0 383.9h1.8v1.8h-1.8zM374.2 395.1h1.8v1.8h-1.8zM372.2 395.4h1.8v1.8h-1.8zM373.4 393.1h1.8v1.8h-1.8zM372.2 394.0h1.8v1.8h-1.8zM372.7 394.2h1.8v1.8h-1.8zM373.3 396.0h1.8v1.8h-1.8zM372.2 387.9h1.8v1.8h-1.8zM373.4 388.6h1.8v1.8h-1.8zM373.2 388.0h1.8v1.8h-1.8zM401.0 403.8h1.8v1.8h-1.8zM401.0 410.6h1.8v1.8h-1.8zM401.4 410.8h1.8v1.8h-1.8zM401.0 406.9h1.8v1.8h-1.8zM401.0 411.1h1.8v1.8h-1.8zM402.2 408.4h1.8v1.8h-1.8zM401.7 406.4h1.8v1.8h-1.8zM402.1 408.9h1.8v1.8h-1.8zM401.4 399.1h1.8v1.8h-1.8zM402.1 398.1h1.8v1.8h-1.8zM402.0 408.7h1.8v1.8h-1.8zM401.7 406.0h1.8v1.8h-1.8zM402.7 392.7h1.8v1.8h-1.8zM402.4 409.1h1.8v1.8h-1.8zM402.7 400.0h1.8v1.8h-1.8zM402.0 396.7h1.8v1.8h-1.8zM403.0 406.0h1.8v1.8h-1.8zM402.8 401.4h1.8v1.8h-1.8zM402.9 402.8h1.8v1.8h-1.8zM403.1 396.2h1.8v1.8h-1.8zM403.5 401.3h1.8v1.8h-1.8zM402.7 407.8h1.8v1.8h-1.8zM403.4 404.9h1.8v1.8h-1.8zM403.8 405.4h1.8v1.8h-1.8zM403.8 405.3h1.8v1.8h-1.8zM403.7 403.6h1.8v1.8h-1.8zM403.6 404.1h1.8v1.8h-1.8zM403.8 404.3h1.8v1.8h-1.8zM404.9 406.7h1.8v1.8h-1.8zM404.7 406.9h1.8v1.8h-1.8zM404.6 409.1h1.8v1.8h-1.8zM404.0 400.5h1.8v1.8h-1.8zM404.8 405.4h1.8v1.8h-1.8zM405.7 388.2h1.8v1.8h-1.8zM405.6 409.6h1.8v1.8h-1.8zM404.7 411.5h1.8v1.8h-1.8zM405.0 401.0h1.8v1.8h-1.8zM405.3 401.1h1.8v1.8h-1.8zM405.6 412.7h1.8v1.8h-1.8zM405.5 403.5h1.8v1.8h-1.8zM406.3 398.0h1.8v1.8h-1.8zM405.4 406.5h1.8v1.8h-1.8zM406.4 395.3h1.8v1.8h-1.8zM406.9 398.9h1.8v1.8h-1.8zM406.1 394.9h1.8v1.8h-1.8zM406.2 408.2h1.8v1.8h-1.8zM406.7 407.0h1.8v1.8h-1.8zM407.0 398.4h1.8v1.8h-1.8zM406.8 398.8h1.8v1.8h-1.8zM406.1 406.4h1.8v1.8h-1.8zM407.7 392.8h1.8v1.8h-1.8zM407.3 402.3h1.8v1.8h-1.8zM407.1 404.2h1.8v1.8h-1.8zM407.9 410.6h1.8v1.8h-1.8zM408.4 406.1h1.8v1.8h-1.8zM408.5 408.2h1.8v1.8h-1.8zM407.5 408.2h1.8v1.8h-1.8zM408.5 403.2h1.8v1.8h-1.8zM409.2 402.4h1.8v1.8h-1.8zM408.5 403.0h1.8v1.8h-1.8zM408.5 406.4h1.8v1.8h-1.8zM408.9 402.9h1.8v1.8h-1.8zM408.4 408.0h1.8v1.8h-1.8zM409.5 403.0h1.8v1.8h-1.8zM409.9 407.2h1.8v1.8h-1.8zM408.9 407.2h1.8v1.8h-1.8zM409.4 392.7h1.8v1.8h-1.8zM410.6 394.9h1.8v1.8h-1.8zM410.0 394.5h1.8v1.8h-1.8zM410.2 402.7h1.8v1.8h-1.8zM410.0 397.7h1.8v1.8h-1.8zM410.6 407.3h1.8v1.8h-1.8zM410.9 405.3h1.8v1.8h-1.8zM410.7 407.9h1.8v1.8h-1.8zM410.4 408.5h1.8v1.8h-1.8zM411.1 399.4h1.8v1.8h-1.8zM412.0 404.7h1.8v1.8h-1.8zM411.0 394.5h1.8v1.8h-1.8zM411.6 398.7h1.8v1.8h-1.8zM412.6 395.8h1.8v1.8h-1.8zM411.9 405.8h1.8v1.8h-1.8zM411.8 405.2h1.8v1.8h-1.8zM412.4 406.6h1.8v1.8h-1.8zM412.3 405.7h1.8v1.8h-1.8zM412.7 405.5h1.8v1.8h-1.8zM412.5 397.0h1.8v1.8h-1.8zM412.4 406.4h1.8v1.8h-1.8zM413.3 407.8h1.8v1.8h-1.8zM413.4 407.3h1.8v1.8h-1.8zM413.6 408.6h1.8v1.8h-1.8zM413.6 406.5h1.8v1.8h-1.8zM413.5 412.7h1.8v1.8h-1.8zM413.6 403.7h1.8v1.8h-1.8zM413.6 406.6h1.8v1.8h-1.8zM413.6 398.4h1.8v1.8h-1.8zM413.6 401.3h1.8v1.8h-1.8zM413.6 403.8h1.8v1.8h-1.8zM413.6 402.1h1.8v1.8h-1.8zM413.6 402.6h1.8v1.8h-1.8zM413.6 392.6h1.8v1.8h-1.8zM413.6 407.6h1.8v1.8h-1.8zM404.4 396.1h1.8v1.8h-1.8zM403.2 394.9h1.8v1.8h-1.8zM404.4 394.0h1.8v1.8h-1.8zM403.1 393.2h1.8v1.8h-1.8zM403.6 388.7h1.8v1.8h-1.8zM404.2 388.2h1.8v1.8h-1.8zM403.7 399.4h1.8v1.8h-1.8zM408.2 380.7h1.8v1.8h-1.8zM408.7 392.4h1.8v1.8h-1.8zM408.3 388.5h1.8v1.8h-1.8zM408.4 380.4h1.8v1.8h-1.8zM408.1 380.1h1.8v1.8h-1.8zM409.1 381.0h1.8v1.8h-1.8zM408.8 395.5h1.8v1.8h-1.8zM408.4 391.3h1.8v1.8h-1.8zM408.8 386.2h1.8v1.8h-1.8zM408.9 380.3h1.8v1.8h-1.8zM428.1 385.9h1.8v1.8h-1.8zM427.6 387.1h1.8v1.8h-1.8zM428.1 409.0h1.8v1.8h-1.8zM427.7 409.4h1.8v1.8h-1.8zM428.2 399.5h1.8v1.8h-1.8zM428.7 407.4h1.8v1.8h-1.8zM429.6 397.8h1.8v1.8h-1.8zM429.0 390.1h1.8v1.8h-1.8zM428.4 401.2h1.8v1.8h-1.8zM429.6 398.3h1.8v1.8h-1.8zM428.8 406.8h1.8v1.8h-1.8zM429.3 407.0h1.8v1.8h-1.8zM429.1 388.3h1.8v1.8h-1.8zM429.4 395.1h1.8v1.8h-1.8zM429.3 401.9h1.8v1.8h-1.8zM430.2 397.2h1.8v1.8h-1.8zM429.9 391.5h1.8v1.8h-1.8zM429.9 398.5h1.8v1.8h-1.8zM430.1 403.1h1.8v1.8h-1.8zM430.6 401.1h1.8v1.8h-1.8zM430.7 405.4h1.8v1.8h-1.8zM430.9 392.5h1.8v1.8h-1.8zM431.6 406.1h1.8v1.8h-1.8zM432.3 388.1h1.8v1.8h-1.8zM431.5 400.9h1.8v1.8h-1.8zM432.1 404.6h1.8v1.8h-1.8zM432.2 401.5h1.8v1.8h-1.8zM432.2 402.4h1.8v1.8h-1.8zM432.2 402.2h1.8v1.8h-1.8zM432.0 382.7h1.8v1.8h-1.8zM433.4 397.7h1.8v1.8h-1.8zM432.8 393.8h1.8v1.8h-1.8zM433.5 396.4h1.8v1.8h-1.8zM433.2 399.6h1.8v1.8h-1.8zM432.9 398.6h1.8v1.8h-1.8zM434.1 404.3h1.8v1.8h-1.8zM433.7 403.4h1.8v1.8h-1.8zM434.9 402.5h1.8v1.8h-1.8zM435.6 398.8h1.8v1.8h-1.8zM435.3 399.7h1.8v1.8h-1.8zM435.2 395.3h1.8v1.8h-1.8zM436.1 397.8h1.8v1.8h-1.8zM436.2 404.7h1.8v1.8h-1.8zM436.3 404.9h1.8v1.8h-1.8zM435.6 404.2h1.8v1.8h-1.8zM435.7 403.6h1.8v1.8h-1.8zM436.7 402.8h1.8v1.8h-1.8zM436.8 401.4h1.8v1.8h-1.8zM436.8 384.9h1.8v1.8h-1.8zM437.9 398.8h1.8v1.8h-1.8zM437.9 403.2h1.8v1.8h-1.8zM437.5 404.5h1.8v1.8h-1.8zM437.4 401.3h1.8v1.8h-1.8zM437.8 399.2h1.8v1.8h-1.8zM438.0 394.1h1.8v1.8h-1.8zM437.3 399.5h1.8v1.8h-1.8zM437.9 397.0h1.8v1.8h-1.8zM437.6 397.0h1.8v1.8h-1.8zM437.6 399.0h1.8v1.8h-1.8zM438.4 399.0h1.8v1.8h-1.8zM438.4 394.5h1.8v1.8h-1.8zM438.4 388.5h1.8v1.8h-1.8zM438.4 402.4h1.8v1.8h-1.8zM438.3 399.3h1.8v1.8h-1.8zM438.4 401.5h1.8v1.8h-1.8zM438.4 394.0h1.8v1.8h-1.8zM436.7 380.0h1.8v1.8h-1.8zM436.4 390.2h1.8v1.8h-1.8zM437.0 383.4h1.8v1.8h-1.8zM437.1 379.0h1.8v1.8h-1.8zM437.3 386.8h1.8v1.8h-1.8zM436.9 387.4h1.8v1.8h-1.8zM451.7 402.5h1.8v1.8h-1.8zM451.7 400.3h1.8v1.8h-1.8zM451.9 397.4h1.8v1.8h-1.8zM452.3 393.8h1.8v1.8h-1.8zM451.8 397.4h1.8v1.8h-1.8zM451.7 401.1h1.8v1.8h-1.8zM452.7 402.7h1.8v1.8h-1.8zM452.2 403.2h1.8v1.8h-1.8zM452.5 398.7h1.8v1.8h-1.8zM452.4 400.2h1.8v1.8h-1.8zM452.8 385.7h1.8v1.8h-1.8zM453.8 392.4h1.8v1.8h-1.8zM454.3 395.1h1.8v1.8h-1.8zM453.7 395.1h1.8v1.8h-1.8zM454.2 388.3h1.8v1.8h-1.8zM454.3 400.2h1.8v1.8h-1.8zM454.1 401.9h1.8v1.8h-1.8zM454.5 395.6h1.8v1.8h-1.8zM455.0 397.2h1.8v1.8h-1.8zM455.2 390.8h1.8v1.8h-1.8zM455.0 401.7h1.8v1.8h-1.8zM455.7 397.7h1.8v1.8h-1.8zM455.4 396.3h1.8v1.8h-1.8zM455.9 399.2h1.8v1.8h-1.8zM455.4 402.0h1.8v1.8h-1.8zM456.4 384.0h1.8v1.8h-1.8zM456.2 397.7h1.8v1.8h-1.8zM455.6 402.6h1.8v1.8h-1.8zM456.9 395.3h1.8v1.8h-1.8zM456.6 398.2h1.8v1.8h-1.8zM456.5 401.8h1.8v1.8h-1.8zM457.8 402.5h1.8v1.8h-1.8zM457.1 396.5h1.8v1.8h-1.8zM457.1 397.0h1.8v1.8h-1.8zM457.9 397.6h1.8v1.8h-1.8zM457.1 380.4h1.8v1.8h-1.8zM458.1 399.4h1.8v1.8h-1.8zM458.3 396.6h1.8v1.8h-1.8zM457.6 398.0h1.8v1.8h-1.8zM457.6 402.1h1.8v1.8h-1.8zM458.5 400.7h1.8v1.8h-1.8zM458.5 395.8h1.8v1.8h-1.8zM458.3 396.7h1.8v1.8h-1.8zM459.3 393.6h1.8v1.8h-1.8zM459.2 393.6h1.8v1.8h-1.8zM458.9 392.2h1.8v1.8h-1.8zM459.0 393.2h1.8v1.8h-1.8zM459.7 400.2h1.8v1.8h-1.8zM459.1 400.3h1.8v1.8h-1.8zM459.8 399.5h1.8v1.8h-1.8zM459.0 400.2h1.8v1.8h-1.8zM458.8 398.6h1.8v1.8h-1.8zM459.6 401.7h1.8v1.8h-1.8zM459.5 394.1h1.8v1.8h-1.8zM460.5 404.7h1.8v1.8h-1.8zM460.3 405.9h1.8v1.8h-1.8zM460.1 402.6h1.8v1.8h-1.8zM460.2 391.8h1.8v1.8h-1.8zM460.5 401.5h1.8v1.8h-1.8zM460.4 401.1h1.8v1.8h-1.8zM460.4 399.6h1.8v1.8h-1.8zM460.5 395.9h1.8v1.8h-1.8zM460.2 401.7h1.8v1.8h-1.8zM460.5 400.8h1.8v1.8h-1.8zM460.5 392.4h1.8v1.8h-1.8zM460.5 389.5h1.8v1.8h-1.8zM460.5 394.2h1.8v1.8h-1.8zM460.5 390.9h1.8v1.8h-1.8zM460.5 397.6h1.8v1.8h-1.8zM460.5 401.3h1.8v1.8h-1.8zM460.5 395.3h1.8v1.8h-1.8zM455.6 392.4h1.8v1.8h-1.8zM454.7 391.6h1.8v1.8h-1.8zM455.2 388.3h1.8v1.8h-1.8zM455.2 391.4h1.8v1.8h-1.8zM470.4 396.8h1.8v1.8h-1.8zM470.6 389.4h1.8v1.8h-1.8zM470.8 403.2h1.8v1.8h-1.8zM471.0 395.4h1.8v1.8h-1.8zM471.4 397.4h1.8v1.8h-1.8zM470.8 396.7h1.8v1.8h-1.8zM471.3 401.5h1.8v1.8h-1.8zM472.0 396.1h1.8v1.8h-1.8zM472.7 404.6h1.8v1.8h-1.8zM472.2 397.0h1.8v1.8h-1.8zM472.0 406.0h1.8v1.8h-1.8zM472.9 405.1h1.8v1.8h-1.8zM472.3 404.5h1.8v1.8h-1.8zM473.3 401.4h1.8v1.8h-1.8zM473.7 401.8h1.8v1.8h-1.8zM473.4 404.5h1.8v1.8h-1.8zM472.7 400.7h1.8v1.8h-1.8zM474.6 402.5h1.8v1.8h-1.8zM474.2 396.8h1.8v1.8h-1.8zM475.4 401.2h1.8v1.8h-1.8zM474.9 401.4h1.8v1.8h-1.8zM474.8 398.4h1.8v1.8h-1.8zM475.1 393.2h1.8v1.8h-1.8zM476.0 390.9h1.8v1.8h-1.8zM476.5 390.2h1.8v1.8h-1.8zM476.4 390.8h1.8v1.8h-1.8zM476.5 393.5h1.8v1.8h-1.8zM476.9 387.1h1.8v1.8h-1.8zM476.9 385.4h1.8v1.8h-1.8zM476.4 396.3h1.8v1.8h-1.8zM477.0 397.4h1.8v1.8h-1.8zM477.2 384.8h1.8v1.8h-1.8zM477.1 399.1h1.8v1.8h-1.8zM476.5 399.4h1.8v1.8h-1.8zM476.6 388.6h1.8v1.8h-1.8zM477.7 390.4h1.8v1.8h-1.8zM477.4 401.3h1.8v1.8h-1.8zM477.8 400.1h1.8v1.8h-1.8zM477.7 397.8h1.8v1.8h-1.8zM477.7 399.4h1.8v1.8h-1.8zM477.0 401.6h1.8v1.8h-1.8zM477.5 393.4h1.8v1.8h-1.8zM477.9 395.4h1.8v1.8h-1.8zM478.7 396.8h1.8v1.8h-1.8zM478.9 398.7h1.8v1.8h-1.8zM478.4 384.2h1.8v1.8h-1.8zM478.6 400.6h1.8v1.8h-1.8zM479.1 404.2h1.8v1.8h-1.8zM479.4 391.0h1.8v1.8h-1.8zM479.4 404.6h1.8v1.8h-1.8zM479.1 403.4h1.8v1.8h-1.8zM479.4 395.7h1.8v1.8h-1.8zM479.4 400.9h1.8v1.8h-1.8zM479.4 404.4h1.8v1.8h-1.8zM479.4 399.6h1.8v1.8h-1.8zM479.4 402.6h1.8v1.8h-1.8zM479.4 398.5h1.8v1.8h-1.8zM475.5 392.1h1.8v1.8h-1.8zM475.1 389.1h1.8v1.8h-1.8zM475.0 392.7h1.8v1.8h-1.8zM475.1 394.3h1.8v1.8h-1.8zM474.7 390.2h1.8v1.8h-1.8zM474.7 391.9h1.8v1.8h-1.8zM489.1 392.5h1.8v1.8h-1.8zM489.0 398.4h1.8v1.8h-1.8zM489.3 404.2h1.8v1.8h-1.8zM488.7 404.0h1.8v1.8h-1.8zM488.9 404.8h1.8v1.8h-1.8zM489.3 406.9h1.8v1.8h-1.8zM489.0 402.1h1.8v1.8h-1.8zM488.8 391.1h1.8v1.8h-1.8zM488.7 402.3h1.8v1.8h-1.8zM488.8 404.1h1.8v1.8h-1.8zM489.2 407.3h1.8v1.8h-1.8zM489.7 408.4h1.8v1.8h-1.8zM489.7 401.0h1.8v1.8h-1.8zM489.9 408.7h1.8v1.8h-1.8zM490.1 400.6h1.8v1.8h-1.8zM491.1 404.4h1.8v1.8h-1.8zM490.4 396.5h1.8v1.8h-1.8zM491.0 412.2h1.8v1.8h-1.8zM491.2 394.0h1.8v1.8h-1.8zM490.9 407.6h1.8v1.8h-1.8zM491.7 402.7h1.8v1.8h-1.8zM491.0 406.2h1.8v1.8h-1.8zM492.7 403.7h1.8v1.8h-1.8zM492.7 397.1h1.8v1.8h-1.8zM492.3 401.5h1.8v1.8h-1.8zM492.6 408.5h1.8v1.8h-1.8zM492.8 408.9h1.8v1.8h-1.8zM492.8 394.8h1.8v1.8h-1.8zM492.8 400.8h1.8v1.8h-1.8zM492.8 394.8h1.8v1.8h-1.8zM492.8 402.9h1.8v1.8h-1.8zM492.8 407.1h1.8v1.8h-1.8zM492.8 403.3h1.8v1.8h-1.8zM492.8 399.0h1.8v1.8h-1.8zM492.8 409.1h1.8v1.8h-1.8zM492.8 407.8h1.8v1.8h-1.8zM492.8 403.4h1.8v1.8h-1.8zM134.8 359.0h2v2h-2zM130.3 370.3h2v2h-2zM154.8 378.3h2v2h-2zM188.3 373.3h2v2h-2zM193.3 381.5h2v2h-2zM241.0 363.5h2v2h-2zM295.3 362.8h2v2h-2zM293.5 367.0h2v2h-2zM302.8 367.0h2v2h-2zM330.3 368.5h2v2h-2zM250.3 372.3h2v2h-2zM244.8 374.0h2v2h-2zM401.0 352.8h2v2h-2zM330.3 368.5h2v2h-2zM364.0 364.5h2v2h-2zM367.8 366.5h2v2h-2zM426.5 366.0h2v2h-2zM412.0 372.8h2v2h-2zM378.5 373.5h2v2h-2zM452.8 354.4h2v2h-2zM429.0 360.1h2v2h-2zM477.9 361.3h2v2h-2zM452.5 363.6h2v2h-2zM451.3 365.9h2v2h-2zM458.2 364.4h2v2h-2zM474.7 369.8h2v2h-2zM474.7 372.0h2v2h-2z"/>
<line x1="82.7" y1="293.5" x2="82.7" y2="454.4" stroke="#000" stroke-width="1.3" />
<line x1="77.3" y1="453.8" x2="499.4" y2="453.8" stroke="#000" stroke-width="1.3" />
<line x1="77.5" y1="453.8" x2="82.7" y2="453.8" stroke="#000" stroke-width="1.3" />
<text x="72.2" y="457.40000000000003" font-size="13.2" text-anchor="end" >0</text>
<line x1="77.5" y1="414.92" x2="82.7" y2="414.92" stroke="#000" stroke-width="1.3" />
<text x="72.2" y="418.52000000000004" font-size="13.2" text-anchor="end" >2</text>
<line x1="77.5" y1="376.04" x2="82.7" y2="376.04" stroke="#000" stroke-width="1.3" />
<text x="72.2" y="379.64000000000004" font-size="13.2" text-anchor="end" >4</text>
<line x1="77.5" y1="337.15999999999997" x2="82.7" y2="337.15999999999997" stroke="#000" stroke-width="1.3" />
<text x="72.2" y="340.76" font-size="13.2" text-anchor="end" >6</text>
<line x1="77.5" y1="298.28" x2="82.7" y2="298.28" stroke="#000" stroke-width="1.3" />
<text x="72.2" y="301.88" font-size="13.2" text-anchor="end" >8</text>
<line x1="111.7" y1="453.8" x2="111.7" y2="458.6" stroke="#000" stroke-width="1.3" />
<text x="111.7" y="474.6" font-size="13.2" text-anchor="middle" >1</text>
<line x1="145.6" y1="453.8" x2="145.6" y2="458.6" stroke="#000" stroke-width="1.3" />
<text x="145.6" y="474.6" font-size="13.2" text-anchor="middle" >2</text>
<line x1="176.3" y1="453.8" x2="176.3" y2="458.6" stroke="#000" stroke-width="1.3" />
<text x="176.3" y="474.6" font-size="13.2" text-anchor="middle" >3</text>
<line x1="203.3" y1="453.8" x2="203.3" y2="458.6" stroke="#000" stroke-width="1.3" />
<text x="203.3" y="474.6" font-size="13.2" text-anchor="middle" >4</text>
<line x1="229.2" y1="453.8" x2="229.2" y2="458.6" stroke="#000" stroke-width="1.3" />
<text x="229.2" y="474.6" font-size="13.2" text-anchor="middle" >5</text>
<line x1="253.6" y1="453.8" x2="253.6" y2="458.6" stroke="#000" stroke-width="1.3" />
<text x="253.6" y="474.6" font-size="13.2" text-anchor="middle" >6</text>
<line x1="276" y1="453.8" x2="276" y2="458.6" stroke="#000" stroke-width="1.3" />
<text x="276" y="474.6" font-size="13.2" text-anchor="middle" >7</text>
<line x1="297.1" y1="453.8" x2="297.1" y2="458.6" stroke="#000" stroke-width="1.3" />
<text x="297.1" y="474.6" font-size="13.2" text-anchor="middle" >8</text>
<line x1="317.3" y1="453.8" x2="317.3" y2="458.6" stroke="#000" stroke-width="1.3" />
<text x="317.3" y="474.6" font-size="13.2" text-anchor="middle" >9</text>
<line x1="337.5" y1="453.8" x2="337.5" y2="458.6" stroke="#000" stroke-width="1.3" />
<line x1="355.8" y1="453.8" x2="355.8" y2="458.6" stroke="#000" stroke-width="1.3" />
<text x="355.8" y="474.6" font-size="13.2" text-anchor="middle" >11</text>
<line x1="374.2" y1="453.8" x2="374.2" y2="458.6" stroke="#000" stroke-width="1.3" />
<line x1="392.9" y1="453.8" x2="392.9" y2="458.6" stroke="#000" stroke-width="1.3" />
<text x="392.9" y="474.6" font-size="13.2" text-anchor="middle" >13</text>
<line x1="408.3" y1="453.8" x2="408.3" y2="458.6" stroke="#000" stroke-width="1.3" />
<line x1="423.1" y1="453.8" x2="423.1" y2="458.6" stroke="#000" stroke-width="1.3" />
<text x="423.1" y="474.6" font-size="13.2" text-anchor="middle" >15</text>
<line x1="434.8" y1="453.8" x2="434.8" y2="458.6" stroke="#000" stroke-width="1.3" />
<line x1="446.9" y1="453.8" x2="446.9" y2="458.6" stroke="#000" stroke-width="1.3" />
<line x1="458.1" y1="453.8" x2="458.1" y2="458.6" stroke="#000" stroke-width="1.3" />
<text x="458.1" y="474.6" font-size="13.2" text-anchor="middle" >18</text>
<line x1="467.1" y1="453.8" x2="467.1" y2="458.6" stroke="#000" stroke-width="1.3" />
<line x1="476.2" y1="453.8" x2="476.2" y2="458.6" stroke="#000" stroke-width="1.3" />
<line x1="484" y1="453.8" x2="484" y2="458.6" stroke="#000" stroke-width="1.3" />
<text x="484" y="474.6" font-size="13.2" text-anchor="middle" >21</text>
<line x1="491.7" y1="453.8" x2="491.7" y2="458.6" stroke="#000" stroke-width="1.3" />
<text x="252.7" y="496.2" font-size="16.8" textLength="77.3" lengthAdjust="spacingAndGlyphs" >Chromosome</text>
<text transform="translate(55.8,400.2) rotate(-90)" font-size="16" fill="#111" textLength="54" lengthAdjust="spacingAndGlyphs">-log10(<tspan font-style="italic">P</tspan>)</text>
<text transform="translate(11.3,541.1) scale(0.97,1)" font-size="23.3" font-weight="bold" fill="#000" stroke="#000" stroke-width="0.6" stroke-linejoin="round">C</text>
<line x1="98" y1="548.1" x2="130" y2="548.1" stroke="#de901e" stroke-width="1.7" stroke-dasharray="5.4 3.6"/>
<circle cx="115.4" cy="548.1" r="2.8" fill="#de901e"/>
<line x1="98" y1="566" x2="132.8" y2="566" stroke="#21427f" stroke-width="1.7" />
<line x1="98.5" y1="584.4" x2="131.8" y2="584.4" stroke="#4b1f6c" stroke-width="1.6" stroke-dasharray="1.6 2.1"/>
<path d="M115.4,580.6 L119.2,584.4 L115.4,588.2 L111.6,584.4Z" fill="#4b1f6c"/>
<text x="138.4" y="551.3" font-size="13" textLength="75.2" lengthAdjust="spacingAndGlyphs" >HR (discrete)</text>
<text x="138.4" y="569.3" font-size="13" textLength="77.5" lengthAdjust="spacingAndGlyphs" >MR (discrete)</text>
<text x="138.4" y="587.6" font-size="13" textLength="101.3" lengthAdjust="spacingAndGlyphs" >MR (quantitative)</text>
<line x1="83.8" y1="658.2" x2="210.4" y2="658.2" stroke="#000" stroke-width="1.6" stroke-dasharray="1.6 1.6"/>
<text x="216.2" y="662.1" font-size="12.5" fill="#111" textLength="40.3" lengthAdjust="spacingAndGlyphs"><tspan font-style="italic">P</tspan>=0.05</text>
<polyline points="98.7,668.8 131.6,688.7 164.4,658.1 197.7,706.5 230.5,711.6" fill="none" stroke="#4b1f6c" stroke-width="1.6" stroke-dasharray="1.6 2.1"/>
<polyline points="98.7,645.8 131.6,645.8 164.4,608.0 197.7,662.2 230.5,686.2" fill="none" stroke="#21427f" stroke-width="1.6" />
<polyline points="98.7,601.0 131.6,646.0 164.4,608.0 197.7,622.3 230.5,608.0" fill="none" stroke="#de901e" stroke-width="1.6" stroke-dasharray="5 3.5"/>
<rect x="96.50" y="643.60" width="4.40" height="4.40" fill="#21427f"/>
<rect x="129.40" y="643.60" width="4.40" height="4.40" fill="#21427f"/>
<rect x="162.20" y="605.80" width="4.40" height="4.40" fill="#21427f"/>
<rect x="195.50" y="660.00" width="4.40" height="4.40" fill="#21427f"/>
<rect x="228.30" y="684.00" width="4.40" height="4.40" fill="#21427f"/>
<circle cx="98.7" cy="601.0" r="2.7" fill="#de901e"/>
<circle cx="131.6" cy="646.0" r="2.7" fill="#de901e"/>
<circle cx="164.4" cy="608.0" r="2.7" fill="#de901e"/>
<circle cx="197.7" cy="622.3" r="2.7" fill="#de901e"/>
<circle cx="230.5" cy="608.0" r="2.7" fill="#de901e"/>
<path d="M98.7,665.0 L102.5,668.8 L98.7,672.5999999999999 L94.9,668.8Z" fill="#4b1f6c"/>
<path d="M131.6,684.9000000000001 L135.4,688.7 L131.6,692.5 L127.8,688.7Z" fill="#4b1f6c"/>
<path d="M164.4,654.3000000000001 L168.20000000000002,658.1 L164.4,661.9 L160.6,658.1Z" fill="#4b1f6c"/>
<path d="M197.7,702.7 L201.5,706.5 L197.7,710.3 L193.89999999999998,706.5Z" fill="#4b1f6c"/>
<path d="M230.5,707.8000000000001 L234.3,711.6 L230.5,715.4 L226.7,711.6Z" fill="#4b1f6c"/>
<line x1="82.5" y1="596" x2="82.5" y2="734.3" stroke="#000" stroke-width="1.5" />
<line x1="81.9" y1="733.6" x2="248" y2="733.6" stroke="#000" stroke-width="1.5" />
<line x1="77.3" y1="601.0" x2="82.5" y2="601.0" stroke="#000" stroke-width="1.5" />
<text x="71" y="604.6" font-size="13.2" text-anchor="end" >1</text>
<line x1="77.3" y1="645.1" x2="82.5" y2="645.1" stroke="#000" stroke-width="1.5" />
<text x="71" y="648.7" font-size="13.2" text-anchor="end" >0.1</text>
<line x1="77.3" y1="689.2" x2="82.5" y2="689.2" stroke="#000" stroke-width="1.5" />
<text x="71" y="692.8000000000001" font-size="13.2" text-anchor="end" >0.01</text>
<line x1="98.7" y1="733.6" x2="98.7" y2="738.8" stroke="#000" stroke-width="1.5" />
<text x="98.7" y="754.6" font-size="13.2" text-anchor="middle" >12</text>
<line x1="131.6" y1="733.6" x2="131.6" y2="738.8" stroke="#000" stroke-width="1.5" />
<text x="131.6" y="754.6" font-size="13.2" text-anchor="middle" >18</text>
<line x1="164.5" y1="733.6" x2="164.5" y2="738.8" stroke="#000" stroke-width="1.5" />
<text x="164.5" y="754.6" font-size="13.2" text-anchor="middle" >24</text>
<line x1="197.4" y1="733.6" x2="197.4" y2="738.8" stroke="#000" stroke-width="1.5" />
<text x="197.4" y="754.6" font-size="13.2" text-anchor="middle" >30</text>
<line x1="230.3" y1="733.6" x2="230.3" y2="738.8" stroke="#000" stroke-width="1.5" />
<text x="230.3" y="754.6" font-size="13.2" text-anchor="middle" >36</text>
<text x="129.5" y="776" font-size="14.8" textLength="71.5" lengthAdjust="spacingAndGlyphs" >FU (months)</text>
<text transform="translate(39,727.5) rotate(-90)" font-size="17" fill="#111" textLength="125.5" lengthAdjust="spacingAndGlyphs"><tspan font-style="italic">P</tspan>-value (rs12979860)</text>
<text transform="translate(281.6,540.9) scale(1.05,1)" font-size="23.3" font-weight="bold" fill="#000" stroke="#000" stroke-width="0.6" stroke-linejoin="round">D</text>
<rect x="366.50" y="608.20" width="28.90" height="125.30" fill="#2d4a85"/>
<rect x="413.80" y="621.90" width="29.10" height="111.60" fill="#6aa646"/>
<rect x="461.20" y="675.00" width="29.30" height="58.50" fill="#a1002b"/>
<text x="381" y="725.9" font-size="13" text-anchor="middle" fill="#fff" >28</text>
<text x="428.4" y="725.9" font-size="13" text-anchor="middle" fill="#fff" >15</text>
<text x="475.8" y="725.9" font-size="13" text-anchor="middle" fill="#fff" >26</text>
<line x1="349.1" y1="588.1" x2="349.1" y2="734.3" stroke="#000" stroke-width="1.4" />
<line x1="348.4" y1="733.7" x2="508.5" y2="733.7" stroke="#000" stroke-width="1.4" />
<line x1="343.8" y1="733.2" x2="349.1" y2="733.2" stroke="#000" stroke-width="1.4" />
<text x="338.6" y="737.8000000000001" font-size="13.2" text-anchor="end" >0</text>
<line x1="343.8" y1="704.9000000000001" x2="349.1" y2="704.9000000000001" stroke="#000" stroke-width="1.4" />
<text x="338.6" y="709.5000000000001" font-size="13.2" text-anchor="end" >20</text>
<line x1="343.8" y1="676.6" x2="349.1" y2="676.6" stroke="#000" stroke-width="1.4" />
<text x="338.6" y="681.2" font-size="13.2" text-anchor="end" >40</text>
<line x1="343.8" y1="648.3000000000001" x2="349.1" y2="648.3000000000001" stroke="#000" stroke-width="1.4" />
<text x="338.6" y="652.9000000000001" font-size="13.2" text-anchor="end" >60</text>
<line x1="343.8" y1="620.0" x2="349.1" y2="620.0" stroke="#000" stroke-width="1.4" />
<text x="338.6" y="624.6" font-size="13.2" text-anchor="end" >80</text>
<line x1="343.8" y1="591.7" x2="349.1" y2="591.7" stroke="#000" stroke-width="1.4" />
<text x="338.6" y="596.3000000000001" font-size="13.2" text-anchor="end" >100</text>
<line x1="380.9" y1="733.5" x2="380.9" y2="739.2" stroke="#000" stroke-width="1.3" />
<line x1="428.4" y1="733.5" x2="428.4" y2="739.2" stroke="#000" stroke-width="1.3" />
<line x1="475.5" y1="733.5" x2="475.5" y2="739.2" stroke="#000" stroke-width="1.3" />
<text transform="translate(308,676.4) rotate(-90)" font-size="16" fill="#111" textLength="32.4" lengthAdjust="spacingAndGlyphs">% MR</text>
<text transform="translate(388.5,745.5) rotate(-45)" font-size="13.6" fill="#111" text-anchor="end">no IFNL4</text>
<text transform="translate(435.8,745.5) rotate(-45)" font-size="13.6" fill="#111" text-anchor="end">IFNL4-S70</text>
<text transform="translate(483,745.5) rotate(-45)" font-size="13.6" fill="#111" text-anchor="end">IFNL4-P70</text>
<line x1="380.4" y1="563.1" x2="476.2" y2="563.1" stroke="#000" stroke-width="1.3" />
<line x1="380.4" y1="579.7" x2="430.5" y2="579.7" stroke="#000" stroke-width="1.3" />
<line x1="428.2" y1="596.1" x2="476.2" y2="596.1" stroke="#000" stroke-width="1.3" />
<text x="398.2" y="559.2" font-size="12" fill="#111" textLength="60.7" lengthAdjust="spacingAndGlyphs"><tspan font-style="italic">P</tspan>=3.9E-04</text>
<text x="381.1" y="575.8" font-size="12" fill="#111" textLength="48.4" lengthAdjust="spacingAndGlyphs"><tspan font-style="italic">P</tspan>=0.647</text>
<text x="428.4" y="592.2" font-size="12" fill="#111" textLength="48.2" lengthAdjust="spacingAndGlyphs"><tspan font-style="italic">P</tspan>=0.025</text>
<text transform="translate(12.3,831.6) scale(0.88,1)" font-size="23.3" font-weight="bold" fill="#000" stroke="#000" stroke-width="0.6" stroke-linejoin="round">E</text>
<line x1="83.5" y1="946.3" x2="492.3" y2="946.3" stroke="#000" stroke-width="1.5" stroke-dasharray="1.5 1.8"/>
<line x1="108.19999999999999" y1="981.7" x2="159.2" y2="981.7" stroke="#000" stroke-width="1.6" />
<line x1="121.39999999999999" y1="958.5" x2="146.0" y2="958.5" stroke="#000" stroke-width="1.6" />
<line x1="121.39999999999999" y1="1005.2" x2="146.0" y2="1005.2" stroke="#000" stroke-width="1.6" />
<line x1="133.7" y1="958.5" x2="133.7" y2="1005.2" stroke="#000" stroke-width="1.6" />
<line x1="185.5" y1="981.5" x2="236.5" y2="981.5" stroke="#000" stroke-width="1.6" />
<line x1="198.5" y1="963.7" x2="223.5" y2="963.7" stroke="#000" stroke-width="1.6" />
<line x1="198.5" y1="999.2" x2="223.5" y2="999.2" stroke="#000" stroke-width="1.6" />
<line x1="211" y1="963.7" x2="211" y2="999.2" stroke="#000" stroke-width="1.6" />
<line x1="263.15" y1="989.2" x2="313.85" y2="989.2" stroke="#000" stroke-width="1.6" />
<line x1="276.0" y1="964.8" x2="301.0" y2="964.8" stroke="#000" stroke-width="1.6" />
<line x1="276.0" y1="1014.0" x2="301.0" y2="1014.0" stroke="#000" stroke-width="1.6" />
<line x1="288.5" y1="964.8" x2="288.5" y2="1014.0" stroke="#000" stroke-width="1.6" />
<line x1="340.3" y1="964.2" x2="391.3" y2="964.2" stroke="#000" stroke-width="1.6" />
<line x1="353.3" y1="934.4" x2="378.3" y2="934.4" stroke="#000" stroke-width="1.6" />
<line x1="353.3" y1="993.8" x2="378.3" y2="993.8" stroke="#000" stroke-width="1.6" />
<line x1="365.8" y1="934.4" x2="365.8" y2="993.8" stroke="#000" stroke-width="1.6" />
<line x1="417.8" y1="950.3" x2="468.59999999999997" y2="950.3" stroke="#000" stroke-width="1.6" />
<line x1="430.84999999999997" y1="926.1" x2="455.55" y2="926.1" stroke="#000" stroke-width="1.6" />
<line x1="430.84999999999997" y1="974.5" x2="455.55" y2="974.5" stroke="#000" stroke-width="1.6" />
<line x1="443.2" y1="926.1" x2="443.2" y2="974.5" stroke="#000" stroke-width="1.6" />
<circle cx="133.7" cy="931.2" r="3.7" fill="#2d4a87"/>
<circle cx="133.7" cy="947.5" r="3.7" fill="#2d4a87"/>
<circle cx="118.5" cy="956.7" r="3.7" fill="#2d4a87"/>
<circle cx="141" cy="955.8" r="3.7" fill="#2d4a87"/>
<circle cx="126" cy="961" r="3.7" fill="#2d4a87"/>
<circle cx="133.7" cy="961" r="3.7" fill="#2d4a87"/>
<circle cx="141" cy="962.9" r="3.7" fill="#2d4a87"/>
<circle cx="126" cy="968.3" r="3.7" fill="#2d4a87"/>
<circle cx="148.7" cy="967.1" r="3.7" fill="#2d4a87"/>
<circle cx="141" cy="970.6" r="3.7" fill="#2d4a87"/>
<circle cx="133.7" cy="973.5" r="3.7" fill="#2d4a87"/>
<circle cx="126" cy="976.3" r="3.7" fill="#2d4a87"/>
<circle cx="118.5" cy="982.1" r="3.7" fill="#2d4a87"/>
<circle cx="148.7" cy="982.1" r="3.7" fill="#2d4a87"/>
<circle cx="156" cy="983.5" r="3.7" fill="#2d4a87"/>
<circle cx="111.2" cy="986.3" r="3.7" fill="#2d4a87"/>
<circle cx="126" cy="985.6" r="3.7" fill="#2d4a87"/>
<circle cx="118.5" cy="989.4" r="3.7" fill="#2d4a87"/>
<circle cx="133.7" cy="987.9" r="3.7" fill="#2d4a87"/>
<circle cx="141" cy="986.5" r="3.7" fill="#2d4a87"/>
<circle cx="148.7" cy="989.4" r="3.7" fill="#2d4a87"/>
<circle cx="126" cy="993.1" r="3.7" fill="#2d4a87"/>
<circle cx="133.7" cy="1004.6" r="3.7" fill="#2d4a87"/>
<circle cx="126" cy="1011.9" r="3.7" fill="#2d4a87"/>
<circle cx="141" cy="1012.9" r="3.7" fill="#2d4a87"/>
<circle cx="133.7" cy="1016.7" r="3.7" fill="#2d4a87"/>
<circle cx="137.1" cy="1023.5" r="3.7" fill="#2d4a87"/>
<circle cx="129.8" cy="1026.3" r="3.7" fill="#2d4a87"/>
<circle cx="218.7" cy="956.9" r="3.7" fill="#6aab45"/>
<circle cx="188.3" cy="966.5" r="3.7" fill="#6aab45"/>
<circle cx="203.3" cy="969" r="3.7" fill="#6aab45"/>
<circle cx="218.7" cy="967.1" r="3.7" fill="#6aab45"/>
<circle cx="233.8" cy="962.7" r="3.7" fill="#6aab45"/>
<circle cx="211" cy="976.3" r="3.7" fill="#6aab45"/>
<circle cx="188.3" cy="989.8" r="3.7" fill="#6aab45"/>
<circle cx="203.3" cy="994.6" r="3.7" fill="#6aab45"/>
<circle cx="218.7" cy="988.8" r="3.7" fill="#6aab45"/>
<circle cx="233.8" cy="985.4" r="3.7" fill="#6aab45"/>
<circle cx="211" cy="1006.9" r="3.7" fill="#6aab45"/>
<circle cx="211" cy="1014.2" r="3.7" fill="#6aab45"/>
<circle cx="288.5" cy="966.7" r="3.7" fill="#6aab45"/>
<circle cx="288.5" cy="985.4" r="3.7" fill="#6aab45"/>
<circle cx="288.5" cy="1015.6" r="3.7" fill="#6aab45"/>
<circle cx="365.8" cy="921" r="3.7" fill="#a3002c"/>
<circle cx="358.1" cy="929" r="3.7" fill="#a3002c"/>
<circle cx="343.3" cy="932.5" r="3.7" fill="#a3002c"/>
<circle cx="343.3" cy="939.8" r="3.7" fill="#a3002c"/>
<circle cx="343.3" cy="947.5" r="3.7" fill="#a3002c"/>
<circle cx="343.3" cy="955" r="3.7" fill="#a3002c"/>
<circle cx="358.1" cy="950.4" r="3.7" fill="#a3002c"/>
<circle cx="373.5" cy="942.1" r="3.7" fill="#a3002c"/>
<circle cx="373.5" cy="949.8" r="3.7" fill="#a3002c"/>
<circle cx="388.3" cy="935.8" r="3.7" fill="#a3002c"/>
<circle cx="388.3" cy="945.4" r="3.7" fill="#a3002c"/>
<circle cx="358.1" cy="966.2" r="3.7" fill="#a3002c"/>
<circle cx="373.5" cy="971.9" r="3.7" fill="#a3002c"/>
<circle cx="358.1" cy="986.2" r="3.7" fill="#a3002c"/>
<circle cx="373.5" cy="987.7" r="3.7" fill="#a3002c"/>
<circle cx="350.8" cy="999.2" r="3.7" fill="#a3002c"/>
<circle cx="365.8" cy="998.3" r="3.7" fill="#a3002c"/>
<circle cx="380.8" cy="1002.1" r="3.7" fill="#a3002c"/>
<circle cx="373.5" cy="1009.4" r="3.7" fill="#a3002c"/>
<circle cx="358.1" cy="1015.2" r="3.7" fill="#a3002c"/>
<circle cx="436.5" cy="922.6" r="3.7" fill="#a3002c"/>
<circle cx="450.1" cy="922.4" r="3.7" fill="#a3002c"/>
<circle cx="436.5" cy="955.4" r="3.7" fill="#a3002c"/>
<circle cx="450.1" cy="951.9" r="3.7" fill="#a3002c"/>
<circle cx="443.2" cy="969.7" r="3.7" fill="#a3002c"/>
<circle cx="443.2" cy="981.9" r="3.7" fill="#a3002c"/>
<line x1="133.2" y1="849.1" x2="443" y2="849.1" stroke="#000" stroke-width="1.5" />
<line x1="133.2" y1="870.5" x2="365.5" y2="870.5" stroke="#000" stroke-width="1.5" />
<line x1="211" y1="892.9" x2="443" y2="892.9" stroke="#000" stroke-width="1.5" />
<text x="264" y="844.8" font-size="12.5" fill="#111" textLength="48.9" lengthAdjust="spacingAndGlyphs"><tspan font-style="italic">P</tspan>=0.007</text>
<text x="225.6" y="866.5" font-size="12.5" fill="#111" textLength="48.4" lengthAdjust="spacingAndGlyphs"><tspan font-style="italic">P</tspan>=0.033</text>
<text x="302.3" y="888.2" font-size="12.5" fill="#111" textLength="49.8" lengthAdjust="spacingAndGlyphs"><tspan font-style="italic">P</tspan>=0.018</text>
<line x1="82.6" y1="834" x2="82.6" y2="1055.2" stroke="#000" stroke-width="1.5" />
<line x1="77.5" y1="1054.5" x2="495.8" y2="1054.5" stroke="#000" stroke-width="1.6" />
<line x1="78" y1="838.05" x2="82.6" y2="838.05" stroke="#000" stroke-width="1.3" />
<text x="72.9" y="842.55" font-size="13.2" text-anchor="end" >100</text>
<line x1="78" y1="892.175" x2="82.6" y2="892.175" stroke="#000" stroke-width="1.3" />
<text x="72.9" y="896.675" font-size="13.2" text-anchor="end" >50</text>
<line x1="78" y1="946.3" x2="82.6" y2="946.3" stroke="#000" stroke-width="1.3" />
<text x="72.9" y="950.8" font-size="13.2" text-anchor="end" >0</text>
<line x1="78" y1="1000.425" x2="82.6" y2="1000.425" stroke="#000" stroke-width="1.3" />
<text x="72.9" y="1004.925" font-size="13.2" text-anchor="end" >-50</text>
<line x1="78" y1="1054.55" x2="82.6" y2="1054.55" stroke="#000" stroke-width="1.3" />
<text x="72.9" y="1059.05" font-size="13.2" text-anchor="end" >-100</text>
<line x1="133.6" y1="1054.5" x2="133.6" y2="1059.6" stroke="#000" stroke-width="1.5" />
<text x="133.6" y="1075.8" font-size="13" text-anchor="middle" >N/N</text>
<text x="133.6" y="1091.3" font-size="13" text-anchor="middle" >(n=28)</text>
<line x1="211" y1="1054.5" x2="211" y2="1059.6" stroke="#000" stroke-width="1.5" />
<text x="211" y="1075.8" font-size="13" text-anchor="middle" >N/S</text>
<text x="211" y="1091.3" font-size="13" text-anchor="middle" >(n=12)</text>
<line x1="288.5" y1="1054.5" x2="288.5" y2="1059.6" stroke="#000" stroke-width="1.5" />
<text x="288.5" y="1075.8" font-size="13" text-anchor="middle" >P/S</text>
<text x="288.5" y="1091.3" font-size="13" text-anchor="middle" >(n=3)</text>
<line x1="365.8" y1="1054.5" x2="365.8" y2="1059.6" stroke="#000" stroke-width="1.5" />
<text x="365.8" y="1075.8" font-size="13" text-anchor="middle" >P/N</text>
<text x="365.8" y="1091.3" font-size="13" text-anchor="middle" >(n=20)</text>
<line x1="443.2" y1="1054.5" x2="443.2" y2="1059.6" stroke="#000" stroke-width="1.5" />
<text x="443.2" y="1075.8" font-size="13" text-anchor="middle" >P/P</text>
<text x="443.2" y="1091.3" font-size="13" text-anchor="middle" >(n=6)</text>
<text transform="translate(37.3,1023) rotate(-90)" font-size="16.5" fill="#111" textLength="157.8" lengthAdjust="spacingAndGlyphs">JAK2V617F burden change</text>
<rect x="0" y="0" width="520" height="1106" fill="none" stroke="#000" stroke-width="3.4"/>
</svg></body></html>
